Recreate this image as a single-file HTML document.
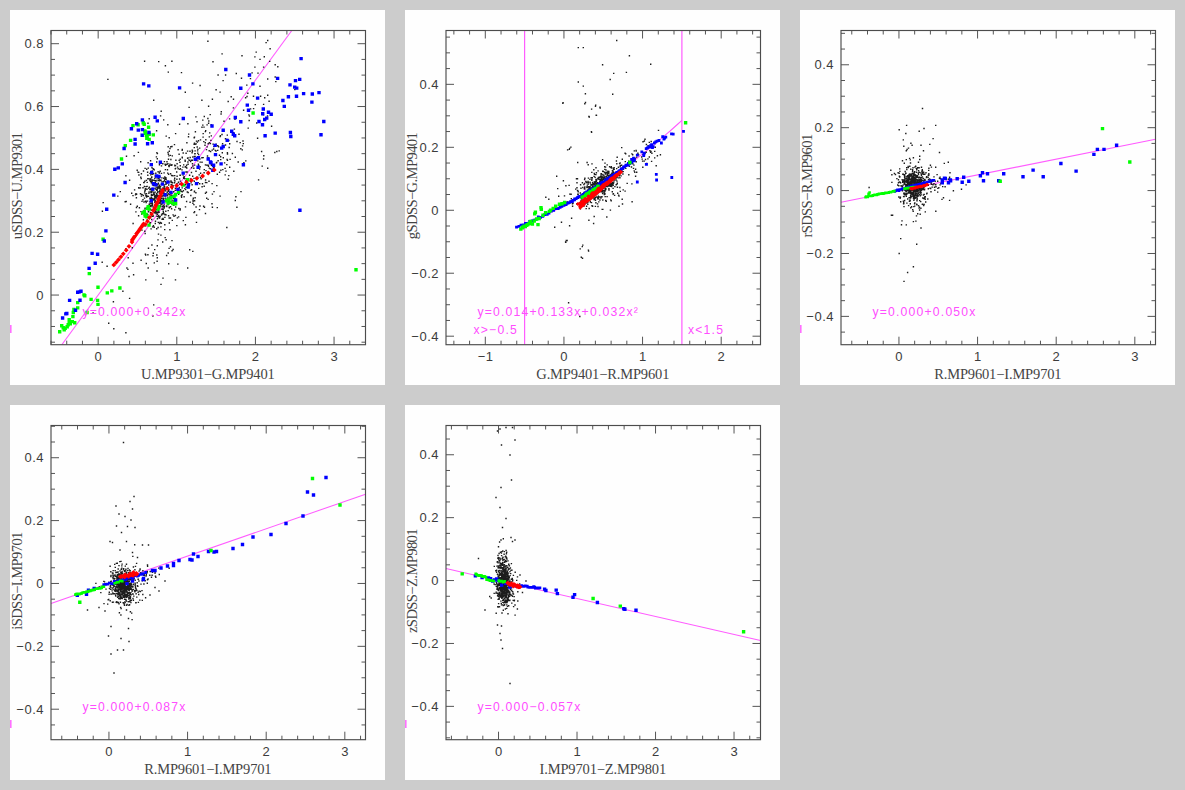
<!DOCTYPE html><html><head><meta charset="utf-8"><title>plots</title><style>
html,body{margin:0;padding:0;background:#ccc;}svg{display:block}.t{font-family:"Liberation Sans",sans-serif;font-size:13px;fill:#3c3c3c;letter-spacing:0.5px}.l{font-family:"Liberation Serif",serif;font-size:14.5px;fill:#444;letter-spacing:-0.15px}.m{font-family:"Liberation Sans",sans-serif;font-size:12.2px;fill:#ff4dff;letter-spacing:1.2px}
</style></head><body>
<svg width="1185" height="790" viewBox="0 0 1185 790">
<rect width="1185" height="790" fill="#cccccc"/>
<defs><filter id="bl" x="-5%" y="-5%" width="110%" height="110%"><feGaussianBlur stdDeviation="0.35"/></filter></defs>
<g>
<rect x="10" y="10" width="375" height="375" fill="#fefefe"/>
<path d="M10.8 325.0v8" stroke="#ff70ff" stroke-width="1.6"/>
<clipPath id="c0"><rect x="51.0" y="30.5" width="314.5" height="314.2"/></clipPath>
<g clip-path="url(#c0)" filter="url(#bl)">
<path d="M51.0 359.5L334.1 -27.3" stroke="#ff5cff" stroke-width="1.05"/><path d="M154.3 199.1h1.4M158.3 186.8h1.4M151.7 205.2h1.4M150.9 194.4h1.4M161.3 209.2h1.4M150.7 194.5h1.4M148.2 193.4h1.4M158.7 196.3h1.4M163.4 195.9h1.4M150.7 197.8h1.4M154.3 188.4h1.4M154.3 200.7h1.4M144.1 231.2h1.4M168.4 194.7h1.4M174.3 198.8h1.4M164.7 179.3h1.4M156.9 204.2h1.4M141.0 214.0h1.4M143.7 186.5h1.4M156.3 216.2h1.4M151.5 170.9h1.4M157.3 187.8h1.4M159.2 190.5h1.4M158.5 179.9h1.4M159.5 216.4h1.4M135.2 193.7h1.4M159.9 200.3h1.4M170.3 195.0h1.4M158.7 206.8h1.4M150.7 195.9h1.4M154.1 202.3h1.4M154.5 192.1h1.4M173.3 196.9h1.4M158.6 173.0h1.4M147.1 214.7h1.4M155.9 180.9h1.4M165.7 205.9h1.4M150.2 216.3h1.4M137.9 215.7h1.4M159.4 222.5h1.4M152.0 179.9h1.4M159.5 202.3h1.4M160.9 195.8h1.4M158.7 208.6h1.4M145.8 193.8h1.4M155.9 198.0h1.4M150.2 198.2h1.4M144.1 181.2h1.4M163.1 208.1h1.4M143.5 212.7h1.4M163.2 193.6h1.4M156.0 228.8h1.4M162.3 200.3h1.4M151.3 203.8h1.4M151.2 181.6h1.4M155.3 213.5h1.4M152.7 185.6h1.4M163.4 204.9h1.4M159.0 217.7h1.4M156.6 205.7h1.4M160.9 189.7h1.4M152.7 216.0h1.4M151.1 177.0h1.4M157.1 186.9h1.4M148.5 204.3h1.4M144.9 195.9h1.4M153.2 193.9h1.4M146.6 215.0h1.4M168.2 203.5h1.4M152.1 184.0h1.4M149.3 201.7h1.4M154.5 180.9h1.4M155.1 201.6h1.4M145.1 225.9h1.4M150.3 179.2h1.4M157.1 196.5h1.4M151.1 192.2h1.4M151.2 203.7h1.4M145.2 224.2h1.4M152.9 169.3h1.4M161.3 203.8h1.4M155.8 193.8h1.4M156.5 203.8h1.4M157.7 188.1h1.4M154.1 199.1h1.4M162.5 209.8h1.4M157.2 184.8h1.4M154.3 201.9h1.4M159.0 203.0h1.4M158.1 216.8h1.4M141.3 230.1h1.4M151.9 226.9h1.4M163.5 208.0h1.4M144.1 191.3h1.4M147.0 207.8h1.4M156.1 189.5h1.4M144.8 194.1h1.4M156.2 189.2h1.4M153.7 199.7h1.4M146.9 172.3h1.4M146.4 220.0h1.4M154.5 195.7h1.4M152.9 198.9h1.4M149.7 222.8h1.4M162.6 211.7h1.4M158.9 200.5h1.4M158.7 196.0h1.4M164.0 229.6h1.4M153.3 207.8h1.4M163.0 208.0h1.4M160.5 201.8h1.4M157.6 222.4h1.4M160.9 215.0h1.4M156.6 245.8h1.4M173.4 196.0h1.4M163.5 186.8h1.4M165.6 189.0h1.4M162.3 218.5h1.4M156.1 195.9h1.4M160.0 222.7h1.4M156.4 178.9h1.4M159.8 206.2h1.4M157.3 239.9h1.4M156.5 212.2h1.4M150.9 177.5h1.4M144.5 189.7h1.4M167.0 173.1h1.4M156.8 200.3h1.4M170.3 181.0h1.4M149.8 209.2h1.4M151.9 183.6h1.4M159.9 205.3h1.4M151.9 216.3h1.4M161.4 219.3h1.4M163.0 195.2h1.4M145.0 188.9h1.4M158.6 177.8h1.4M142.6 195.5h1.4M174.0 203.3h1.4M165.2 184.3h1.4M158.6 218.1h1.4M163.2 200.7h1.4M157.5 216.8h1.4M155.3 204.6h1.4M156.9 187.0h1.4M153.9 197.0h1.4M142.3 187.7h1.4M156.8 184.9h1.4M162.9 212.9h1.4M153.0 209.5h1.4M157.3 212.5h1.4M151.9 184.2h1.4M147.5 178.7h1.4M159.1 179.9h1.4M164.7 196.9h1.4M143.9 192.9h1.4M167.5 193.8h1.4M159.3 193.6h1.4M144.3 209.0h1.4M153.6 169.9h1.4M154.6 211.0h1.4M148.5 205.8h1.4M161.9 206.2h1.4M147.1 178.8h1.4M156.7 218.7h1.4M155.3 189.3h1.4M160.0 198.8h1.4M147.6 168.1h1.4M150.0 206.4h1.4M150.4 188.6h1.4M161.1 200.7h1.4M148.1 188.2h1.4M150.7 210.3h1.4M164.2 217.4h1.4M146.7 214.3h1.4M139.6 184.7h1.4M156.5 190.3h1.4M154.1 198.7h1.4M155.5 187.1h1.4M160.9 196.4h1.4M146.0 197.1h1.4M160.3 180.2h1.4M160.4 189.1h1.4M159.5 203.5h1.4M167.3 204.7h1.4M150.0 174.9h1.4M156.1 190.4h1.4M166.1 206.6h1.4M162.5 198.1h1.4M145.4 186.6h1.4M140.7 173.7h1.4M162.1 195.9h1.4M154.6 200.9h1.4M161.5 209.1h1.4M151.6 189.5h1.4M165.1 211.3h1.4M150.9 182.4h1.4M158.6 205.7h1.4M153.5 227.2h1.4M157.5 195.9h1.4M171.6 185.2h1.4M156.8 187.5h1.4M169.5 192.4h1.4M156.7 201.1h1.4M147.7 211.7h1.4M174.9 203.8h1.4M150.8 182.0h1.4M151.5 198.4h1.4M155.1 173.3h1.4M169.6 201.8h1.4M143.9 225.7h1.4M152.3 206.7h1.4M157.7 210.7h1.4M159.6 201.8h1.4M145.3 201.3h1.4M151.3 195.2h1.4M159.7 199.3h1.4M158.8 193.2h1.4M151.2 180.5h1.4M140.1 177.3h1.4M154.8 221.3h1.4M147.7 196.4h1.4M150.9 203.9h1.4M169.8 218.0h1.4M152.2 190.9h1.4M156.9 188.9h1.4M149.7 181.0h1.4M157.7 183.2h1.4M167.5 191.4h1.4M151.4 200.4h1.4M155.1 206.0h1.4M140.9 194.4h1.4M154.7 176.7h1.4M149.5 203.4h1.4M159.2 176.9h1.4M150.0 181.6h1.4M158.0 178.6h1.4M154.6 212.5h1.4M152.8 209.6h1.4M165.4 183.9h1.4M148.7 187.2h1.4M151.5 198.6h1.4M144.8 201.2h1.4M149.7 212.4h1.4M173.0 197.9h1.4M172.4 214.9h1.4M159.3 171.6h1.4M157.1 188.3h1.4M163.0 213.9h1.4M157.0 191.9h1.4M174.6 201.3h1.4M160.5 191.7h1.4M158.5 186.9h1.4M156.0 196.0h1.4M150.8 191.3h1.4M154.1 195.5h1.4M153.1 192.5h1.4M152.4 200.0h1.4M151.8 203.8h1.4M151.0 212.9h1.4M149.1 180.1h1.4M139.8 193.7h1.4M151.5 202.4h1.4M152.3 185.0h1.4M162.6 192.1h1.4M162.6 199.2h1.4M164.1 193.7h1.4M158.7 185.1h1.4M152.8 194.2h1.4M156.4 204.7h1.4M149.5 205.6h1.4M144.5 190.3h1.4M155.7 209.8h1.4M159.3 199.2h1.4M142.7 219.8h1.4M158.4 212.2h1.4M165.9 199.6h1.4M149.0 204.4h1.4M150.4 205.6h1.4M151.0 203.2h1.4M150.9 164.1h1.4M161.6 190.1h1.4M168.9 199.9h1.4M145.5 202.5h1.4M147.1 175.3h1.4M146.8 196.2h1.4M156.9 201.2h1.4M157.6 205.5h1.4M164.9 190.9h1.4M162.2 200.3h1.4M142.4 212.9h1.4M146.7 207.8h1.4M154.7 211.2h1.4M167.5 210.6h1.4M142.3 199.7h1.4M152.2 195.2h1.4M154.4 211.1h1.4M156.8 184.5h1.4M169.2 192.3h1.4M151.7 180.8h1.4M152.7 185.2h1.4M167.9 215.8h1.4M135.8 207.5h1.4M154.1 178.5h1.4M144.4 208.1h1.4M155.6 212.0h1.4M149.0 223.1h1.4M158.7 195.9h1.4M162.6 200.1h1.4M151.7 183.3h1.4M156.6 158.7h1.4M149.3 178.8h1.4M161.9 213.6h1.4M151.6 190.9h1.4M167.2 201.7h1.4M166.8 197.1h1.4M160.2 226.9h1.4M152.3 210.5h1.4M160.8 173.4h1.4M170.4 184.9h1.4M161.0 198.2h1.4M150.2 192.6h1.4M163.0 178.3h1.4M156.0 162.0h1.4M149.9 160.8h1.4M151.0 199.7h1.4M135.9 194.2h1.4M150.0 189.3h1.4M158.8 202.7h1.4M164.3 214.5h1.4M168.5 207.2h1.4M174.2 181.0h1.4M151.9 183.5h1.4M162.8 206.0h1.4M161.5 196.1h1.4M146.5 182.4h1.4M206.0 198.2h1.4M173.9 182.8h1.4M168.5 218.0h1.4M149.9 199.5h1.4M151.1 165.5h1.4M175.0 207.0h1.4M155.7 156.9h1.4M166.3 161.8h1.4M162.0 188.3h1.4M164.5 214.7h1.4M168.9 194.9h1.4M139.7 187.9h1.4M183.5 176.7h1.4M163.3 193.0h1.4M136.5 170.3h1.4M149.1 198.1h1.4M178.4 190.9h1.4M138.4 188.1h1.4M171.6 220.4h1.4M146.3 189.2h1.4M184.8 206.9h1.4M180.7 195.7h1.4M170.2 159.5h1.4M170.2 182.0h1.4M169.9 173.8h1.4M195.4 207.0h1.4M186.9 158.2h1.4M165.4 201.3h1.4M174.6 168.8h1.4M174.9 168.4h1.4M182.4 175.1h1.4M156.7 153.6h1.4M151.0 219.5h1.4M152.7 225.7h1.4M145.7 195.7h1.4M176.3 183.6h1.4M166.5 192.3h1.4M168.7 202.3h1.4M176.8 192.1h1.4M165.3 179.0h1.4M125.8 156.2h1.4M184.3 178.8h1.4M174.8 193.4h1.4M176.1 225.6h1.4M165.9 183.2h1.4M162.6 183.5h1.4M165.9 255.5h1.4M166.2 182.6h1.4M150.2 191.5h1.4M138.0 172.4h1.4M132.3 195.6h1.4M167.3 181.2h1.4M174.7 188.3h1.4M146.8 201.1h1.4M164.4 164.2h1.4M145.7 180.4h1.4M150.7 182.8h1.4M138.2 175.0h1.4M164.7 164.7h1.4M159.9 186.5h1.4M168.6 207.8h1.4M168.6 200.6h1.4M162.7 219.4h1.4M184.7 224.7h1.4M177.8 182.3h1.4M146.0 169.2h1.4M171.3 186.6h1.4M184.1 188.6h1.4M180.3 191.3h1.4M168.6 197.1h1.4M163.8 206.6h1.4M151.7 190.3h1.4M178.2 188.8h1.4M164.2 189.1h1.4M162.7 191.2h1.4M165.5 179.6h1.4M159.4 192.1h1.4M140.7 196.1h1.4M174.1 165.3h1.4M165.7 188.1h1.4M163.7 185.0h1.4M168.5 137.7h1.4M149.3 173.4h1.4M160.7 184.4h1.4M165.4 183.2h1.4M173.5 200.7h1.4M152.0 180.1h1.4M162.4 207.9h1.4M147.4 162.8h1.4M164.1 176.9h1.4M171.5 188.7h1.4M190.1 195.5h1.4M190.2 190.4h1.4M183.0 178.2h1.4M179.4 210.0h1.4M152.4 168.8h1.4M168.3 189.8h1.4M160.7 223.3h1.4M158.1 198.4h1.4M147.5 209.2h1.4M171.6 195.9h1.4M170.9 175.5h1.4M158.8 200.6h1.4M185.2 217.4h1.4M161.2 177.9h1.4M140.0 161.7h1.4M150.4 228.9h1.4M193.7 191.8h1.4M164.6 177.8h1.4M171.3 202.1h1.4M192.3 199.9h1.4M142.8 171.0h1.4M153.8 185.4h1.4M176.8 190.4h1.4M164.0 186.9h1.4M153.6 194.2h1.4M171.2 204.0h1.4M156.2 189.4h1.4M193.2 204.6h1.4M156.5 176.5h1.4M178.1 208.5h1.4M176.9 167.1h1.4M154.7 207.5h1.4M165.4 214.9h1.4M162.3 191.5h1.4M137.2 172.1h1.4M159.0 195.4h1.4M168.7 200.4h1.4M162.1 163.8h1.4M170.2 203.4h1.4M181.4 194.8h1.4M182.1 173.3h1.4M168.0 185.0h1.4M178.5 160.4h1.4M162.9 181.6h1.4M167.5 146.7h1.4M152.9 173.7h1.4M168.6 223.0h1.4M152.0 188.5h1.4M168.0 190.0h1.4M154.7 180.7h1.4M178.0 194.3h1.4M147.9 211.3h1.4M160.1 195.3h1.4M160.8 165.9h1.4M135.7 197.7h1.4M161.1 204.3h1.4M187.1 185.8h1.4M128.9 180.3h1.4M177.7 182.6h1.4M158.0 203.1h1.4M190.4 182.9h1.4M184.9 184.5h1.4M169.9 206.8h1.4M163.9 179.1h1.4M155.7 195.4h1.4M146.4 186.4h1.4M159.0 186.3h1.4M143.4 182.5h1.4M203.5 186.3h1.4M163.7 161.6h1.4M157.4 171.8h1.4M168.2 181.9h1.4M137.7 152.4h1.4M186.0 187.2h1.4M170.7 184.4h1.4M134.8 194.9h1.4M171.2 200.1h1.4M144.4 168.4h1.4M176.0 172.0h1.4M191.4 184.8h1.4M174.0 209.9h1.4M133.4 155.8h1.4M157.4 191.7h1.4M149.7 198.7h1.4M159.1 180.8h1.4M160.8 191.0h1.4M167.5 188.0h1.4M156.8 192.5h1.4M173.1 205.3h1.4M172.6 201.0h1.4M170.9 208.7h1.4M171.1 182.2h1.4M169.4 192.6h1.4M174.2 165.7h1.4M163.7 180.8h1.4M154.3 208.5h1.4M143.8 198.1h1.4M193.3 212.6h1.4M144.7 188.6h1.4M149.2 189.5h1.4M172.6 185.9h1.4M161.0 193.9h1.4M155.6 189.1h1.4M164.9 165.3h1.4M166.8 169.7h1.4M222.1 169.6h1.4M187.4 157.9h1.4M241.9 145.9h1.4M170.1 146.7h1.4M182.5 153.0h1.4M226.6 135.1h1.4M165.5 136.1h1.4M207.5 143.7h1.4M222.6 157.8h1.4M179.3 175.2h1.4M179.6 208.9h1.4M125.2 175.7h1.4M179.2 162.3h1.4M179.7 168.8h1.4M194.4 153.6h1.4M192.2 166.0h1.4M179.6 165.7h1.4M204.7 131.6h1.4M148.4 192.0h1.4M197.5 182.6h1.4M207.7 173.7h1.4M218.9 172.3h1.4M159.1 188.3h1.4M164.1 224.8h1.4M248.2 114.9h1.4M179.7 181.1h1.4M227.5 179.3h1.4M179.2 184.2h1.4M201.2 157.7h1.4M154.7 182.5h1.4M207.8 172.2h1.4M181.6 149.4h1.4M186.1 168.1h1.4M212.8 167.8h1.4M159.5 171.2h1.4M192.2 203.2h1.4M197.8 140.7h1.4M225.3 171.1h1.4M140.5 178.5h1.4M169.7 155.4h1.4M156.6 214.2h1.4M234.3 119.2h1.4M183.9 185.2h1.4M211.4 183.6h1.4M202.5 157.6h1.4M155.3 197.6h1.4M160.1 199.4h1.4M167.9 201.3h1.4M228.1 140.5h1.4M209.9 151.5h1.4M199.9 173.2h1.4M204.8 193.3h1.4M201.4 186.7h1.4M205.8 149.6h1.4M207.4 199.4h1.4M194.0 165.1h1.4M195.2 116.9h1.4M184.9 189.6h1.4M196.9 177.3h1.4M178.4 154.3h1.4M182.7 190.7h1.4M244.9 97.7h1.4M181.5 187.9h1.4M193.9 200.7h1.4M196.1 157.7h1.4M208.6 168.1h1.4M194.7 131.7h1.4M208.5 150.7h1.4M193.1 168.3h1.4M185.4 153.2h1.4M201.3 175.8h1.4M245.1 160.9h1.4M159.5 197.3h1.4M204.8 182.5h1.4M203.8 207.2h1.4M202.4 137.1h1.4M138.0 187.7h1.4M210.8 165.3h1.4M209.0 132.9h1.4M181.5 191.7h1.4M185.3 172.0h1.4M199.1 159.0h1.4M184.4 160.1h1.4M154.5 197.2h1.4M199.7 177.4h1.4M186.4 172.0h1.4M161.5 214.0h1.4M199.0 183.8h1.4M165.2 198.6h1.4M188.9 175.2h1.4M169.2 229.8h1.4M153.4 180.4h1.4M185.9 201.5h1.4M216.6 174.3h1.4M174.0 178.3h1.4M159.4 187.1h1.4M214.7 154.8h1.4M192.0 176.3h1.4M160.4 163.3h1.4M160.1 206.5h1.4M196.9 150.9h1.4M124.5 201.7h1.4M190.9 189.7h1.4M159.3 188.9h1.4M133.9 189.9h1.4M197.2 149.3h1.4M189.4 202.2h1.4M171.2 164.8h1.4M167.3 187.6h1.4M164.9 181.8h1.4M206.6 165.1h1.4M207.8 166.3h1.4M179.9 189.8h1.4M219.7 135.8h1.4M199.3 206.0h1.4M179.7 175.2h1.4M173.8 180.0h1.4M195.9 215.1h1.4M101.7 211.2h1.4M164.2 190.7h1.4M193.6 181.2h1.4M177.4 149.8h1.4M196.5 147.0h1.4M210.6 124.7h1.4M226.4 159.5h1.4M210.7 164.2h1.4M220.2 170.2h1.4M195.3 171.3h1.4M167.3 152.5h1.4M202.1 125.1h1.4M156.2 152.8h1.4M186.6 192.0h1.4M155.4 184.1h1.4M156.3 194.5h1.4M176.4 176.2h1.4M224.5 174.9h1.4M192.1 157.0h1.4M203.6 169.6h1.4M199.0 148.1h1.4M214.6 150.4h1.4M229.0 167.2h1.4M224.4 168.4h1.4M229.0 143.8h1.4M186.9 151.1h1.4M204.7 164.9h1.4M202.5 133.6h1.4M165.2 177.7h1.4M136.6 206.3h1.4M242.1 163.8h1.4M229.4 159.4h1.4M239.5 142.6h1.4M180.9 197.2h1.4M226.8 154.0h1.4M207.3 157.6h1.4M188.2 159.9h1.4M226.7 152.8h1.4M192.6 198.2h1.4M199.6 166.9h1.4M180.8 196.2h1.4M189.8 179.0h1.4M209.7 168.7h1.4M220.0 159.6h1.4M218.8 155.3h1.4M183.4 177.7h1.4M221.6 152.8h1.4M174.8 165.6h1.4M172.3 175.7h1.4M138.7 207.8h1.4M204.9 180.0h1.4M197.9 154.6h1.4M183.0 164.9h1.4M192.4 201.2h1.4M194.1 153.8h1.4M167.7 191.6h1.4M200.4 178.8h1.4M193.4 144.3h1.4M194.4 144.2h1.4M158.8 164.8h1.4M201.8 183.8h1.4M178.6 187.4h1.4M177.9 216.9h1.4M248.5 120.5h1.4M161.3 181.7h1.4M174.7 190.4h1.4M233.0 132.7h1.4M181.5 150.2h1.4M141.3 201.4h1.4M208.6 136.9h1.4M215.4 144.1h1.4M193.8 143.1h1.4M131.0 193.3h1.4M140.3 211.6h1.4M204.8 213.5h1.4M176.4 163.8h1.4M168.5 166.6h1.4M198.9 169.1h1.4M132.4 223.5h1.4M198.0 188.4h1.4M170.8 184.8h1.4M169.3 165.2h1.4M240.1 148.7h1.4M182.2 167.1h1.4M163.7 189.8h1.4M164.7 169.6h1.4M179.1 169.4h1.4M210.2 140.4h1.4M153.6 212.7h1.4M175.2 160.3h1.4M223.9 162.9h1.4M143.7 215.2h1.4M228.1 175.6h1.4M189.5 157.5h1.4M195.2 192.8h1.4M187.5 192.5h1.4M155.8 185.4h1.4M205.3 170.6h1.4M187.8 136.7h1.4M226.1 164.6h1.4M203.1 141.6h1.4M216.7 145.7h1.4M159.0 191.5h1.4M143.0 182.6h1.4M199.5 162.1h1.4M174.7 215.5h1.4M168.1 166.1h1.4M174.0 175.6h1.4M190.8 172.5h1.4M188.7 160.4h1.4M173.0 191.7h1.4M177.5 168.8h1.4M201.3 162.2h1.4M157.6 180.6h1.4M207.5 165.3h1.4M194.4 197.8h1.4M181.3 169.9h1.4M187.2 162.0h1.4M166.6 195.2h1.4M197.9 165.4h1.4M168.6 151.2h1.4M178.9 124.3h1.4M197.1 153.3h1.4M151.3 167.8h1.4M205.7 192.2h1.4M208.6 142.7h1.4M181.6 157.8h1.4M191.4 152.8h1.4M183.4 196.8h1.4M154.5 175.9h1.4M193.8 137.1h1.4M125.5 201.5h1.4M167.4 193.9h1.4M206.8 156.0h1.4M233.1 171.2h1.4M168.1 165.6h1.4M186.2 142.7h1.4M155.4 196.9h1.4M213.2 146.6h1.4M213.4 167.2h1.4M182.6 220.6h1.4M162.3 193.2h1.4M173.8 144.6h1.4M226.8 160.4h1.4M212.4 144.1h1.4M193.9 211.7h1.4M217.4 160.8h1.4M206.1 182.6h1.4M149.1 217.5h1.4M216.0 162.4h1.4M185.3 180.7h1.4M195.8 141.1h1.4M173.0 198.6h1.4M176.2 179.2h1.4M182.9 177.4h1.4M237.5 162.0h1.4M181.5 157.3h1.4M242.3 141.0h1.4M205.6 165.1h1.4M195.5 143.9h1.4M146.0 208.5h1.4M209.7 143.5h1.4M191.8 163.8h1.4M141.4 194.6h1.4M193.6 147.6h1.4M163.4 172.9h1.4M168.2 155.9h1.4M217.0 150.4h1.4M216.1 185.6h1.4M171.9 182.8h1.4M212.9 149.0h1.4M198.5 174.9h1.4M202.9 206.2h1.4M184.9 166.7h1.4M169.3 164.2h1.4M148.3 206.6h1.4M185.3 187.3h1.4M221.3 134.5h1.4M193.5 137.7h1.4M224.8 138.8h1.4M201.3 127.2h1.4M163.0 119.9h1.4M166.2 164.2h1.4M242.6 143.6h1.4M167.9 174.2h1.4M193.7 156.5h1.4M242.9 110.3h1.4M270.9 126.3h1.4M198.8 209.6h1.4M262.9 104.4h1.4M174.9 133.6h1.4M248.7 116.1h1.4M191.7 160.3h1.4M256.0 123.0h1.4M195.8 222.4h1.4M231.7 153.5h1.4M199.8 139.9h1.4M226.2 139.4h1.4M219.4 92.1h1.4M238.3 134.2h1.4M205.1 139.7h1.4M233.7 129.1h1.4M206.4 124.9h1.4M205.0 130.6h1.4M171.3 146.5h1.4M196.7 142.1h1.4M197.1 160.9h1.4M215.8 162.7h1.4M223.3 121.2h1.4M193.8 191.1h1.4M266.8 116.0h1.4M232.8 99.2h1.4M232.7 107.9h1.4M180.8 72.6h1.4M185.8 167.5h1.4M246.3 96.5h1.4M187.4 164.2h1.4M160.5 111.3h1.4M184.5 167.0h1.4M206.5 146.9h1.4M211.7 99.3h1.4M169.3 148.5h1.4M209.5 114.6h1.4M191.8 151.2h1.4M170.9 165.2h1.4M194.4 150.9h1.4M217.2 145.7h1.4M193.3 178.4h1.4M208.3 181.2h1.4M203.4 172.7h1.4M241.6 149.9h1.4M228.5 147.5h1.4M189.7 181.4h1.4M194.4 156.5h1.4M167.2 163.8h1.4M224.8 145.0h1.4M220.4 114.0h1.4M179.5 159.3h1.4M190.5 160.2h1.4M256.9 138.2h1.4M155.9 130.8h1.4M163.4 188.3h1.4M135.2 211.9h1.4M236.3 141.5h1.4M202.1 120.1h1.4M151.5 174.2h1.4M221.9 143.7h1.4M252.9 108.6h1.4M228.9 118.9h1.4M185.9 165.3h1.4M166.4 186.9h1.4M227.5 101.5h1.4M163.2 198.7h1.4M197.7 164.3h1.4M178.9 179.0h1.4M243.2 162.6h1.4M211.5 150.1h1.4M167.1 124.7h1.4M254.2 56.9h1.4M294.1 89.6h1.4M240.8 78.3h1.4M254.6 104.6h1.4M263.1 155.7h1.4M217.9 146.8h1.4M167.8 159.3h1.4M184.5 161.3h1.4M262.7 114.9h1.4M249.9 108.9h1.4M247.5 128.1h1.4M191.5 150.1h1.4M203.3 127.1h1.4M220.6 111.7h1.4M188.0 134.1h1.4M215.3 151.0h1.4M204.6 142.7h1.4M190.9 167.8h1.4M220.0 156.7h1.4M162.6 193.2h1.4M208.1 121.0h1.4M171.6 155.9h1.4M187.2 123.7h1.4M231.0 130.9h1.4M207.9 123.2h1.4M204.3 145.2h1.4M189.3 151.2h1.4M219.4 136.6h1.4M234.6 157.2h1.4M210.6 135.9h1.4M189.9 161.5h1.4M167.7 154.2h1.4M168.4 248.4h1.4M173.3 216.2h1.4M168.0 263.7h1.4M154.0 249.6h1.4M145.0 255.0h1.4M143.3 202.0h1.4M153.0 304.9h1.4M145.6 263.5h1.4M147.2 254.7h1.4M150.4 206.6h1.4M162.0 242.0h1.4M152.3 255.7h1.4M127.5 257.7h1.4M156.1 255.0h1.4M147.8 248.3h1.4M144.7 254.2h1.4M177.1 264.1h1.4M143.6 212.7h1.4M151.2 245.0h1.4M157.9 195.4h1.4M176.7 217.9h1.4M167.5 253.0h1.4M157.8 234.1h1.4M156.4 261.3h1.4M160.2 235.1h1.4M156.3 271.0h1.4M171.3 240.6h1.4M157.9 215.5h1.4M158.8 223.5h1.4M157.4 227.5h1.4M142.3 211.8h1.4M169.8 246.8h1.4M145.1 279.9h1.4M172.4 249.5h1.4M165.4 239.7h1.4M164.5 237.6h1.4M144.5 233.5h1.4M154.6 223.5h1.4M131.6 247.8h1.4M174.8 279.9h1.4M207.2 41.3h1.4M143.9 61.2h1.4M158.0 61.6h1.4M171.2 61.2h1.4M164.7 65.8h1.4M167.6 72.1h1.4M107.2 79.4h1.4M191.9 83.1h1.4M199.4 85.5h1.4M184.6 92.2h1.4M153.0 100.3h1.4M201.2 100.3h1.4M188.4 107.4h1.4M207.9 106.2h1.4M159.9 115.9h1.4M203.6 116.5h1.4M207.2 118.5h1.4M148.5 118.7h1.4M196.3 121.7h1.4M147.3 123.2h1.4M267.0 40.5h1.4M265.4 42.6h1.4M269.4 48.8h1.4M255.5 52.1h1.4M221.4 53.9h1.4M241.3 55.7h1.4M263.6 56.7h1.4M212.3 61.8h1.4M259.3 59.4h1.4M269.0 61.4h1.4M274.5 64.8h1.4M277.1 66.7h1.4M254.2 67.1h1.4M262.9 67.1h1.4M235.6 73.5h1.4M251.4 72.9h1.4M257.3 73.1h1.4M217.4 75.0h1.4M224.9 75.0h1.4M249.8 78.6h1.4M267.0 79.0h1.4M274.5 77.0h1.4M275.1 81.6h1.4M222.4 80.6h1.4M246.1 85.1h1.4M259.3 86.3h1.4M215.4 89.7h1.4M247.1 93.2h1.4M252.8 96.2h1.4M259.9 96.2h1.4M267.0 95.2h1.4M264.0 97.8h1.4M230.5 96.8h1.4M268.4 101.3h1.4M274.1 152.5h1.4M276.1 151.5h1.4M278.5 150.9h1.4M257.9 179.9h1.4M267.0 168.3h1.4M261.5 166.1h1.4M262.9 159.0h1.4M260.9 151.5h1.4M213.3 191.6h1.4M211.7 194.1h1.4M219.4 196.1h1.4M240.3 191.6h1.4M235.2 196.7h1.4M234.6 200.5h1.4M211.3 203.8h1.4M211.7 207.2h1.4M216.6 207.6h1.4M236.2 207.2h1.4M226.1 227.5h1.4M119.6 191.6h1.4M117.1 196.1h1.4M102.5 202.6h1.4M129.9 204.2h1.4M101.5 262.3h1.4M106.4 266.2h1.4M125.2 248.7h1.4M126.2 268.0h1.4M127.2 269.4h1.4M132.3 263.3h1.4M140.4 260.3h1.4M132.9 274.7h1.4M128.3 276.5h1.4M162.3 278.1h1.4M160.3 284.4h1.4M122.2 291.3h1.4M128.9 298.4h1.4M112.7 301.8h1.4M92.4 312.9h1.4M152.2 316.0h1.4M108.0 323.3h1.4M113.1 328.7h1.4M125.2 332.8h1.4M187.0 268.0h1.4M189.0 249.7h1.4M192.1 251.4h1.4M171.4 250.8h1.4M153.6 262.9h1.4M147.5 268.0h1.4M152.6 253.2h1.4M156.6 257.8h1.4" stroke="#1c1c1c" stroke-width="1.4" fill="none"/><path d="M101.4 237.5h3.4v3.4h-3.4zM87.6 271.9h3.4v3.4h-3.4zM96.3 285.5h3.4v3.4h-3.4zM118.2 286.3h3.4v3.4h-3.4zM110.1 289.2h3.4v3.4h-3.4zM105.6 291.2h3.4v3.4h-3.4zM82.3 293.2h3.4v3.4h-3.4zM83.1 294.0h3.4v3.4h-3.4zM89.4 297.7h3.4v3.4h-3.4zM95.9 298.7h3.4v3.4h-3.4zM96.3 302.7h3.4v3.4h-3.4zM76.0 300.9h3.4v3.4h-3.4zM76.0 306.2h3.4v3.4h-3.4zM72.2 307.8h3.4v3.4h-3.4zM71.6 310.8h3.4v3.4h-3.4zM71.2 314.9h3.4v3.4h-3.4zM67.5 317.9h3.4v3.4h-3.4zM73.0 321.0h3.4v3.4h-3.4zM68.6 322.0h3.4v3.4h-3.4zM65.5 325.0h3.4v3.4h-3.4zM60.0 324.0h3.4v3.4h-3.4zM62.5 328.0h3.4v3.4h-3.4zM58.0 330.1h3.4v3.4h-3.4zM85.4 310.8h3.4v3.4h-3.4zM63.5 326.6h3.4v3.4h-3.4zM61.5 326.0h3.4v3.4h-3.4zM66.5 323.0h3.4v3.4h-3.4zM70.6 319.9h3.4v3.4h-3.4zM67.5 321.0h3.4v3.4h-3.4zM131.3 123.9h3.4v3.4h-3.4zM136.4 123.1h3.4v3.4h-3.4zM141.5 121.1h3.4v3.4h-3.4zM142.5 122.5h3.4v3.4h-3.4zM146.9 125.5h3.4v3.4h-3.4zM143.1 129.2h3.4v3.4h-3.4zM143.5 131.6h3.4v3.4h-3.4zM144.7 133.6h3.4v3.4h-3.4zM147.5 132.6h3.4v3.4h-3.4zM151.6 133.2h3.4v3.4h-3.4zM145.1 136.7h3.4v3.4h-3.4zM147.5 137.7h3.4v3.4h-3.4zM128.9 138.7h3.4v3.4h-3.4zM123.6 143.9h3.4v3.4h-3.4zM119.8 157.3h3.4v3.4h-3.4zM145.5 135.2h3.4v3.4h-3.4zM143.9 130.2h3.4v3.4h-3.4zM141.2 211.2h3.4v3.4h-3.4zM142.7 209.7h3.4v3.4h-3.4zM144.3 212.7h3.4v3.4h-3.4zM145.8 206.7h3.4v3.4h-3.4zM146.5 205.1h3.4v3.4h-3.4zM143.5 214.3h3.4v3.4h-3.4zM145.0 215.0h3.4v3.4h-3.4zM147.3 207.4h3.4v3.4h-3.4zM164.8 199.1h3.4v3.4h-3.4zM167.0 197.5h3.4v3.4h-3.4zM169.3 196.0h3.4v3.4h-3.4zM172.4 194.5h3.4v3.4h-3.4zM173.9 193.0h3.4v3.4h-3.4zM176.9 190.7h3.4v3.4h-3.4zM173.1 199.8h3.4v3.4h-3.4zM171.6 202.1h3.4v3.4h-3.4zM168.6 200.6h3.4v3.4h-3.4zM166.3 201.3h3.4v3.4h-3.4zM173.9 202.1h3.4v3.4h-3.4zM186.0 178.1h3.4v3.4h-3.4zM181.5 183.4h3.4v3.4h-3.4zM156.4 207.4h3.4v3.4h-3.4zM157.2 205.1h3.4v3.4h-3.4zM147.3 223.4h3.4v3.4h-3.4zM251.4 111.3h3.4v3.4h-3.4zM354.3 268.1h3.4v3.4h-3.4z" fill="#00ff00"/><path d="M112.1 193.4h3.4v3.4h-3.4zM105.0 207.5h3.4v3.4h-3.4zM104.2 229.2h3.4v3.4h-3.4zM102.6 239.3h3.4v3.4h-3.4zM90.4 251.7h3.4v3.4h-3.4zM95.9 252.5h3.4v3.4h-3.4zM93.5 261.6h3.4v3.4h-3.4zM87.4 266.7h3.4v3.4h-3.4zM76.0 290.6h3.4v3.4h-3.4zM79.3 289.6h3.4v3.4h-3.4zM67.9 298.7h3.4v3.4h-3.4zM78.3 298.5h3.4v3.4h-3.4zM73.8 308.6h3.4v3.4h-3.4zM65.1 311.8h3.4v3.4h-3.4zM64.1 312.2h3.4v3.4h-3.4zM60.9 316.3h3.4v3.4h-3.4zM77.7 290.2h3.4v3.4h-3.4zM141.9 82.2h3.4v3.4h-3.4zM147.1 84.2h3.4v3.4h-3.4zM177.9 86.2h3.4v3.4h-3.4zM181.6 116.8h3.4v3.4h-3.4zM153.4 115.6h3.4v3.4h-3.4zM155.6 119.2h3.4v3.4h-3.4zM140.7 118.2h3.4v3.4h-3.4zM135.0 122.1h3.4v3.4h-3.4zM129.7 127.1h3.4v3.4h-3.4zM136.6 128.4h3.4v3.4h-3.4zM140.7 127.9h3.4v3.4h-3.4zM147.3 130.8h3.4v3.4h-3.4zM140.5 133.6h3.4v3.4h-3.4zM133.4 137.7h3.4v3.4h-3.4zM133.4 142.3h3.4v3.4h-3.4zM145.9 142.1h3.4v3.4h-3.4zM150.6 141.1h3.4v3.4h-3.4zM122.4 146.8h3.4v3.4h-3.4zM120.6 162.2h3.4v3.4h-3.4zM116.6 166.2h3.4v3.4h-3.4zM113.1 167.6h3.4v3.4h-3.4zM123.4 180.8h3.4v3.4h-3.4zM299.4 56.9h3.4v3.4h-3.4zM224.1 67.8h3.4v3.4h-3.4zM247.8 73.3h3.4v3.4h-3.4zM275.9 76.7h3.4v3.4h-3.4zM298.0 77.7h3.4v3.4h-3.4zM293.8 78.9h3.4v3.4h-3.4zM288.3 83.2h3.4v3.4h-3.4zM251.2 82.2h3.4v3.4h-3.4zM239.1 86.6h3.4v3.4h-3.4zM293.0 85.4h3.4v3.4h-3.4zM295.0 86.4h3.4v3.4h-3.4zM317.3 90.9h3.4v3.4h-3.4zM301.9 91.9h3.4v3.4h-3.4zM310.6 92.3h3.4v3.4h-3.4zM294.8 94.5h3.4v3.4h-3.4zM286.7 95.1h3.4v3.4h-3.4zM255.9 96.4h3.4v3.4h-3.4zM281.2 98.8h3.4v3.4h-3.4zM310.2 100.4h3.4v3.4h-3.4zM282.6 104.7h3.4v3.4h-3.4zM245.6 103.4h3.4v3.4h-3.4zM246.8 108.5h3.4v3.4h-3.4zM261.6 107.3h3.4v3.4h-3.4zM261.0 112.1h3.4v3.4h-3.4zM266.8 110.5h3.4v3.4h-3.4zM269.5 112.6h3.4v3.4h-3.4zM265.0 116.4h3.4v3.4h-3.4zM263.0 117.8h3.4v3.4h-3.4zM233.6 115.8h3.4v3.4h-3.4zM239.1 120.0h3.4v3.4h-3.4zM257.3 119.8h3.4v3.4h-3.4zM260.8 123.1h3.4v3.4h-3.4zM322.1 119.8h3.4v3.4h-3.4zM210.3 124.3h3.4v3.4h-3.4zM221.5 128.6h3.4v3.4h-3.4zM230.0 129.6h3.4v3.4h-3.4zM231.6 132.6h3.4v3.4h-3.4zM233.0 134.0h3.4v3.4h-3.4zM273.5 131.4h3.4v3.4h-3.4zM288.7 130.8h3.4v3.4h-3.4zM289.1 134.8h3.4v3.4h-3.4zM263.4 134.0h3.4v3.4h-3.4zM319.3 133.0h3.4v3.4h-3.4zM225.5 138.7h3.4v3.4h-3.4zM213.4 143.7h3.4v3.4h-3.4zM221.5 144.8h3.4v3.4h-3.4zM220.0 146.4h3.4v3.4h-3.4zM213.8 152.9h3.4v3.4h-3.4zM209.3 161.0h3.4v3.4h-3.4zM211.9 163.6h3.4v3.4h-3.4zM219.4 162.2h3.4v3.4h-3.4zM241.7 163.0h3.4v3.4h-3.4zM211.3 168.5h3.4v3.4h-3.4zM298.2 208.6h3.4v3.4h-3.4zM149.6 162.9h3.4v3.4h-3.4zM158.7 160.6h3.4v3.4h-3.4zM150.0 170.7h3.4v3.4h-3.4zM154.9 174.3h3.4v3.4h-3.4zM157.2 174.8h3.4v3.4h-3.4zM151.8 182.0h3.4v3.4h-3.4zM154.1 183.1h3.4v3.4h-3.4zM160.7 182.4h3.4v3.4h-3.4zM166.3 180.4h3.4v3.4h-3.4zM151.1 187.4h3.4v3.4h-3.4zM163.5 193.0h3.4v3.4h-3.4zM169.3 190.7h3.4v3.4h-3.4zM149.6 199.1h3.4v3.4h-3.4zM161.4 200.3h3.4v3.4h-3.4zM173.9 198.3h3.4v3.4h-3.4zM181.5 171.4h3.4v3.4h-3.4zM176.2 187.7h3.4v3.4h-3.4zM186.8 183.1h3.4v3.4h-3.4zM186.5 185.4h3.4v3.4h-3.4zM194.8 181.9h3.4v3.4h-3.4zM193.6 157.6h3.4v3.4h-3.4zM196.7 156.1h3.4v3.4h-3.4zM196.4 165.6h3.4v3.4h-3.4zM206.5 157.3h3.4v3.4h-3.4zM208.8 160.3h3.4v3.4h-3.4zM211.8 163.4h3.4v3.4h-3.4zM211.1 168.7h3.4v3.4h-3.4z" fill="#0000ff"/><path d="M113.8 262.5l2.4 2.4l-2.4 2.4l-2.4 -2.4zM116.2 259.9l2.4 2.4l-2.4 2.4l-2.4 -2.4zM118.5 257.3l2.4 2.4l-2.4 2.4l-2.4 -2.4zM120.9 254.4l2.4 2.4l-2.4 2.4l-2.4 -2.4zM123.3 251.4l2.4 2.4l-2.4 2.4l-2.4 -2.4zM126.2 247.8l2.4 2.4l-2.4 2.4l-2.4 -2.4zM129.0 243.9l2.4 2.4l-2.4 2.4l-2.4 -2.4zM132.0 239.7l2.4 2.4l-2.4 2.4l-2.4 -2.4zM132.2 237.6l2.4 2.4l-2.4 2.4l-2.4 -2.4zM133.1 236.4l2.4 2.4l-2.4 2.4l-2.4 -2.4zM133.9 235.1l2.4 2.4l-2.4 2.4l-2.4 -2.4zM134.8 233.9l2.4 2.4l-2.4 2.4l-2.4 -2.4zM135.7 232.7l2.4 2.4l-2.4 2.4l-2.4 -2.4zM136.5 231.4l2.4 2.4l-2.4 2.4l-2.4 -2.4zM137.4 230.2l2.4 2.4l-2.4 2.4l-2.4 -2.4zM138.3 229.0l2.4 2.4l-2.4 2.4l-2.4 -2.4zM139.2 227.8l2.4 2.4l-2.4 2.4l-2.4 -2.4zM140.0 226.5l2.4 2.4l-2.4 2.4l-2.4 -2.4zM140.9 225.3l2.4 2.4l-2.4 2.4l-2.4 -2.4zM141.8 224.1l2.4 2.4l-2.4 2.4l-2.4 -2.4zM142.6 222.8l2.4 2.4l-2.4 2.4l-2.4 -2.4zM143.5 221.6l2.4 2.4l-2.4 2.4l-2.4 -2.4zM145.2 221.9l2.4 2.4l-2.4 2.4l-2.4 -2.4zM147.5 218.9l2.4 2.4l-2.4 2.4l-2.4 -2.4zM149.3 215.1l2.4 2.4l-2.4 2.4l-2.4 -2.4zM151.6 211.7l2.4 2.4l-2.4 2.4l-2.4 -2.4zM153.5 208.2l2.4 2.4l-2.4 2.4l-2.4 -2.4zM154.0 207.0l2.4 2.4l-2.4 2.4l-2.4 -2.4zM154.6 205.8l2.4 2.4l-2.4 2.4l-2.4 -2.4zM155.1 204.6l2.4 2.4l-2.4 2.4l-2.4 -2.4zM155.7 203.4l2.4 2.4l-2.4 2.4l-2.4 -2.4zM156.2 202.2l2.4 2.4l-2.4 2.4l-2.4 -2.4zM156.7 201.0l2.4 2.4l-2.4 2.4l-2.4 -2.4zM157.3 199.8l2.4 2.4l-2.4 2.4l-2.4 -2.4zM157.8 198.6l2.4 2.4l-2.4 2.4l-2.4 -2.4zM158.4 197.3l2.4 2.4l-2.4 2.4l-2.4 -2.4zM158.9 196.1l2.4 2.4l-2.4 2.4l-2.4 -2.4zM159.5 194.9l2.4 2.4l-2.4 2.4l-2.4 -2.4zM160.0 193.7l2.4 2.4l-2.4 2.4l-2.4 -2.4zM160.5 192.5l2.4 2.4l-2.4 2.4l-2.4 -2.4zM161.1 191.3l2.4 2.4l-2.4 2.4l-2.4 -2.4zM161.6 190.1l2.4 2.4l-2.4 2.4l-2.4 -2.4zM162.2 188.9l2.4 2.4l-2.4 2.4l-2.4 -2.4zM162.7 187.7l2.4 2.4l-2.4 2.4l-2.4 -2.4zM167.2 186.2l2.4 2.4l-2.4 2.4l-2.4 -2.4zM171.8 184.7l2.4 2.4l-2.4 2.4l-2.4 -2.4zM176.6 183.2l2.4 2.4l-2.4 2.4l-2.4 -2.4zM181.6 181.7l2.4 2.4l-2.4 2.4l-2.4 -2.4zM186.5 179.8l2.4 2.4l-2.4 2.4l-2.4 -2.4zM191.5 177.9l2.4 2.4l-2.4 2.4l-2.4 -2.4zM196.8 175.9l2.4 2.4l-2.4 2.4l-2.4 -2.4zM202.6 173.6l2.4 2.4l-2.4 2.4l-2.4 -2.4zM208.2 170.6l2.4 2.4l-2.4 2.4l-2.4 -2.4zM214.3 167.5l2.4 2.4l-2.4 2.4l-2.4 -2.4z" fill="#ff0000"/>
</g>
<path d="M51.00 344.70v-4M51.00 30.50v4M66.72 344.70v-4M66.72 30.50v4M82.45 344.70v-4M82.45 30.50v4M98.17 344.70v-8M98.17 30.50v8M113.90 344.70v-4M113.90 30.50v4M129.62 344.70v-4M129.62 30.50v4M145.35 344.70v-4M145.35 30.50v4M161.07 344.70v-4M161.07 30.50v4M176.80 344.70v-8M176.80 30.50v8M192.53 344.70v-4M192.53 30.50v4M208.25 344.70v-4M208.25 30.50v4M223.98 344.70v-4M223.98 30.50v4M239.70 344.70v-4M239.70 30.50v4M255.43 344.70v-8M255.43 30.50v8M271.15 344.70v-4M271.15 30.50v4M286.88 344.70v-4M286.88 30.50v4M302.60 344.70v-4M302.60 30.50v4M318.33 344.70v-4M318.33 30.50v4M334.05 344.70v-8M334.05 30.50v8M349.78 344.70v-4M349.78 30.50v4M365.50 344.70v-4M365.50 30.50v4M51.00 342.19h4M365.50 342.19h-4M51.00 326.48h4M365.50 326.48h-4M51.00 310.77h4M365.50 310.77h-4M51.00 295.06h8M365.50 295.06h-8M51.00 279.35h4M365.50 279.35h-4M51.00 263.64h4M365.50 263.64h-4M51.00 247.93h4M365.50 247.93h-4M51.00 232.22h8M365.50 232.22h-8M51.00 216.51h4M365.50 216.51h-4M51.00 200.80h4M365.50 200.80h-4M51.00 185.09h4M365.50 185.09h-4M51.00 169.38h8M365.50 169.38h-8M51.00 153.67h4M365.50 153.67h-4M51.00 137.96h4M365.50 137.96h-4M51.00 122.25h4M365.50 122.25h-4M51.00 106.54h8M365.50 106.54h-8M51.00 90.83h4M365.50 90.83h-4M51.00 75.12h4M365.50 75.12h-4M51.00 59.41h4M365.50 59.41h-4M51.00 43.70h8M365.50 43.70h-8" stroke="#555" stroke-width="1" fill="none"/>
<rect x="51.00" y="30.50" width="314.50" height="314.20" fill="none" stroke="#4c4c4c" stroke-width="1.15"/>
<text class="t" x="98.4" y="360.9" text-anchor="middle">0</text>
<text class="t" x="177.1" y="360.9" text-anchor="middle">1</text>
<text class="t" x="255.7" y="360.9" text-anchor="middle">2</text>
<text class="t" x="334.3" y="360.9" text-anchor="middle">3</text>
<text class="t" x="44.0" y="299.7" text-anchor="end">0</text>
<text class="t" x="44.0" y="236.8" text-anchor="end">0.2</text>
<text class="t" x="44.0" y="174.0" text-anchor="end">0.4</text>
<text class="t" x="44.0" y="111.1" text-anchor="end">0.6</text>
<text class="t" x="44.0" y="48.3" text-anchor="end">0.8</text>
<text class="l" x="207.8" y="379.2" text-anchor="middle">U.MP9301−G.MP9401</text>
<text class="l" style="letter-spacing:-0.55px" transform="translate(22.0 186.0) rotate(-90)" text-anchor="middle">uSDSS−U.MP9301</text>
<text class="m" x="82.4" y="316.4">y=0.000+0.342x</text>
</g>
<g>
<rect x="405" y="10" width="375" height="375" fill="#fefefe"/>
<clipPath id="c1"><rect x="446.0" y="30.5" width="314.5" height="314.2"/></clipPath>
<g clip-path="url(#c1)" filter="url(#bl)">
<path d="M524.6 224.3L528.6 222.7L532.5 221.0L536.4 219.3L540.4 217.5L544.3 215.7L548.2 213.8L552.1 211.9L556.1 209.9L560.0 207.9L563.9 205.9L567.9 203.7L571.8 201.6L575.7 199.4L579.7 197.1L583.6 194.8L587.5 192.4L591.5 190.0L595.4 187.5L599.3 185.0L603.2 182.4L607.2 179.8L611.1 177.1L615.0 174.4L619.0 171.6L622.9 168.8L626.8 165.9L630.8 163.0L634.7 160.0L638.6 157.0L642.6 153.9L646.5 150.8L650.4 147.6L654.4 144.4L658.3 141.1L662.2 137.8L666.1 134.4L670.1 131.0L674.0 127.5L677.9 124.0L681.9 120.4" stroke="#ff5cff" stroke-width="1.05" fill="none"/><path d="M524.6 30.5V344.7M681.9 30.5V344.7" stroke="#ff5cff" stroke-width="1.2" fill="none"/><path d="M609.7 183.2h1.4M589.2 179.4h1.4M607.4 181.8h1.4M603.1 187.3h1.4M592.1 186.2h1.4M612.2 172.5h1.4M587.6 182.4h1.4M601.6 183.0h1.4M589.3 196.6h1.4M591.2 179.4h1.4M606.9 186.6h1.4M604.8 179.6h1.4M611.6 178.5h1.4M602.4 184.8h1.4M591.5 196.2h1.4M584.0 187.8h1.4M601.0 188.9h1.4M602.8 182.0h1.4M595.2 186.9h1.4M599.5 182.7h1.4M603.0 179.0h1.4M612.0 173.2h1.4M599.6 181.7h1.4M590.1 185.0h1.4M592.1 195.1h1.4M580.4 196.7h1.4M619.3 171.2h1.4M595.9 188.1h1.4M576.8 190.5h1.4M603.1 185.9h1.4M603.2 185.1h1.4M593.6 189.4h1.4M613.0 168.1h1.4M606.8 175.3h1.4M587.5 196.7h1.4M591.6 195.2h1.4M613.7 178.1h1.4M593.2 188.5h1.4M607.8 185.1h1.4M621.6 159.3h1.4M595.9 183.2h1.4M594.8 200.2h1.4M602.7 190.8h1.4M597.0 182.8h1.4M606.6 178.6h1.4M616.2 173.1h1.4M586.8 193.3h1.4M612.9 169.0h1.4M609.7 179.5h1.4M611.3 177.4h1.4M595.2 183.2h1.4M594.3 187.9h1.4M605.4 186.2h1.4M604.2 191.1h1.4M599.9 180.4h1.4M603.4 178.3h1.4M604.8 174.1h1.4M583.1 197.2h1.4M600.4 181.0h1.4M606.6 177.4h1.4M632.8 168.4h1.4M615.3 173.8h1.4M602.2 183.8h1.4M599.6 177.0h1.4M608.9 166.8h1.4M584.1 189.1h1.4M595.7 192.6h1.4M592.5 187.2h1.4M584.1 186.9h1.4M582.1 201.8h1.4M599.1 181.4h1.4M609.6 180.4h1.4M587.5 189.9h1.4M612.1 183.8h1.4M598.8 191.1h1.4M615.4 179.9h1.4M602.4 187.3h1.4M606.3 177.5h1.4M600.9 182.7h1.4M585.8 195.1h1.4M594.5 183.1h1.4M609.5 184.7h1.4M605.4 178.2h1.4M590.2 196.8h1.4M594.9 195.4h1.4M596.0 189.7h1.4M597.1 187.5h1.4M611.4 179.9h1.4M594.6 197.5h1.4M610.2 179.6h1.4M587.9 189.4h1.4M588.4 188.4h1.4M607.2 179.1h1.4M596.5 187.6h1.4M598.3 179.3h1.4M605.2 180.9h1.4M592.2 189.7h1.4M583.1 203.5h1.4M602.6 186.3h1.4M595.1 191.2h1.4M598.4 177.5h1.4M604.0 193.1h1.4M601.9 185.9h1.4M610.0 184.5h1.4M598.7 177.2h1.4M608.2 184.1h1.4M603.2 175.6h1.4M599.7 182.2h1.4M601.0 181.2h1.4M612.5 177.4h1.4M588.8 186.8h1.4M594.3 189.6h1.4M588.8 190.6h1.4M608.5 179.1h1.4M591.1 197.6h1.4M627.0 163.3h1.4M590.9 189.5h1.4M608.2 171.4h1.4M607.6 178.7h1.4M614.1 175.0h1.4M594.4 185.9h1.4M604.9 180.2h1.4M586.3 182.9h1.4M601.1 180.7h1.4M619.3 170.1h1.4M618.7 171.6h1.4M606.7 179.1h1.4M604.2 186.2h1.4M594.5 189.7h1.4M613.5 169.4h1.4M598.0 190.2h1.4M606.5 183.4h1.4M601.6 188.9h1.4M598.6 184.2h1.4M581.5 194.7h1.4M605.1 189.5h1.4M604.3 194.0h1.4M590.8 191.7h1.4M609.8 175.0h1.4M596.8 189.9h1.4M608.8 182.0h1.4M621.5 171.5h1.4M613.1 169.3h1.4M591.4 191.9h1.4M600.7 187.7h1.4M600.7 189.4h1.4M593.9 189.4h1.4M588.3 192.5h1.4M611.7 182.5h1.4M612.2 171.2h1.4M592.6 189.3h1.4M597.0 183.2h1.4M603.5 178.9h1.4M611.0 186.5h1.4M604.7 186.3h1.4M594.8 183.6h1.4M586.4 202.6h1.4M615.7 161.0h1.4M590.4 190.1h1.4M590.3 189.0h1.4M607.9 178.6h1.4M604.6 173.0h1.4M601.9 193.5h1.4M589.7 183.1h1.4M594.8 188.6h1.4M576.1 203.8h1.4M606.7 177.6h1.4M598.6 185.1h1.4M594.6 181.7h1.4M595.7 191.1h1.4M608.0 181.5h1.4M592.1 193.4h1.4M612.8 183.2h1.4M607.0 180.4h1.4M600.8 188.0h1.4M604.1 169.4h1.4M592.0 191.9h1.4M606.2 172.8h1.4M582.1 187.5h1.4M614.3 178.3h1.4M604.5 196.6h1.4M622.2 174.0h1.4M603.1 182.0h1.4M607.5 175.4h1.4M608.0 175.7h1.4M609.0 178.1h1.4M609.2 186.1h1.4M607.9 178.8h1.4M595.5 184.3h1.4M593.5 195.5h1.4M598.9 179.4h1.4M612.3 172.9h1.4M615.1 176.1h1.4M608.4 180.1h1.4M589.8 191.2h1.4M593.9 184.2h1.4M602.1 177.0h1.4M586.8 190.3h1.4M587.9 193.7h1.4M606.4 180.7h1.4M599.5 189.3h1.4M609.9 186.2h1.4M595.5 189.6h1.4M595.6 185.4h1.4M600.2 188.7h1.4M592.4 184.6h1.4M616.8 173.9h1.4M605.8 185.0h1.4M613.6 180.0h1.4M592.6 189.0h1.4M610.7 177.3h1.4M616.3 181.1h1.4M589.0 192.5h1.4M589.6 188.6h1.4M598.1 187.2h1.4M601.1 177.5h1.4M598.8 184.1h1.4M591.8 191.9h1.4M584.4 194.9h1.4M604.2 191.3h1.4M598.3 184.4h1.4M606.6 174.3h1.4M603.6 194.5h1.4M614.3 177.0h1.4M607.0 172.9h1.4M609.0 175.4h1.4M602.8 182.3h1.4M602.0 180.4h1.4M575.0 189.1h1.4M580.9 198.9h1.4M587.7 184.0h1.4M612.4 176.5h1.4M587.5 186.7h1.4M605.9 179.6h1.4M586.0 194.0h1.4M585.8 202.8h1.4M596.5 187.6h1.4M586.5 187.5h1.4M593.9 183.3h1.4M582.0 200.2h1.4M591.9 182.5h1.4M601.4 181.8h1.4M589.3 182.2h1.4M591.6 177.7h1.4M589.8 198.3h1.4M597.7 177.5h1.4M588.6 192.7h1.4M606.0 179.0h1.4M599.5 188.7h1.4M607.2 171.2h1.4M596.3 192.3h1.4M600.3 177.1h1.4M580.6 204.8h1.4M595.9 187.6h1.4M596.0 191.9h1.4M611.9 183.1h1.4M584.2 193.6h1.4M605.4 179.2h1.4M601.8 191.8h1.4M595.3 179.9h1.4M619.0 174.9h1.4M601.8 186.1h1.4M605.2 180.9h1.4M606.6 179.2h1.4M612.4 188.4h1.4M590.5 177.8h1.4M616.5 175.5h1.4M593.9 191.3h1.4M586.3 199.5h1.4M578.8 203.0h1.4M611.9 173.7h1.4M605.4 183.3h1.4M580.8 196.3h1.4M616.7 173.2h1.4M622.7 169.0h1.4M595.3 186.9h1.4M587.3 181.5h1.4M602.0 191.0h1.4M588.3 187.9h1.4M596.7 193.6h1.4M610.3 174.4h1.4M610.1 184.4h1.4M599.3 183.4h1.4M605.7 176.2h1.4M604.0 186.2h1.4M620.4 175.9h1.4M602.5 178.1h1.4M607.6 179.4h1.4M619.8 171.3h1.4M599.3 182.1h1.4M599.8 187.4h1.4M587.6 191.6h1.4M583.6 188.9h1.4M603.9 178.1h1.4M596.2 189.5h1.4M590.5 189.1h1.4M595.5 183.8h1.4M594.1 195.7h1.4M606.5 183.9h1.4M585.1 192.8h1.4M610.0 182.1h1.4M591.4 193.0h1.4M616.3 177.1h1.4M596.2 183.9h1.4M580.8 196.5h1.4M600.1 184.3h1.4M599.3 189.3h1.4M608.2 172.9h1.4M600.1 184.2h1.4M598.9 182.8h1.4M607.8 185.4h1.4M593.2 187.3h1.4M607.9 172.5h1.4M605.8 180.4h1.4M591.4 192.2h1.4M597.6 188.5h1.4M604.1 180.6h1.4M602.5 183.7h1.4M600.6 173.7h1.4M599.2 189.1h1.4M601.3 190.1h1.4M593.1 187.2h1.4M595.2 179.4h1.4M619.6 165.4h1.4M593.4 176.4h1.4M599.8 179.8h1.4M607.8 180.2h1.4M613.3 172.9h1.4M601.2 182.6h1.4M600.3 180.5h1.4M600.3 190.8h1.4M604.9 174.0h1.4M601.6 184.0h1.4M588.9 196.1h1.4M591.8 192.8h1.4M608.3 175.2h1.4M608.5 183.7h1.4M595.2 191.4h1.4M619.2 177.7h1.4M585.1 181.4h1.4M593.2 183.9h1.4M611.1 173.5h1.4M612.9 168.2h1.4M593.7 190.0h1.4M593.4 199.6h1.4M593.0 193.0h1.4M608.2 188.8h1.4M621.0 170.3h1.4M605.8 184.3h1.4M601.6 189.9h1.4M583.6 192.2h1.4M585.8 196.2h1.4M615.1 176.3h1.4M596.5 186.5h1.4M613.3 174.2h1.4M593.8 190.0h1.4M580.3 197.9h1.4M598.1 184.3h1.4M597.1 198.9h1.4M614.0 180.1h1.4M608.0 173.2h1.4M598.1 185.3h1.4M600.9 188.6h1.4M603.5 191.0h1.4M600.2 186.0h1.4M611.4 179.0h1.4M590.2 195.2h1.4M597.6 196.2h1.4M617.7 167.3h1.4M608.8 176.9h1.4M582.6 201.3h1.4M616.3 184.1h1.4M602.0 179.3h1.4M613.1 176.0h1.4M604.3 185.5h1.4M594.6 192.8h1.4M595.9 179.4h1.4M602.1 174.4h1.4M594.4 192.3h1.4M593.7 194.4h1.4M587.8 194.7h1.4M607.6 177.1h1.4M593.7 188.3h1.4M586.9 191.4h1.4M592.9 184.7h1.4M608.6 183.0h1.4M601.2 187.9h1.4M612.8 172.1h1.4M621.0 165.3h1.4M601.6 188.8h1.4M590.2 192.3h1.4M597.3 188.2h1.4M616.0 168.6h1.4M590.6 189.1h1.4M588.3 189.5h1.4M591.6 197.4h1.4M602.7 188.6h1.4M604.5 174.1h1.4M605.7 186.0h1.4M594.4 188.8h1.4M595.9 180.2h1.4M596.3 191.6h1.4M604.7 185.2h1.4M587.6 190.9h1.4M606.4 172.1h1.4M595.4 181.1h1.4M604.4 188.1h1.4M611.7 170.7h1.4M594.4 177.4h1.4M602.8 179.4h1.4M619.4 163.0h1.4M587.4 190.1h1.4M605.5 172.4h1.4M608.0 175.7h1.4M606.0 176.5h1.4M590.4 194.2h1.4M598.2 185.7h1.4M608.3 190.1h1.4M622.5 171.6h1.4M609.4 175.6h1.4M613.5 167.6h1.4M590.5 198.5h1.4M605.8 186.5h1.4M606.6 184.7h1.4M614.3 173.8h1.4M599.5 187.8h1.4M610.1 167.6h1.4M603.7 182.4h1.4M600.6 180.1h1.4M607.4 186.1h1.4M601.5 209.4h1.4M612.5 185.3h1.4M619.2 187.5h1.4M584.8 196.6h1.4M611.1 168.0h1.4M572.3 203.2h1.4M569.1 194.1h1.4M579.9 184.7h1.4M593.4 188.9h1.4M570.4 194.2h1.4M587.5 164.7h1.4M610.5 200.8h1.4M602.5 185.1h1.4M610.6 179.5h1.4M613.9 195.4h1.4M571.8 203.9h1.4M597.8 191.8h1.4M601.9 191.2h1.4M591.3 163.9h1.4M581.7 194.0h1.4M577.5 194.2h1.4M604.3 163.1h1.4M587.3 198.8h1.4M593.2 191.5h1.4M628.1 174.8h1.4M593.8 192.2h1.4M603.8 183.1h1.4M587.3 200.7h1.4M616.1 163.8h1.4M589.6 201.4h1.4M609.1 179.5h1.4M586.1 200.9h1.4M575.8 178.8h1.4M596.0 197.0h1.4M611.1 184.6h1.4M619.6 191.4h1.4M576.3 187.8h1.4M617.5 177.9h1.4M591.8 184.3h1.4M596.3 187.1h1.4M583.2 184.5h1.4M596.8 184.8h1.4M586.5 191.7h1.4M621.8 204.0h1.4M577.8 198.3h1.4M571.9 206.2h1.4M614.2 186.6h1.4M594.7 182.1h1.4M615.5 184.7h1.4M570.6 200.7h1.4M591.1 184.9h1.4M597.3 206.5h1.4M610.8 186.1h1.4M599.2 200.0h1.4M595.7 181.6h1.4M579.7 208.9h1.4M576.3 182.8h1.4M605.3 170.0h1.4M603.4 192.8h1.4M568.9 203.0h1.4M605.6 201.3h1.4M604.1 190.8h1.4M615.4 178.1h1.4M600.4 173.6h1.4M594.6 185.5h1.4M600.2 198.1h1.4M612.1 177.3h1.4M600.8 179.7h1.4M597.4 170.9h1.4M605.1 188.8h1.4M585.6 182.2h1.4M594.7 206.4h1.4M566.4 201.6h1.4M597.2 197.7h1.4M602.3 174.8h1.4M593.1 169.8h1.4M583.9 183.5h1.4M603.9 177.1h1.4M624.6 161.6h1.4M600.3 185.6h1.4M629.8 163.8h1.4M565.2 185.8h1.4M611.0 185.6h1.4M596.0 192.3h1.4M622.5 189.9h1.4M586.0 194.3h1.4M587.1 204.2h1.4M591.1 180.3h1.4M613.2 181.9h1.4M601.1 191.3h1.4M563.8 195.9h1.4M595.7 186.4h1.4M631.2 183.9h1.4M613.1 174.2h1.4M591.3 194.0h1.4M576.8 178.7h1.4M577.5 191.8h1.4M628.7 166.3h1.4M596.2 186.8h1.4M596.8 203.9h1.4M617.0 193.3h1.4M580.3 188.2h1.4M616.5 157.2h1.4M600.3 190.8h1.4M584.2 178.2h1.4M604.0 194.1h1.4M602.8 177.5h1.4M634.9 176.3h1.4M610.3 178.4h1.4M616.4 175.1h1.4M593.6 182.0h1.4M616.6 183.2h1.4M611.6 191.7h1.4M592.7 194.4h1.4M601.0 176.1h1.4M596.3 186.6h1.4M604.1 176.9h1.4M562.7 180.8h1.4M612.7 193.8h1.4M634.1 172.2h1.4M581.7 182.7h1.4M615.1 177.4h1.4M589.4 187.7h1.4M593.9 174.4h1.4M617.9 195.1h1.4M590.8 184.7h1.4M595.2 202.7h1.4M586.6 185.1h1.4M596.4 184.2h1.4M603.8 187.6h1.4M583.9 179.5h1.4M587.7 178.1h1.4M597.7 198.7h1.4M595.0 191.6h1.4M600.6 178.9h1.4M605.0 200.5h1.4M602.8 179.2h1.4M597.6 178.2h1.4M604.7 179.1h1.4M611.4 176.4h1.4M610.0 199.9h1.4M599.2 191.7h1.4M602.1 209.4h1.4M583.4 192.7h1.4M593.4 187.8h1.4M577.1 194.2h1.4M609.5 178.5h1.4M612.2 170.5h1.4M606.4 196.6h1.4M598.1 188.8h1.4M611.3 174.0h1.4M588.9 195.5h1.4M600.4 174.6h1.4M598.0 197.6h1.4M628.0 161.1h1.4M634.9 169.2h1.4M592.4 186.8h1.4M598.1 201.9h1.4M618.9 163.6h1.4M597.1 198.5h1.4M595.7 172.8h1.4M595.4 187.5h1.4M606.7 185.8h1.4M612.4 194.1h1.4M583.6 192.9h1.4M591.6 188.7h1.4M616.7 187.3h1.4M608.7 177.6h1.4M590.7 190.2h1.4M642.1 167.2h1.4M595.3 167.7h1.4M595.8 184.5h1.4M588.2 220.3h1.4M580.1 201.9h1.4M619.5 166.6h1.4M624.4 191.1h1.4M595.8 179.6h1.4M613.6 178.1h1.4M593.1 194.1h1.4M593.5 198.6h1.4M618.3 196.0h1.4M568.4 185.4h1.4M591.6 186.1h1.4M612.9 179.9h1.4M570.6 198.8h1.4M601.9 159.7h1.4M595.2 174.6h1.4M598.0 191.8h1.4M625.1 168.4h1.4M589.4 186.7h1.4M603.5 184.4h1.4M591.6 193.4h1.4M602.1 180.2h1.4M585.6 196.4h1.4M592.7 183.6h1.4M589.5 188.0h1.4M594.9 193.7h1.4M602.0 171.2h1.4M617.0 174.4h1.4M602.2 179.1h1.4M604.9 167.1h1.4M591.1 172.4h1.4M615.6 176.4h1.4M604.0 166.7h1.4M593.6 173.5h1.4M588.5 208.5h1.4M626.5 183.4h1.4M602.6 171.5h1.4M577.4 191.1h1.4M609.0 179.6h1.4M600.0 176.1h1.4M585.9 206.2h1.4M596.9 183.7h1.4M595.0 193.8h1.4M589.3 196.6h1.4M591.9 206.2h1.4M582.4 200.2h1.4M608.3 188.9h1.4M583.7 200.1h1.4M583.3 206.1h1.4M596.9 193.8h1.4M601.3 196.7h1.4M606.5 164.9h1.4M621.5 199.2h1.4M610.6 166.8h1.4M571.6 203.1h1.4M585.1 181.5h1.4M618.6 175.7h1.4M603.9 172.3h1.4M611.1 173.2h1.4M585.0 203.1h1.4M590.8 195.9h1.4M591.4 192.3h1.4M604.8 189.2h1.4M590.7 193.9h1.4M593.7 192.9h1.4M599.3 179.9h1.4M601.7 189.2h1.4M598.6 196.9h1.4M585.0 198.1h1.4M598.1 183.7h1.4M582.0 196.8h1.4M600.1 196.9h1.4M602.1 183.1h1.4M598.8 186.2h1.4M593.8 198.9h1.4M604.0 187.4h1.4M604.5 189.1h1.4M595.7 190.6h1.4M594.2 192.9h1.4M592.8 197.2h1.4M598.7 188.9h1.4M586.4 193.2h1.4M589.6 190.5h1.4M588.5 188.4h1.4M593.2 188.1h1.4M591.8 193.9h1.4M593.7 198.3h1.4M597.1 178.8h1.4M592.0 189.1h1.4M587.1 202.4h1.4M604.3 176.9h1.4M591.7 197.4h1.4M591.2 187.7h1.4M596.4 185.5h1.4M600.9 191.7h1.4M582.2 197.9h1.4M585.5 208.6h1.4M601.1 191.5h1.4M597.3 192.9h1.4M600.4 178.1h1.4M602.5 184.0h1.4M596.7 190.6h1.4M602.1 200.0h1.4M591.3 205.7h1.4M593.5 193.6h1.4M592.9 184.2h1.4M584.9 195.2h1.4M591.6 190.6h1.4M592.7 197.7h1.4M604.4 190.2h1.4M590.1 194.0h1.4M595.8 189.2h1.4M592.3 196.0h1.4M593.3 189.2h1.4M608.8 185.7h1.4M589.7 202.1h1.4M586.1 187.0h1.4M590.8 202.6h1.4M580.4 200.5h1.4M595.2 194.0h1.4M579.6 193.0h1.4M594.3 198.5h1.4M591.4 192.9h1.4M582.0 194.2h1.4M594.5 192.6h1.4M592.8 197.9h1.4M589.9 193.0h1.4M610.9 183.6h1.4M586.3 195.7h1.4M645.5 152.3h1.4M635.5 151.1h1.4M641.9 161.1h1.4M649.2 150.7h1.4M637.9 154.7h1.4M635.5 161.7h1.4M634.4 158.2h1.4M650.9 161.4h1.4M641.5 159.1h1.4M656.7 155.7h1.4M656.7 141.3h1.4M643.7 141.0h1.4M654.6 147.3h1.4M644.5 153.0h1.4M649.9 152.4h1.4M628.4 156.0h1.4M630.8 167.0h1.4M654.0 157.9h1.4M642.4 154.5h1.4M646.0 163.5h1.4M633.9 161.1h1.4M632.1 163.8h1.4M635.9 157.1h1.4M648.6 142.4h1.4M625.0 153.7h1.4M632.0 154.7h1.4M631.7 162.2h1.4M643.5 161.1h1.4M633.6 150.9h1.4M650.5 141.5h1.4M631.2 153.9h1.4M650.3 151.4h1.4M647.2 158.9h1.4M633.2 165.1h1.4M651.3 145.2h1.4M654.0 151.4h1.4M635.4 150.4h1.4M659.7 154.7h1.4M645.7 144.5h1.4M624.4 153.3h1.4M562.1 103.3h1.4M584.8 102.5h1.4M595.0 105.1h1.4M599.5 108.1h1.4M590.9 109.1h1.4M595.5 115.2h1.4M588.6 117.0h1.4M590.9 132.2h1.4M570.2 147.1h1.4M568.6 149.4h1.4M621.0 147.6h1.4M577.0 162.5h1.4M586.4 162.5h1.4M556.0 176.2h1.4M557.0 188.6h1.4M545.1 197.2h1.4M548.1 199.2h1.4M558.0 196.2h1.4M631.4 201.8h1.4M618.3 206.3h1.4M609.7 210.1h1.4M606.1 217.0h1.4M593.5 216.5h1.4M592.9 223.5h1.4M570.9 218.2h1.4M560.8 222.3h1.4M554.0 227.3h1.4M568.9 225.8h1.4M565.6 240.5h1.4M565.1 242.3h1.4M582.1 245.1h1.4M579.5 248.9h1.4M587.9 251.1h1.4M581.8 258.2h1.4M657.8 130.4h1.4M644.3 139.2h1.4M655.5 165.8h1.4M637.2 153.2h1.4M641.0 157.0h1.4M644.8 159.5h1.4M648.6 157.0h1.4M651.2 153.2h1.4M642.3 141.8h1.4M647.4 145.6h1.4M636.0 172.2h1.4M633.5 170.9h1.4M577.6 47.6h1.4M582.6 47.6h1.4M616.0 40.5h1.4M628.7 55.7h1.4M601.9 64.8h1.4M650.0 64.3h1.4M613.0 73.4h1.4M625.7 72.4h1.4M609.5 79.5h1.4M577.6 82.0h1.4M582.6 86.1h1.4M584.7 93.7h1.4M612.0 94.2h1.4M562.4 102.8h1.4M584.1 103.8h1.4M594.8 106.3h1.4M599.3 107.3h1.4M588.2 116.5h1.4M595.8 115.4h1.4M590.7 131.6h1.4M569.0 148.4h1.4M566.9 149.9h1.4M567.9 302.8h1.4M579.1 316.5h1.4M581.6 246.6h1.4M587.7 250.1h1.4M580.6 257.2h1.4M566.4 240.5h1.4M564.9 242.0h1.4" stroke="#1c1c1c" stroke-width="1.4" fill="none"/><path d="M515.1 225.7h2.8v2.8h-2.8zM517.5 225.0h2.8v2.8h-2.8zM519.6 223.7h2.8v2.8h-2.8zM521.7 223.5h2.8v2.8h-2.8zM524.1 221.9h2.8v2.8h-2.8zM526.6 222.0h2.8v2.8h-2.8zM528.3 220.0h2.8v2.8h-2.8zM530.7 219.6h2.8v2.8h-2.8zM532.7 218.7h2.8v2.8h-2.8zM534.7 217.9h2.8v2.8h-2.8zM536.9 215.6h2.8v2.8h-2.8zM539.1 215.9h2.8v2.8h-2.8zM541.4 214.9h2.8v2.8h-2.8zM543.4 213.1h2.8v2.8h-2.8zM545.8 213.0h2.8v2.8h-2.8zM547.6 211.8h2.8v2.8h-2.8zM550.0 209.7h2.8v2.8h-2.8zM552.3 209.0h2.8v2.8h-2.8zM554.3 207.2h2.8v2.8h-2.8zM556.8 207.1h2.8v2.8h-2.8zM558.7 205.9h2.8v2.8h-2.8zM560.5 205.0h2.8v2.8h-2.8zM562.6 204.0h2.8v2.8h-2.8zM564.3 203.1h2.8v2.8h-2.8zM564.7 203.1h2.8v2.8h-2.8zM565.8 202.0h2.8v2.8h-2.8zM567.3 201.5h2.8v2.8h-2.8zM567.9 201.2h2.8v2.8h-2.8zM569.2 200.2h2.8v2.8h-2.8zM570.9 200.1h2.8v2.8h-2.8zM571.5 198.9h2.8v2.8h-2.8zM573.1 198.5h2.8v2.8h-2.8zM573.3 197.6h2.8v2.8h-2.8zM574.8 197.2h2.8v2.8h-2.8zM575.9 196.3h2.8v2.8h-2.8zM576.9 195.4h2.8v2.8h-2.8zM578.2 195.1h2.8v2.8h-2.8zM578.9 194.9h2.8v2.8h-2.8zM580.0 194.2h2.8v2.8h-2.8zM581.6 193.6h2.8v2.8h-2.8zM582.3 193.0h2.8v2.8h-2.8zM583.3 192.0h2.8v2.8h-2.8zM584.5 191.3h2.8v2.8h-2.8zM585.3 190.6h2.8v2.8h-2.8zM587.2 190.0h2.8v2.8h-2.8zM588.1 189.2h2.8v2.8h-2.8zM588.9 188.8h2.8v2.8h-2.8zM589.7 188.2h2.8v2.8h-2.8zM591.4 187.7h2.8v2.8h-2.8zM591.8 186.9h2.8v2.8h-2.8zM593.4 186.2h2.8v2.8h-2.8zM594.1 185.4h2.8v2.8h-2.8zM595.3 185.1h2.8v2.8h-2.8zM597.0 183.6h2.8v2.8h-2.8zM597.7 183.7h2.8v2.8h-2.8zM598.3 182.3h2.8v2.8h-2.8zM599.6 181.8h2.8v2.8h-2.8zM600.7 180.9h2.8v2.8h-2.8zM601.3 180.8h2.8v2.8h-2.8zM602.9 180.6h2.8v2.8h-2.8zM603.9 178.6h2.8v2.8h-2.8zM605.0 178.7h2.8v2.8h-2.8zM606.1 177.2h2.8v2.8h-2.8zM607.5 177.0h2.8v2.8h-2.8zM608.4 176.1h2.8v2.8h-2.8zM609.4 175.5h2.8v2.8h-2.8zM610.5 174.4h2.8v2.8h-2.8zM611.5 173.7h2.8v2.8h-2.8zM612.8 173.1h2.8v2.8h-2.8zM614.3 172.4h2.8v2.8h-2.8zM615.0 171.7h2.8v2.8h-2.8zM615.4 171.1h2.8v2.8h-2.8zM617.1 170.2h2.8v2.8h-2.8zM618.2 169.2h2.8v2.8h-2.8zM619.3 169.3h2.8v2.8h-2.8zM619.8 167.4h2.8v2.8h-2.8zM621.4 167.0h2.8v2.8h-2.8zM622.1 165.8h2.8v2.8h-2.8zM623.1 165.2h2.8v2.8h-2.8zM624.5 164.2h2.8v2.8h-2.8zM626.0 163.4h2.8v2.8h-2.8zM626.8 163.6h2.8v2.8h-2.8zM628.2 161.9h2.8v2.8h-2.8zM629.1 161.4h2.8v2.8h-2.8zM630.1 161.0h2.8v2.8h-2.8zM631.0 159.7h2.8v2.8h-2.8zM632.6 159.4h2.8v2.8h-2.8zM633.1 158.3h2.8v2.8h-2.8zM624.5 163.8h2.8v2.8h-2.8zM627.1 161.9h2.8v2.8h-2.8zM630.2 158.1h2.8v2.8h-2.8zM632.1 156.8h2.8v2.8h-2.8zM635.9 153.7h2.8v2.8h-2.8zM642.3 154.3h2.8v2.8h-2.8zM642.9 151.8h2.8v2.8h-2.8zM644.8 147.3h2.8v2.8h-2.8zM646.1 146.4h2.8v2.8h-2.8zM647.3 145.4h2.8v2.8h-2.8zM649.2 144.2h2.8v2.8h-2.8zM651.1 146.1h2.8v2.8h-2.8zM650.2 143.2h2.8v2.8h-2.8zM653.0 141.6h2.8v2.8h-2.8zM654.3 140.4h2.8v2.8h-2.8zM655.6 139.7h2.8v2.8h-2.8zM657.5 139.1h2.8v2.8h-2.8zM660.0 141.6h2.8v2.8h-2.8zM661.3 135.3h2.8v2.8h-2.8zM662.5 137.8h2.8v2.8h-2.8zM664.4 135.7h2.8v2.8h-2.8zM663.2 136.6h2.8v2.8h-2.8zM670.1 132.5h2.8v2.8h-2.8zM671.8 132.8h2.8v2.8h-2.8zM682.1 129.9h2.8v2.8h-2.8zM645.1 162.9h2.8v2.8h-2.8zM654.9 172.9h2.8v2.8h-2.8zM655.2 178.6h2.8v2.8h-2.8zM670.4 176.1h2.8v2.8h-2.8zM635.9 180.6h2.8v2.8h-2.8zM640.4 150.5h2.8v2.8h-2.8zM651.8 145.2h2.8v2.8h-2.8zM648.6 145.7h2.8v2.8h-2.8zM644.9 162.9h2.8v2.8h-2.8zM642.4 153.8h2.8v2.8h-2.8z" fill="#0000ff"/><path d="M520.6 226.1h3.4v3.4h-3.4zM522.4 224.4h3.4v3.4h-3.4zM524.9 223.6h3.4v3.4h-3.4zM527.4 221.8h3.4v3.4h-3.4zM530.7 222.4h3.4v3.4h-3.4zM536.3 222.9h3.4v3.4h-3.4zM533.0 212.2h3.4v3.4h-3.4zM533.7 210.5h3.4v3.4h-3.4zM539.3 205.9h3.4v3.4h-3.4zM539.6 207.7h3.4v3.4h-3.4zM541.3 213.5h3.4v3.4h-3.4zM547.7 209.7h3.4v3.4h-3.4zM551.5 206.7h3.4v3.4h-3.4zM557.8 202.6h3.4v3.4h-3.4zM562.9 200.8h3.4v3.4h-3.4zM519.1 227.4h3.4v3.4h-3.4zM523.6 224.9h3.4v3.4h-3.4zM528.7 219.8h3.4v3.4h-3.4zM535.0 217.3h3.4v3.4h-3.4zM543.9 211.0h3.4v3.4h-3.4zM554.0 204.6h3.4v3.4h-3.4zM628.2 160.8h3.4v3.4h-3.4zM683.9 121.1h3.4v3.4h-3.4zM521.1 225.4h3.4v3.4h-3.4zM526.1 222.9h3.4v3.4h-3.4zM532.5 219.3h3.4v3.4h-3.4zM537.5 216.8h3.4v3.4h-3.4zM548.9 208.4h3.4v3.4h-3.4zM560.3 202.1h3.4v3.4h-3.4zM580.5 195.4h3.4v3.4h-3.4zM582.4 194.7h3.4v3.4h-3.4zM584.0 193.6h3.4v3.4h-3.4zM585.1 192.2h3.4v3.4h-3.4zM586.7 191.6h3.4v3.4h-3.4zM588.1 190.5h3.4v3.4h-3.4zM589.2 189.7h3.4v3.4h-3.4zM591.2 188.4h3.4v3.4h-3.4zM592.3 188.0h3.4v3.4h-3.4zM593.6 186.7h3.4v3.4h-3.4zM595.8 185.8h3.4v3.4h-3.4zM596.3 184.4h3.4v3.4h-3.4z" fill="#00ff00"/><path d="M580.2 205.8l2.0 2.0l-2.0 2.0l-2.0 -2.0zM577.8 202.1l2.0 2.0l-2.0 2.0l-2.0 -2.0zM580.0 204.2l2.0 2.0l-2.0 2.0l-2.0 -2.0zM580.9 204.7l2.0 2.0l-2.0 2.0l-2.0 -2.0zM580.8 203.9l2.0 2.0l-2.0 2.0l-2.0 -2.0zM580.3 202.7l2.0 2.0l-2.0 2.0l-2.0 -2.0zM579.9 201.7l2.0 2.0l-2.0 2.0l-2.0 -2.0zM581.4 202.9l2.0 2.0l-2.0 2.0l-2.0 -2.0zM580.3 201.0l2.0 2.0l-2.0 2.0l-2.0 -2.0zM582.8 203.4l2.0 2.0l-2.0 2.0l-2.0 -2.0zM582.0 201.7l2.0 2.0l-2.0 2.0l-2.0 -2.0zM581.9 201.0l2.0 2.0l-2.0 2.0l-2.0 -2.0zM582.4 201.0l2.0 2.0l-2.0 2.0l-2.0 -2.0zM584.0 202.4l2.0 2.0l-2.0 2.0l-2.0 -2.0zM582.1 199.4l2.0 2.0l-2.0 2.0l-2.0 -2.0zM584.0 201.1l2.0 2.0l-2.0 2.0l-2.0 -2.0zM582.8 199.0l2.0 2.0l-2.0 2.0l-2.0 -2.0zM583.4 199.1l2.0 2.0l-2.0 2.0l-2.0 -2.0zM583.6 198.8l2.0 2.0l-2.0 2.0l-2.0 -2.0zM585.1 200.0l2.0 2.0l-2.0 2.0l-2.0 -2.0zM585.2 199.6l2.0 2.0l-2.0 2.0l-2.0 -2.0zM584.6 198.2l2.0 2.0l-2.0 2.0l-2.0 -2.0zM585.6 198.7l2.0 2.0l-2.0 2.0l-2.0 -2.0zM586.6 199.4l2.0 2.0l-2.0 2.0l-2.0 -2.0zM585.0 196.8l2.0 2.0l-2.0 2.0l-2.0 -2.0zM586.2 197.7l2.0 2.0l-2.0 2.0l-2.0 -2.0zM586.4 197.2l2.0 2.0l-2.0 2.0l-2.0 -2.0zM587.7 198.2l2.0 2.0l-2.0 2.0l-2.0 -2.0zM588.2 198.3l2.0 2.0l-2.0 2.0l-2.0 -2.0zM588.4 197.9l2.0 2.0l-2.0 2.0l-2.0 -2.0zM587.7 196.4l2.0 2.0l-2.0 2.0l-2.0 -2.0zM589.2 197.6l2.0 2.0l-2.0 2.0l-2.0 -2.0zM589.1 197.0l2.0 2.0l-2.0 2.0l-2.0 -2.0zM588.9 196.1l2.0 2.0l-2.0 2.0l-2.0 -2.0zM590.1 196.9l2.0 2.0l-2.0 2.0l-2.0 -2.0zM588.4 194.2l2.0 2.0l-2.0 2.0l-2.0 -2.0zM589.4 194.8l2.0 2.0l-2.0 2.0l-2.0 -2.0zM590.6 195.7l2.0 2.0l-2.0 2.0l-2.0 -2.0zM590.7 195.2l2.0 2.0l-2.0 2.0l-2.0 -2.0zM591.7 195.8l2.0 2.0l-2.0 2.0l-2.0 -2.0zM591.8 195.3l2.0 2.0l-2.0 2.0l-2.0 -2.0zM591.6 194.4l2.0 2.0l-2.0 2.0l-2.0 -2.0zM591.4 193.6l2.0 2.0l-2.0 2.0l-2.0 -2.0zM591.7 193.3l2.0 2.0l-2.0 2.0l-2.0 -2.0zM593.1 194.5l2.0 2.0l-2.0 2.0l-2.0 -2.0zM591.9 192.4l2.0 2.0l-2.0 2.0l-2.0 -2.0zM592.2 192.1l2.0 2.0l-2.0 2.0l-2.0 -2.0zM592.0 191.2l2.0 2.0l-2.0 2.0l-2.0 -2.0zM592.5 191.2l2.0 2.0l-2.0 2.0l-2.0 -2.0zM594.4 192.9l2.0 2.0l-2.0 2.0l-2.0 -2.0zM593.6 191.3l2.0 2.0l-2.0 2.0l-2.0 -2.0zM594.0 191.2l2.0 2.0l-2.0 2.0l-2.0 -2.0zM595.5 192.4l2.0 2.0l-2.0 2.0l-2.0 -2.0zM594.4 190.4l2.0 2.0l-2.0 2.0l-2.0 -2.0zM596.0 191.7l2.0 2.0l-2.0 2.0l-2.0 -2.0zM595.2 190.2l2.0 2.0l-2.0 2.0l-2.0 -2.0zM596.5 191.2l2.0 2.0l-2.0 2.0l-2.0 -2.0zM597.0 191.1l2.0 2.0l-2.0 2.0l-2.0 -2.0zM596.5 189.9l2.0 2.0l-2.0 2.0l-2.0 -2.0zM597.5 190.5l2.0 2.0l-2.0 2.0l-2.0 -2.0zM596.7 188.9l2.0 2.0l-2.0 2.0l-2.0 -2.0zM596.9 188.5l2.0 2.0l-2.0 2.0l-2.0 -2.0zM598.1 189.5l2.0 2.0l-2.0 2.0l-2.0 -2.0zM598.4 189.1l2.0 2.0l-2.0 2.0l-2.0 -2.0zM599.0 189.3l2.0 2.0l-2.0 2.0l-2.0 -2.0zM598.5 188.0l2.0 2.0l-2.0 2.0l-2.0 -2.0zM599.6 188.8l2.0 2.0l-2.0 2.0l-2.0 -2.0zM598.3 186.6l2.0 2.0l-2.0 2.0l-2.0 -2.0zM600.2 188.4l2.0 2.0l-2.0 2.0l-2.0 -2.0zM599.2 186.5l2.0 2.0l-2.0 2.0l-2.0 -2.0zM600.3 187.3l2.0 2.0l-2.0 2.0l-2.0 -2.0zM601.1 187.5l2.0 2.0l-2.0 2.0l-2.0 -2.0zM601.3 187.2l2.0 2.0l-2.0 2.0l-2.0 -2.0zM601.1 186.3l2.0 2.0l-2.0 2.0l-2.0 -2.0zM601.7 186.4l2.0 2.0l-2.0 2.0l-2.0 -2.0zM601.4 185.5l2.0 2.0l-2.0 2.0l-2.0 -2.0zM602.1 185.7l2.0 2.0l-2.0 2.0l-2.0 -2.0zM601.6 184.5l2.0 2.0l-2.0 2.0l-2.0 -2.0zM601.9 184.2l2.0 2.0l-2.0 2.0l-2.0 -2.0zM603.2 185.2l2.0 2.0l-2.0 2.0l-2.0 -2.0zM603.1 184.5l2.0 2.0l-2.0 2.0l-2.0 -2.0zM603.9 184.8l2.0 2.0l-2.0 2.0l-2.0 -2.0zM603.0 183.1l2.0 2.0l-2.0 2.0l-2.0 -2.0zM603.4 183.0l2.0 2.0l-2.0 2.0l-2.0 -2.0zM604.6 183.9l2.0 2.0l-2.0 2.0l-2.0 -2.0zM604.6 183.2l2.0 2.0l-2.0 2.0l-2.0 -2.0zM604.3 182.3l2.0 2.0l-2.0 2.0l-2.0 -2.0zM605.5 183.0l2.0 2.0l-2.0 2.0l-2.0 -2.0zM605.5 182.5l2.0 2.0l-2.0 2.0l-2.0 -2.0zM605.4 181.7l2.0 2.0l-2.0 2.0l-2.0 -2.0zM605.7 181.5l2.0 2.0l-2.0 2.0l-2.0 -2.0zM606.6 181.9l2.0 2.0l-2.0 2.0l-2.0 -2.0zM607.4 182.3l2.0 2.0l-2.0 2.0l-2.0 -2.0zM606.8 181.0l2.0 2.0l-2.0 2.0l-2.0 -2.0zM606.9 180.5l2.0 2.0l-2.0 2.0l-2.0 -2.0zM607.8 181.0l2.0 2.0l-2.0 2.0l-2.0 -2.0zM608.1 180.8l2.0 2.0l-2.0 2.0l-2.0 -2.0zM608.4 180.5l2.0 2.0l-2.0 2.0l-2.0 -2.0zM608.4 179.9l2.0 2.0l-2.0 2.0l-2.0 -2.0zM609.2 180.2l2.0 2.0l-2.0 2.0l-2.0 -2.0zM608.8 179.2l2.0 2.0l-2.0 2.0l-2.0 -2.0zM609.8 179.8l2.0 2.0l-2.0 2.0l-2.0 -2.0zM610.2 179.6l2.0 2.0l-2.0 2.0l-2.0 -2.0zM610.6 179.4l2.0 2.0l-2.0 2.0l-2.0 -2.0zM610.3 178.6l2.0 2.0l-2.0 2.0l-2.0 -2.0zM610.3 177.9l2.0 2.0l-2.0 2.0l-2.0 -2.0zM611.1 178.3l2.0 2.0l-2.0 2.0l-2.0 -2.0zM610.7 177.1l2.0 2.0l-2.0 2.0l-2.0 -2.0zM611.8 177.9l2.0 2.0l-2.0 2.0l-2.0 -2.0zM611.6 177.0l2.0 2.0l-2.0 2.0l-2.0 -2.0zM612.5 177.5l2.0 2.0l-2.0 2.0l-2.0 -2.0zM611.9 176.2l2.0 2.0l-2.0 2.0l-2.0 -2.0zM613.2 177.1l2.0 2.0l-2.0 2.0l-2.0 -2.0zM613.0 176.2l2.0 2.0l-2.0 2.0l-2.0 -2.0zM613.1 175.8l2.0 2.0l-2.0 2.0l-2.0 -2.0zM613.7 175.9l2.0 2.0l-2.0 2.0l-2.0 -2.0zM614.4 176.2l2.0 2.0l-2.0 2.0l-2.0 -2.0zM614.6 175.8l2.0 2.0l-2.0 2.0l-2.0 -2.0zM614.5 175.0l2.0 2.0l-2.0 2.0l-2.0 -2.0zM614.8 174.8l2.0 2.0l-2.0 2.0l-2.0 -2.0zM614.8 174.1l2.0 2.0l-2.0 2.0l-2.0 -2.0zM615.5 174.4l2.0 2.0l-2.0 2.0l-2.0 -2.0zM615.5 173.7l2.0 2.0l-2.0 2.0l-2.0 -2.0zM615.7 173.4l2.0 2.0l-2.0 2.0l-2.0 -2.0zM616.3 173.6l2.0 2.0l-2.0 2.0l-2.0 -2.0zM616.3 172.9l2.0 2.0l-2.0 2.0l-2.0 -2.0zM616.8 173.0l2.0 2.0l-2.0 2.0l-2.0 -2.0zM617.3 172.9l2.0 2.0l-2.0 2.0l-2.0 -2.0zM617.8 172.9l2.0 2.0l-2.0 2.0l-2.0 -2.0zM617.7 172.2l2.0 2.0l-2.0 2.0l-2.0 -2.0zM618.3 172.3l2.0 2.0l-2.0 2.0l-2.0 -2.0zM618.3 171.7l2.0 2.0l-2.0 2.0l-2.0 -2.0zM618.6 171.5l2.0 2.0l-2.0 2.0l-2.0 -2.0zM618.9 171.2l2.0 2.0l-2.0 2.0l-2.0 -2.0zM619.3 171.1l2.0 2.0l-2.0 2.0l-2.0 -2.0zM619.4 170.5l2.0 2.0l-2.0 2.0l-2.0 -2.0zM620.0 170.7l2.0 2.0l-2.0 2.0l-2.0 -2.0zM620.5 170.7l2.0 2.0l-2.0 2.0l-2.0 -2.0zM620.5 170.1l2.0 2.0l-2.0 2.0l-2.0 -2.0zM621.0 170.0l2.0 2.0l-2.0 2.0l-2.0 -2.0z" fill="#ff0000"/>
</g>
<path d="M453.86 344.70v-4M453.86 30.50v4M469.59 344.70v-4M469.59 30.50v4M485.31 344.70v-8M485.31 30.50v8M501.04 344.70v-4M501.04 30.50v4M516.76 344.70v-4M516.76 30.50v4M532.49 344.70v-4M532.49 30.50v4M548.21 344.70v-4M548.21 30.50v4M563.94 344.70v-8M563.94 30.50v8M579.66 344.70v-4M579.66 30.50v4M595.39 344.70v-4M595.39 30.50v4M611.11 344.70v-4M611.11 30.50v4M626.84 344.70v-4M626.84 30.50v4M642.56 344.70v-8M642.56 30.50v8M658.29 344.70v-4M658.29 30.50v4M674.01 344.70v-4M674.01 30.50v4M689.74 344.70v-4M689.74 30.50v4M705.46 344.70v-4M705.46 30.50v4M721.19 344.70v-8M721.19 30.50v8M736.91 344.70v-4M736.91 30.50v4M752.64 344.70v-4M752.64 30.50v4M446.00 336.20h8M760.50 336.20h-8M446.00 320.46h4M760.50 320.46h-4M446.00 304.72h4M760.50 304.72h-4M446.00 288.98h4M760.50 288.98h-4M446.00 273.23h8M760.50 273.23h-8M446.00 257.49h4M760.50 257.49h-4M446.00 241.75h4M760.50 241.75h-4M446.00 226.01h4M760.50 226.01h-4M446.00 210.27h8M760.50 210.27h-8M446.00 194.53h4M760.50 194.53h-4M446.00 178.78h4M760.50 178.78h-4M446.00 163.04h4M760.50 163.04h-4M446.00 147.30h8M760.50 147.30h-8M446.00 131.56h4M760.50 131.56h-4M446.00 115.82h4M760.50 115.82h-4M446.00 100.08h4M760.50 100.08h-4M446.00 84.34h8M760.50 84.34h-8M446.00 68.59h4M760.50 68.59h-4M446.00 52.85h4M760.50 52.85h-4M446.00 37.11h4M760.50 37.11h-4" stroke="#555" stroke-width="1" fill="none"/>
<rect x="446.00" y="30.50" width="314.50" height="314.20" fill="none" stroke="#4c4c4c" stroke-width="1.15"/>
<text class="t" x="485.6" y="360.9" text-anchor="middle">−1</text>
<text class="t" x="564.2" y="360.9" text-anchor="middle">0</text>
<text class="t" x="642.8" y="360.9" text-anchor="middle">1</text>
<text class="t" x="721.4" y="360.9" text-anchor="middle">2</text>
<text class="t" x="439.0" y="340.8" text-anchor="end">−0.4</text>
<text class="t" x="439.0" y="277.8" text-anchor="end">−0.2</text>
<text class="t" x="439.0" y="214.9" text-anchor="end">0</text>
<text class="t" x="439.0" y="151.9" text-anchor="end">0.2</text>
<text class="t" x="439.0" y="88.9" text-anchor="end">0.4</text>
<text class="l" x="602.8" y="379.2" text-anchor="middle">G.MP9401−R.MP9601</text>
<text class="l" style="letter-spacing:-0.55px" transform="translate(417.0 186.0) rotate(-90)" text-anchor="middle">gSDSS−G.MP9401</text>
<text class="m" x="477.4" y="316.4">y=0.014+0.133x+0.032x²</text><text class="m" x="473.5" y="333.5">x&gt;−0.5</text><text class="m" x="688.0" y="333.5">x&lt;1.5</text>
</g>
<g>
<rect x="800" y="10" width="375" height="375" fill="#fefefe"/>
<path d="M800.8 325.0v8" stroke="#ff70ff" stroke-width="1.6"/>
<clipPath id="c2"><rect x="841.0" y="30.5" width="314.5" height="314.2"/></clipPath>
<g clip-path="url(#c2)" filter="url(#bl)">
<path d="M841.0 202.2L1155.5 139.3" stroke="#ff5cff" stroke-width="1.05"/><path d="M906.2 182.4h1.4M914.0 185.4h1.4M909.9 198.0h1.4M920.1 186.7h1.4M913.2 185.4h1.4M917.9 193.0h1.4M919.0 186.3h1.4M912.6 175.4h1.4M903.1 193.3h1.4M909.1 183.6h1.4M916.5 196.8h1.4M913.7 191.0h1.4M912.7 176.4h1.4M910.1 187.8h1.4M918.6 186.6h1.4M906.4 176.5h1.4M917.5 188.8h1.4M919.5 195.7h1.4M907.4 189.5h1.4M912.8 176.0h1.4M922.5 185.3h1.4M919.9 187.8h1.4M902.0 182.3h1.4M917.8 177.4h1.4M910.2 186.0h1.4M910.2 197.2h1.4M906.1 193.3h1.4M909.8 187.5h1.4M900.5 186.1h1.4M918.6 179.5h1.4M918.8 207.1h1.4M908.8 188.8h1.4M912.2 189.9h1.4M918.3 186.5h1.4M903.6 193.3h1.4M911.3 177.0h1.4M916.6 183.8h1.4M898.0 182.4h1.4M916.3 185.5h1.4M914.9 188.3h1.4M905.1 185.7h1.4M918.2 184.4h1.4M916.4 183.6h1.4M919.8 190.1h1.4M916.9 177.0h1.4M909.7 192.0h1.4M917.0 181.9h1.4M919.6 180.4h1.4M913.1 189.0h1.4M906.5 179.3h1.4M909.1 182.8h1.4M905.3 190.0h1.4M910.8 185.8h1.4M910.9 181.3h1.4M917.1 181.3h1.4M903.6 183.0h1.4M910.1 183.4h1.4M897.7 182.9h1.4M910.5 185.5h1.4M919.1 179.1h1.4M907.0 199.0h1.4M914.9 195.0h1.4M911.7 189.3h1.4M914.5 193.5h1.4M912.9 179.0h1.4M919.1 181.2h1.4M905.1 186.3h1.4M903.8 181.9h1.4M922.5 178.5h1.4M922.6 187.4h1.4M916.4 194.8h1.4M916.3 186.3h1.4M910.5 188.2h1.4M908.5 177.7h1.4M902.7 174.2h1.4M919.4 188.2h1.4M916.2 188.9h1.4M904.9 191.1h1.4M912.0 177.0h1.4M913.7 178.4h1.4M910.0 191.4h1.4M919.9 177.7h1.4M907.4 185.8h1.4M908.7 187.6h1.4M912.0 184.9h1.4M916.5 183.2h1.4M912.8 198.4h1.4M918.5 188.8h1.4M913.4 189.1h1.4M914.0 189.0h1.4M904.4 193.5h1.4M920.5 181.4h1.4M911.2 190.7h1.4M912.7 191.1h1.4M914.7 179.5h1.4M913.8 177.3h1.4M918.8 185.6h1.4M904.8 188.4h1.4M913.0 190.6h1.4M916.4 195.6h1.4M922.8 188.1h1.4M904.9 182.0h1.4M906.0 191.4h1.4M909.2 176.2h1.4M917.0 167.8h1.4M912.0 184.8h1.4M913.4 188.8h1.4M909.2 184.8h1.4M906.9 175.7h1.4M911.4 180.3h1.4M899.1 182.0h1.4M909.8 179.3h1.4M923.2 187.0h1.4M909.0 179.0h1.4M917.9 170.8h1.4M915.5 191.2h1.4M912.1 184.1h1.4M901.8 186.3h1.4M911.9 193.7h1.4M908.8 174.3h1.4M916.9 176.5h1.4M912.9 182.1h1.4M913.5 198.7h1.4M909.2 182.4h1.4M908.5 190.0h1.4M911.3 186.9h1.4M907.4 184.5h1.4M922.7 189.4h1.4M913.9 187.3h1.4M923.3 183.4h1.4M914.5 198.4h1.4M915.3 181.7h1.4M913.2 182.1h1.4M914.9 179.1h1.4M913.2 200.2h1.4M906.2 189.8h1.4M904.1 193.5h1.4M918.6 172.4h1.4M903.1 180.0h1.4M893.3 190.7h1.4M910.3 183.0h1.4M904.2 182.1h1.4M912.2 196.4h1.4M909.6 174.9h1.4M907.4 181.3h1.4M907.4 181.4h1.4M907.0 182.7h1.4M913.2 191.0h1.4M909.1 183.7h1.4M911.4 184.2h1.4M914.0 189.9h1.4M914.2 185.4h1.4M905.3 186.0h1.4M905.3 173.2h1.4M906.9 190.3h1.4M915.9 188.7h1.4M923.8 189.9h1.4M913.5 174.6h1.4M920.7 179.1h1.4M922.6 181.9h1.4M916.2 190.1h1.4M907.4 190.1h1.4M913.9 175.3h1.4M905.2 189.5h1.4M915.0 184.1h1.4M916.2 189.2h1.4M917.5 195.7h1.4M914.7 181.1h1.4M918.5 187.8h1.4M915.7 193.4h1.4M918.8 182.6h1.4M905.7 181.0h1.4M924.6 196.6h1.4M916.2 189.4h1.4M907.3 180.8h1.4M917.5 185.6h1.4M910.4 179.8h1.4M921.5 188.5h1.4M916.1 187.4h1.4M921.6 204.4h1.4M907.3 181.5h1.4M911.9 176.2h1.4M916.3 182.9h1.4M911.4 192.8h1.4M912.5 194.7h1.4M911.7 186.4h1.4M910.0 185.2h1.4M912.5 174.5h1.4M912.4 180.7h1.4M909.4 185.8h1.4M912.9 185.0h1.4M918.4 167.8h1.4M916.6 175.8h1.4M908.1 180.4h1.4M906.8 181.9h1.4M908.2 191.2h1.4M914.4 186.9h1.4M908.7 201.2h1.4M903.5 175.1h1.4M911.0 173.9h1.4M905.2 184.8h1.4M915.4 185.6h1.4M918.9 185.7h1.4M916.1 185.9h1.4M923.5 194.4h1.4M911.7 189.6h1.4M915.8 176.7h1.4M910.9 189.6h1.4M915.6 182.5h1.4M918.4 186.8h1.4M910.1 175.5h1.4M917.9 188.8h1.4M904.5 181.1h1.4M910.9 178.2h1.4M913.0 177.3h1.4M915.2 187.5h1.4M918.9 192.1h1.4M916.9 185.5h1.4M923.7 184.2h1.4M910.5 184.9h1.4M910.1 188.2h1.4M912.6 192.9h1.4M915.0 182.7h1.4M910.9 182.3h1.4M916.9 191.4h1.4M914.4 180.0h1.4M904.1 174.8h1.4M908.1 182.0h1.4M909.9 195.4h1.4M909.1 176.4h1.4M908.6 177.1h1.4M898.1 185.8h1.4M914.3 186.3h1.4M900.4 185.6h1.4M901.7 190.8h1.4M906.8 188.7h1.4M911.9 169.8h1.4M907.0 184.9h1.4M918.3 182.8h1.4M907.6 179.3h1.4M911.3 183.7h1.4M908.2 177.6h1.4M921.7 176.9h1.4M908.8 177.9h1.4M912.7 180.5h1.4M921.3 186.2h1.4M908.4 189.2h1.4M915.0 188.6h1.4M907.5 182.5h1.4M919.7 182.6h1.4M911.1 190.6h1.4M922.8 186.5h1.4M922.2 185.2h1.4M915.7 186.4h1.4M912.8 190.4h1.4M916.9 189.8h1.4M914.7 185.9h1.4M916.8 188.0h1.4M920.1 189.1h1.4M902.5 181.5h1.4M920.6 187.1h1.4M923.1 198.6h1.4M915.0 189.1h1.4M923.8 180.2h1.4M913.3 184.1h1.4M914.0 185.3h1.4M899.9 182.8h1.4M915.8 189.6h1.4M905.7 185.7h1.4M917.1 182.9h1.4M907.8 193.1h1.4M909.4 189.1h1.4M909.3 183.6h1.4M903.9 200.5h1.4M916.0 187.5h1.4M909.6 181.1h1.4M904.3 184.6h1.4M914.8 188.3h1.4M914.4 195.3h1.4M899.2 171.4h1.4M909.2 191.5h1.4M919.0 200.6h1.4M910.3 176.0h1.4M916.8 196.1h1.4M914.4 182.0h1.4M920.4 194.9h1.4M903.7 182.5h1.4M921.8 180.6h1.4M914.7 188.4h1.4M910.8 176.0h1.4M919.0 177.2h1.4M910.0 193.4h1.4M902.1 174.2h1.4M919.5 184.0h1.4M905.0 187.8h1.4M906.8 184.5h1.4M914.2 188.7h1.4M907.3 183.3h1.4M903.8 184.0h1.4M915.1 189.5h1.4M914.0 179.5h1.4M905.6 196.3h1.4M918.2 185.6h1.4M920.0 201.6h1.4M924.0 179.4h1.4M905.6 184.5h1.4M905.7 178.5h1.4M915.7 172.2h1.4M911.2 183.5h1.4M911.6 178.3h1.4M903.5 184.0h1.4M920.1 180.1h1.4M899.0 168.9h1.4M921.7 186.1h1.4M918.7 189.9h1.4M912.7 191.3h1.4M915.4 179.9h1.4M919.3 179.6h1.4M919.4 179.7h1.4M907.4 179.7h1.4M913.5 184.5h1.4M915.9 188.0h1.4M924.1 174.3h1.4M915.0 189.8h1.4M908.9 185.9h1.4M913.7 189.1h1.4M913.9 181.6h1.4M903.9 177.4h1.4M914.0 191.8h1.4M915.7 185.3h1.4M905.8 188.7h1.4M916.4 199.2h1.4M894.8 174.5h1.4M905.4 185.5h1.4M909.2 176.6h1.4M906.1 180.6h1.4M912.4 195.6h1.4M912.8 176.0h1.4M909.8 190.1h1.4M912.6 186.9h1.4M902.0 181.1h1.4M897.8 179.8h1.4M911.6 184.2h1.4M911.9 184.1h1.4M902.7 201.2h1.4M916.4 179.9h1.4M913.6 187.4h1.4M915.4 188.6h1.4M915.9 180.1h1.4M921.6 173.7h1.4M917.8 184.7h1.4M913.6 175.1h1.4M918.5 194.4h1.4M911.0 182.8h1.4M908.8 187.7h1.4M908.9 185.5h1.4M913.2 185.9h1.4M910.3 180.4h1.4M910.1 193.8h1.4M911.9 178.3h1.4M916.0 184.3h1.4M913.9 196.6h1.4M910.2 187.0h1.4M913.4 182.4h1.4M916.4 180.8h1.4M913.2 178.5h1.4M908.4 183.7h1.4M915.9 179.8h1.4M922.8 195.0h1.4M914.1 179.4h1.4M907.6 187.9h1.4M917.2 195.5h1.4M913.2 173.2h1.4M915.2 190.7h1.4M911.8 182.3h1.4M913.1 179.0h1.4M918.0 185.0h1.4M917.4 181.7h1.4M911.7 187.9h1.4M911.0 187.0h1.4M920.9 185.7h1.4M914.5 178.6h1.4M919.0 182.1h1.4M906.5 185.9h1.4M918.0 179.9h1.4M909.0 188.1h1.4M905.3 184.9h1.4M901.7 190.1h1.4M918.8 186.3h1.4M917.4 188.4h1.4M921.7 170.7h1.4M908.8 193.0h1.4M913.1 187.0h1.4M920.4 186.4h1.4M903.5 179.6h1.4M912.9 180.6h1.4M921.2 189.7h1.4M913.6 196.8h1.4M903.1 181.0h1.4M915.3 190.5h1.4M915.0 182.9h1.4M907.0 184.8h1.4M916.2 183.4h1.4M910.9 181.8h1.4M907.8 186.8h1.4M916.7 194.9h1.4M904.5 189.0h1.4M914.9 182.7h1.4M925.8 177.6h1.4M911.5 185.5h1.4M912.7 188.1h1.4M915.0 189.7h1.4M910.5 184.0h1.4M918.7 182.4h1.4M912.8 186.4h1.4M904.2 178.8h1.4M917.7 177.8h1.4M911.8 184.6h1.4M899.7 197.2h1.4M917.5 196.1h1.4M907.6 177.3h1.4M907.3 186.0h1.4M914.4 174.6h1.4M912.6 185.0h1.4M908.9 186.9h1.4M918.8 188.9h1.4M899.4 198.2h1.4M909.8 197.7h1.4M917.0 191.7h1.4M912.0 186.3h1.4M918.8 189.9h1.4M913.8 183.8h1.4M916.4 196.4h1.4M907.6 177.1h1.4M908.8 183.8h1.4M911.2 185.1h1.4M913.3 184.4h1.4M919.6 187.1h1.4M917.2 188.0h1.4M913.2 178.1h1.4M910.9 180.4h1.4M915.0 184.3h1.4M910.1 181.9h1.4M908.9 188.0h1.4M927.6 185.4h1.4M909.4 173.9h1.4M921.4 185.0h1.4M910.9 181.4h1.4M920.5 189.6h1.4M908.4 188.2h1.4M922.6 178.6h1.4M915.7 195.5h1.4M917.5 185.7h1.4M921.2 185.3h1.4M915.3 192.2h1.4M911.5 189.5h1.4M913.0 180.1h1.4M907.7 178.7h1.4M915.9 182.8h1.4M919.7 192.3h1.4M906.5 193.9h1.4M912.1 187.7h1.4M920.9 179.2h1.4M930.4 182.2h1.4M913.7 187.2h1.4M913.2 190.2h1.4M914.7 175.1h1.4M914.3 194.9h1.4M903.4 196.5h1.4M914.4 182.3h1.4M909.7 183.7h1.4M922.8 172.5h1.4M912.0 173.8h1.4M915.2 190.7h1.4M918.2 184.8h1.4M915.3 178.0h1.4M921.8 172.4h1.4M920.0 172.9h1.4M910.9 187.7h1.4M913.9 171.6h1.4M908.1 188.1h1.4M904.5 171.5h1.4M920.1 193.5h1.4M915.2 175.1h1.4M915.1 176.7h1.4M916.4 177.2h1.4M922.2 173.8h1.4M920.2 187.9h1.4M918.2 184.1h1.4M918.4 185.9h1.4M909.2 182.4h1.4M913.4 184.5h1.4M909.9 196.5h1.4M912.9 189.2h1.4M911.6 189.1h1.4M911.8 171.9h1.4M914.3 197.9h1.4M916.3 179.7h1.4M903.6 193.1h1.4M911.5 194.9h1.4M919.8 182.3h1.4M912.9 193.3h1.4M907.1 181.7h1.4M913.2 186.3h1.4M913.1 184.6h1.4M911.0 180.0h1.4M912.3 187.0h1.4M909.5 183.2h1.4M917.1 191.4h1.4M909.3 189.0h1.4M912.9 192.0h1.4M912.3 167.8h1.4M907.9 184.6h1.4M916.5 194.9h1.4M913.9 188.7h1.4M907.4 180.9h1.4M913.0 185.1h1.4M917.3 185.2h1.4M917.8 174.5h1.4M909.2 199.9h1.4M904.3 193.1h1.4M913.8 179.9h1.4M920.2 208.3h1.4M913.1 206.6h1.4M907.1 189.3h1.4M924.7 180.1h1.4M919.6 191.0h1.4M915.8 215.9h1.4M910.3 179.4h1.4M910.4 189.4h1.4M923.7 186.7h1.4M907.7 192.4h1.4M920.8 167.2h1.4M921.2 171.3h1.4M927.6 175.3h1.4M902.9 196.6h1.4M914.7 190.7h1.4M922.5 186.2h1.4M913.0 198.0h1.4M913.3 182.9h1.4M910.6 174.7h1.4M922.9 189.5h1.4M913.9 178.7h1.4M909.6 159.9h1.4M917.0 213.8h1.4M913.9 198.1h1.4M911.8 179.1h1.4M903.5 194.2h1.4M912.7 190.8h1.4M915.0 166.3h1.4M915.3 197.5h1.4M916.3 200.8h1.4M921.2 171.5h1.4M915.6 168.4h1.4M908.9 191.8h1.4M924.2 196.6h1.4M912.8 188.7h1.4M903.3 206.6h1.4M908.4 176.1h1.4M926.3 193.2h1.4M909.5 183.2h1.4M906.0 167.8h1.4M919.5 214.2h1.4M890.1 170.2h1.4M913.9 203.7h1.4M909.2 184.9h1.4M916.3 189.9h1.4M929.7 165.3h1.4M922.3 189.3h1.4M905.5 176.9h1.4M903.9 176.0h1.4M914.2 187.8h1.4M907.8 148.1h1.4M930.7 167.1h1.4M910.9 206.7h1.4M912.6 182.5h1.4M908.5 188.5h1.4M913.1 176.4h1.4M904.1 180.8h1.4M898.5 173.2h1.4M923.7 197.9h1.4M910.0 186.7h1.4M920.6 181.3h1.4M909.2 179.2h1.4M925.0 202.0h1.4M924.3 197.5h1.4M919.6 184.4h1.4M920.7 190.4h1.4M935.1 211.3h1.4M917.7 190.7h1.4M942.8 197.7h1.4M911.2 183.0h1.4M922.3 186.9h1.4M912.0 209.6h1.4M915.3 176.9h1.4M920.1 186.2h1.4M917.2 193.4h1.4M916.0 204.3h1.4M898.1 197.0h1.4M917.5 172.9h1.4M904.5 188.4h1.4M922.1 183.8h1.4M909.6 189.1h1.4M925.3 172.8h1.4M907.5 166.5h1.4M903.0 202.1h1.4M914.0 186.4h1.4M907.6 167.6h1.4M905.0 179.1h1.4M911.7 185.0h1.4M899.1 176.7h1.4M920.0 187.2h1.4M905.9 184.6h1.4M912.0 179.4h1.4M906.7 176.5h1.4M916.3 168.6h1.4M911.3 176.6h1.4M920.4 180.0h1.4M908.5 178.5h1.4M921.6 169.7h1.4M897.4 172.8h1.4M920.4 179.8h1.4M913.3 197.0h1.4M914.1 196.3h1.4M924.5 199.2h1.4M902.9 203.7h1.4M920.7 186.6h1.4M929.5 179.8h1.4M935.1 184.8h1.4M922.7 174.4h1.4M918.3 184.5h1.4M903.8 190.1h1.4M916.0 169.7h1.4M918.9 210.0h1.4M902.4 185.1h1.4M937.1 188.4h1.4M937.0 192.1h1.4M907.5 176.0h1.4M908.3 174.8h1.4M927.4 177.2h1.4M922.3 187.1h1.4M907.9 205.6h1.4M910.7 196.5h1.4M923.5 180.5h1.4M910.9 194.0h1.4M919.3 186.5h1.4M917.9 205.7h1.4M921.5 182.8h1.4M915.4 187.0h1.4M930.4 183.6h1.4M923.0 172.2h1.4M906.8 185.5h1.4M908.4 197.6h1.4M916.5 198.5h1.4M923.0 181.0h1.4M904.7 184.3h1.4M897.0 185.0h1.4M906.1 169.6h1.4M925.9 176.6h1.4M909.8 163.0h1.4M904.4 194.8h1.4M912.5 211.3h1.4M917.7 173.1h1.4M901.8 160.8h1.4M909.6 200.9h1.4M920.7 175.4h1.4M918.5 190.0h1.4M920.4 192.2h1.4M926.0 193.9h1.4M914.5 187.8h1.4M916.0 187.1h1.4M914.9 182.9h1.4M903.1 203.2h1.4M916.9 177.1h1.4M929.4 188.2h1.4M903.6 163.3h1.4M909.1 166.3h1.4M905.0 173.3h1.4M911.0 181.6h1.4M914.0 206.1h1.4M918.2 183.0h1.4M916.5 196.0h1.4M898.6 176.1h1.4M924.6 211.9h1.4M911.3 186.4h1.4M906.4 184.7h1.4M900.0 201.7h1.4M920.4 188.0h1.4M906.7 182.6h1.4M901.7 186.8h1.4M910.5 187.3h1.4M911.3 184.6h1.4M906.2 203.1h1.4M913.8 195.0h1.4M914.5 188.4h1.4M909.4 182.3h1.4M913.5 181.3h1.4M922.1 198.0h1.4M909.0 179.2h1.4M922.9 205.6h1.4M907.2 176.4h1.4M918.6 194.5h1.4M910.5 181.3h1.4M898.9 177.0h1.4M905.6 194.6h1.4M910.4 189.3h1.4M910.7 184.5h1.4M928.2 168.2h1.4M928.1 173.7h1.4M914.1 203.0h1.4M913.7 172.7h1.4M910.1 169.3h1.4M916.1 187.7h1.4M928.0 170.4h1.4M912.0 171.0h1.4M919.0 159.5h1.4M914.1 167.1h1.4M919.7 188.8h1.4M909.4 198.0h1.4M910.1 207.7h1.4M921.9 185.5h1.4M916.2 175.8h1.4M915.1 176.5h1.4M910.8 192.7h1.4M907.1 183.8h1.4M917.1 181.7h1.4M918.3 180.7h1.4M916.3 204.7h1.4M912.0 179.6h1.4M907.6 179.0h1.4M907.3 177.8h1.4M910.2 186.4h1.4M927.1 199.0h1.4M923.4 204.5h1.4M909.6 203.7h1.4M905.9 193.5h1.4M913.7 196.3h1.4M921.9 204.2h1.4M930.0 188.5h1.4M915.2 176.8h1.4M918.4 208.1h1.4M908.8 189.6h1.4M896.2 178.6h1.4M920.6 174.4h1.4M901.5 179.8h1.4M912.7 189.0h1.4M910.0 185.4h1.4M912.4 196.5h1.4M911.5 185.2h1.4M914.0 187.9h1.4M949.3 172.7h1.4M934.5 181.2h1.4M944.4 186.8h1.4M922.5 183.0h1.4M923.9 189.2h1.4M931.5 187.1h1.4M929.1 180.7h1.4M930.3 191.8h1.4M948.8 178.4h1.4M933.3 176.9h1.4M933.3 183.7h1.4M947.6 179.2h1.4M934.1 190.3h1.4M931.8 181.1h1.4M932.3 184.7h1.4M936.4 174.6h1.4M928.9 178.9h1.4M939.8 178.8h1.4M942.0 186.6h1.4M948.9 177.3h1.4M938.8 178.2h1.4M923.5 182.6h1.4M917.4 180.0h1.4M928.2 175.0h1.4M932.7 181.1h1.4M940.2 183.4h1.4M920.9 177.4h1.4M943.3 178.7h1.4M933.8 187.3h1.4M935.3 186.8h1.4M916.2 182.4h1.4M937.0 181.3h1.4M939.4 177.1h1.4M927.8 179.5h1.4M945.5 177.6h1.4M939.4 184.9h1.4M934.8 184.8h1.4M938.1 187.7h1.4M930.8 184.2h1.4M927.6 188.8h1.4M921.8 108.5h1.4M905.9 125.4h1.4M935.0 125.4h1.4M898.5 129.7h1.4M923.3 128.5h1.4M918.5 131.3h1.4M905.1 133.5h1.4M932.4 138.6h1.4M902.6 139.9h1.4M910.2 143.2h1.4M911.4 145.2h1.4M903.1 146.2h1.4M920.3 145.2h1.4M929.1 144.4h1.4M905.6 150.8h1.4M922.8 150.8h1.4M938.8 152.5h1.4M906.4 149.5h1.4M908.9 158.4h1.4M905.6 159.6h1.4M912.7 157.8h1.4M919.0 156.3h1.4M917.8 162.2h1.4M943.6 163.4h1.4M947.6 162.2h1.4M935.0 167.2h1.4M891.9 215.3h1.4M890.7 215.3h1.4M901.3 220.9h1.4M912.7 221.6h1.4M915.2 221.1h1.4M900.8 224.7h1.4M905.6 224.9h1.4M920.3 228.0h1.4M900.0 238.6h1.4M916.0 244.2h1.4M898.5 253.5h1.4M912.7 266.7h1.4M906.9 272.5h1.4M903.3 281.4h1.4M868.4 187.5h1.4M891.2 174.8h1.4M893.7 173.5h1.4M891.2 182.4h1.4M941.3 199.4h1.4M948.9 200.4h1.4M952.7 190.8h1.4M960.8 189.2h1.4M965.4 184.9h1.4" stroke="#1c1c1c" stroke-width="1.4" fill="none"/><path d="M893.7 190.2h2.5v2.5h-2.5zM894.5 189.4h2.5v2.5h-2.5zM895.4 189.2h2.5v2.5h-2.5zM895.6 189.3h2.5v2.5h-2.5zM896.2 188.6h2.5v2.5h-2.5zM897.9 189.5h2.5v2.5h-2.5zM898.5 188.3h2.5v2.5h-2.5zM899.6 188.3h2.5v2.5h-2.5zM900.5 187.8h2.5v2.5h-2.5zM901.4 187.3h2.5v2.5h-2.5zM902.2 187.7h2.5v2.5h-2.5zM903.0 187.4h2.5v2.5h-2.5zM903.6 187.4h2.5v2.5h-2.5zM904.4 186.7h2.5v2.5h-2.5zM905.2 186.6h2.5v2.5h-2.5zM906.4 186.2h2.5v2.5h-2.5zM907.7 186.1h2.5v2.5h-2.5zM908.2 185.2h2.5v2.5h-2.5zM908.6 185.4h2.5v2.5h-2.5zM909.8 184.7h2.5v2.5h-2.5zM910.6 184.5h2.5v2.5h-2.5zM911.8 184.9h2.5v2.5h-2.5zM912.5 184.1h2.5v2.5h-2.5zM913.5 184.1h2.5v2.5h-2.5zM914.6 183.5h2.5v2.5h-2.5zM915.1 183.8h2.5v2.5h-2.5zM916.3 183.7h2.5v2.5h-2.5zM917.4 183.1h2.5v2.5h-2.5zM917.7 182.9h2.5v2.5h-2.5zM918.7 182.7h2.5v2.5h-2.5zM920.4 182.7h2.5v2.5h-2.5zM921.1 182.3h2.5v2.5h-2.5zM921.6 182.0h2.5v2.5h-2.5zM923.0 181.3h2.5v2.5h-2.5zM923.6 181.4h2.5v2.5h-2.5zM924.6 181.2h2.5v2.5h-2.5zM925.4 181.2h2.5v2.5h-2.5zM926.2 180.7h2.5v2.5h-2.5zM927.7 180.4h2.5v2.5h-2.5zM928.2 180.3h2.5v2.5h-2.5zM928.9 180.0h2.5v2.5h-2.5zM929.4 179.5h2.5v2.5h-2.5zM930.5 179.7h2.5v2.5h-2.5zM931.4 179.1h2.5v2.5h-2.5zM932.7 179.0h2.5v2.5h-2.5z" fill="#0000ff"/><path d="M864.3 195.9h2.6v2.6h-2.6zM864.8 195.2h2.6v2.6h-2.6zM866.4 195.7h2.6v2.6h-2.6zM867.2 194.7h2.6v2.6h-2.6zM867.8 194.7h2.6v2.6h-2.6zM869.0 194.6h2.6v2.6h-2.6zM870.1 194.6h2.6v2.6h-2.6zM871.3 194.4h2.6v2.6h-2.6zM871.7 193.9h2.6v2.6h-2.6zM873.3 193.6h2.6v2.6h-2.6zM874.0 193.5h2.6v2.6h-2.6zM875.3 193.6h2.6v2.6h-2.6zM876.2 193.1h2.6v2.6h-2.6zM877.2 192.9h2.6v2.6h-2.6zM877.7 192.6h2.6v2.6h-2.6zM879.4 192.4h2.6v2.6h-2.6zM880.2 192.2h2.6v2.6h-2.6zM881.3 192.0h2.6v2.6h-2.6zM882.1 192.3h2.6v2.6h-2.6zM883.2 191.9h2.6v2.6h-2.6zM884.2 191.6h2.6v2.6h-2.6zM885.0 191.6h2.6v2.6h-2.6zM886.1 191.5h2.6v2.6h-2.6zM887.4 191.3h2.6v2.6h-2.6zM888.1 191.0h2.6v2.6h-2.6zM888.9 190.8h2.6v2.6h-2.6zM889.7 190.8h2.6v2.6h-2.6zM891.5 190.2h2.6v2.6h-2.6zM892.0 190.1h2.6v2.6h-2.6zM893.1 189.8h2.6v2.6h-2.6zM868.3 191.2h2.6v2.6h-2.6zM867.3 192.5h2.6v2.6h-2.6zM903.1 187.4h2.6v2.6h-2.6zM904.6 187.1h2.6v2.6h-2.6zM906.5 186.8h2.6v2.6h-2.6zM907.5 186.6h2.6v2.6h-2.6zM909.1 186.6h2.6v2.6h-2.6zM910.4 185.9h2.6v2.6h-2.6zM912.1 185.8h2.6v2.6h-2.6zM913.4 185.8h2.6v2.6h-2.6z" fill="#00ff00"/><path d="M940.6 178.2h3.4v3.4h-3.4zM943.6 176.8h3.4v3.4h-3.4zM948.7 178.2h3.4v3.4h-3.4zM940.6 181.2h3.4v3.4h-3.4zM1059.2 161.8h3.4v3.4h-3.4zM1074.4 169.4h3.4v3.4h-3.4zM1092.2 152.7h3.4v3.4h-3.4zM1095.7 147.7h3.4v3.4h-3.4zM1102.3 147.7h3.4v3.4h-3.4zM1114.9 143.6h3.4v3.4h-3.4zM1021.3 175.0h3.4v3.4h-3.4zM1031.4 168.4h3.4v3.4h-3.4zM1041.5 175.0h3.4v3.4h-3.4zM1002.0 172.0h3.4v3.4h-3.4zM997.0 179.1h3.4v3.4h-3.4zM985.8 172.0h3.4v3.4h-3.4zM980.8 171.0h3.4v3.4h-3.4zM981.8 179.1h3.4v3.4h-3.4zM978.7 174.0h3.4v3.4h-3.4zM967.1 179.6h3.4v3.4h-3.4zM962.0 175.5h3.4v3.4h-3.4zM960.5 180.6h3.4v3.4h-3.4zM955.5 177.0h3.4v3.4h-3.4zM948.9 179.1h3.4v3.4h-3.4zM942.8 176.5h3.4v3.4h-3.4zM946.8 181.1h3.4v3.4h-3.4z" fill="#0000ff"/><path d="M1100.8 126.9h3.4v3.4h-3.4zM1128.1 160.3h3.4v3.4h-3.4zM998.5 179.6h3.4v3.4h-3.4z" fill="#00ff00"/><path d="M910.7 186.7l1.8 1.8l-1.8 1.8l-1.8 -1.8zM911.5 187.0l1.8 1.8l-1.8 1.8l-1.8 -1.8zM912.3 186.8l1.8 1.8l-1.8 1.8l-1.8 -1.8zM912.9 187.0l1.8 1.8l-1.8 1.8l-1.8 -1.8zM913.4 186.5l1.8 1.8l-1.8 1.8l-1.8 -1.8zM914.2 186.2l1.8 1.8l-1.8 1.8l-1.8 -1.8zM915.0 186.0l1.8 1.8l-1.8 1.8l-1.8 -1.8zM915.9 186.0l1.8 1.8l-1.8 1.8l-1.8 -1.8zM916.5 185.2l1.8 1.8l-1.8 1.8l-1.8 -1.8zM917.3 185.4l1.8 1.8l-1.8 1.8l-1.8 -1.8zM918.0 185.2l1.8 1.8l-1.8 1.8l-1.8 -1.8zM918.2 185.2l1.8 1.8l-1.8 1.8l-1.8 -1.8zM919.0 184.9l1.8 1.8l-1.8 1.8l-1.8 -1.8zM920.0 184.7l1.8 1.8l-1.8 1.8l-1.8 -1.8zM920.8 184.5l1.8 1.8l-1.8 1.8l-1.8 -1.8zM920.9 184.8l1.8 1.8l-1.8 1.8l-1.8 -1.8zM921.9 184.7l1.8 1.8l-1.8 1.8l-1.8 -1.8zM922.3 184.2l1.8 1.8l-1.8 1.8l-1.8 -1.8zM923.4 184.0l1.8 1.8l-1.8 1.8l-1.8 -1.8zM923.9 183.7l1.8 1.8l-1.8 1.8l-1.8 -1.8zM924.5 183.8l1.8 1.8l-1.8 1.8l-1.8 -1.8zM925.6 183.6l1.8 1.8l-1.8 1.8l-1.8 -1.8zM926.2 183.0l1.8 1.8l-1.8 1.8l-1.8 -1.8zM926.9 183.0l1.8 1.8l-1.8 1.8l-1.8 -1.8zM927.4 182.8l1.8 1.8l-1.8 1.8l-1.8 -1.8z" fill="#ff0000"/>
</g>
<path d="M851.77 344.70v-4M851.77 30.50v4M867.50 344.70v-4M867.50 30.50v4M883.22 344.70v-4M883.22 30.50v4M898.95 344.70v-8M898.95 30.50v8M914.67 344.70v-4M914.67 30.50v4M930.40 344.70v-4M930.40 30.50v4M946.12 344.70v-4M946.12 30.50v4M961.85 344.70v-4M961.85 30.50v4M977.57 344.70v-8M977.57 30.50v8M993.30 344.70v-4M993.30 30.50v4M1009.02 344.70v-4M1009.02 30.50v4M1024.75 344.70v-4M1024.75 30.50v4M1040.47 344.70v-4M1040.47 30.50v4M1056.20 344.70v-8M1056.20 30.50v8M1071.92 344.70v-4M1071.92 30.50v4M1087.65 344.70v-4M1087.65 30.50v4M1103.37 344.70v-4M1103.37 30.50v4M1119.10 344.70v-4M1119.10 30.50v4M1134.82 344.70v-8M1134.82 30.50v8M1150.55 344.70v-4M1150.55 30.50v4M841.00 332.12h4M1155.50 332.12h-4M841.00 316.39h8M1155.50 316.39h-8M841.00 300.67h4M1155.50 300.67h-4M841.00 284.94h4M1155.50 284.94h-4M841.00 269.22h4M1155.50 269.22h-4M841.00 253.49h8M1155.50 253.49h-8M841.00 237.77h4M1155.50 237.77h-4M841.00 222.04h4M1155.50 222.04h-4M841.00 206.31h4M1155.50 206.31h-4M841.00 190.59h8M1155.50 190.59h-8M841.00 174.86h4M1155.50 174.86h-4M841.00 159.14h4M1155.50 159.14h-4M841.00 143.41h4M1155.50 143.41h-4M841.00 127.68h8M1155.50 127.68h-8M841.00 111.96h4M1155.50 111.96h-4M841.00 96.23h4M1155.50 96.23h-4M841.00 80.51h4M1155.50 80.51h-4M841.00 64.78h8M1155.50 64.78h-8M841.00 49.06h4M1155.50 49.06h-4M841.00 33.33h4M1155.50 33.33h-4" stroke="#555" stroke-width="1" fill="none"/>
<rect x="841.00" y="30.50" width="314.50" height="314.20" fill="none" stroke="#4c4c4c" stroke-width="1.15"/>
<text class="t" x="899.2" y="360.9" text-anchor="middle">0</text>
<text class="t" x="977.8" y="360.9" text-anchor="middle">1</text>
<text class="t" x="1056.4" y="360.9" text-anchor="middle">2</text>
<text class="t" x="1135.1" y="360.9" text-anchor="middle">3</text>
<text class="t" x="834.0" y="321.0" text-anchor="end">−0.4</text>
<text class="t" x="834.0" y="258.1" text-anchor="end">−0.2</text>
<text class="t" x="834.0" y="195.2" text-anchor="end">0</text>
<text class="t" x="834.0" y="132.3" text-anchor="end">0.2</text>
<text class="t" x="834.0" y="69.4" text-anchor="end">0.4</text>
<text class="l" x="997.8" y="379.2" text-anchor="middle">R.MP9601−I.MP9701</text>
<text class="l" style="letter-spacing:-0.55px" transform="translate(812.0 186.0) rotate(-90)" text-anchor="middle">rSDSS−R.MP9601</text>
<text class="m" x="872.4" y="316.4">y=0.000+0.050x</text>
</g>
<g>
<rect x="10" y="405" width="375" height="375" fill="#fefefe"/>
<path d="M10.8 720.0v8" stroke="#ff70ff" stroke-width="1.6"/>
<clipPath id="c3"><rect x="51.0" y="425.5" width="314.5" height="314.2"/></clipPath>
<g clip-path="url(#c3)" filter="url(#bl)">
<path d="M51.0 603.6L365.5 494.2" stroke="#ff5cff" stroke-width="1.05"/><path d="M125.8 595.7h1.4M127.5 587.0h1.4M113.5 586.0h1.4M116.8 575.6h1.4M124.8 586.6h1.4M117.1 580.5h1.4M132.1 575.5h1.4M125.9 572.9h1.4M121.4 594.5h1.4M115.0 584.2h1.4M121.2 592.6h1.4M122.8 597.2h1.4M131.0 586.8h1.4M123.4 581.6h1.4M123.8 580.7h1.4M121.2 582.5h1.4M120.9 594.3h1.4M128.7 581.5h1.4M122.8 586.9h1.4M123.5 579.2h1.4M114.9 588.0h1.4M121.1 580.1h1.4M109.2 583.4h1.4M119.1 593.5h1.4M121.2 585.5h1.4M126.4 582.0h1.4M127.6 584.0h1.4M118.3 583.3h1.4M129.9 589.4h1.4M121.6 598.6h1.4M115.2 572.5h1.4M119.8 590.4h1.4M119.4 576.8h1.4M126.7 581.8h1.4M123.5 579.4h1.4M120.6 594.4h1.4M118.8 582.5h1.4M123.8 585.7h1.4M119.4 590.2h1.4M117.3 588.2h1.4M120.6 589.0h1.4M122.8 593.4h1.4M133.1 578.9h1.4M125.6 581.3h1.4M120.6 589.7h1.4M127.2 575.6h1.4M124.7 583.3h1.4M127.0 585.8h1.4M127.0 588.7h1.4M110.1 571.8h1.4M114.7 588.6h1.4M122.0 573.4h1.4M115.6 581.4h1.4M124.0 580.5h1.4M129.6 587.3h1.4M126.9 594.9h1.4M112.1 593.0h1.4M119.9 579.2h1.4M123.0 586.5h1.4M126.7 588.7h1.4M119.1 561.6h1.4M121.8 575.5h1.4M116.6 579.9h1.4M128.1 588.3h1.4M124.8 586.5h1.4M125.3 580.6h1.4M120.1 579.0h1.4M123.7 592.3h1.4M112.5 577.0h1.4M119.8 582.8h1.4M128.0 584.8h1.4M125.7 588.4h1.4M123.6 585.9h1.4M123.2 575.4h1.4M116.3 590.3h1.4M122.7 583.5h1.4M129.2 579.1h1.4M117.4 577.7h1.4M125.6 576.0h1.4M124.8 579.1h1.4M124.9 594.2h1.4M121.1 565.9h1.4M126.1 576.5h1.4M125.4 573.8h1.4M116.1 577.8h1.4M125.0 589.9h1.4M119.2 582.1h1.4M121.9 587.0h1.4M136.8 585.6h1.4M124.5 586.0h1.4M119.0 576.5h1.4M126.4 591.4h1.4M120.8 582.3h1.4M122.3 579.9h1.4M129.2 593.3h1.4M119.9 586.1h1.4M120.8 580.0h1.4M120.0 584.0h1.4M119.7 574.7h1.4M121.2 587.4h1.4M120.3 579.1h1.4M129.5 570.7h1.4M123.7 585.9h1.4M122.9 585.0h1.4M134.8 586.2h1.4M120.0 596.8h1.4M117.1 576.0h1.4M120.3 590.6h1.4M122.5 586.5h1.4M119.6 583.4h1.4M119.9 581.0h1.4M123.4 590.5h1.4M126.2 589.8h1.4M122.9 581.6h1.4M121.5 582.9h1.4M122.3 590.8h1.4M117.2 595.0h1.4M127.3 586.0h1.4M119.3 588.7h1.4M124.1 589.1h1.4M113.6 578.7h1.4M126.0 580.6h1.4M125.9 586.8h1.4M121.2 577.8h1.4M119.5 587.4h1.4M126.9 576.6h1.4M117.0 587.4h1.4M127.1 587.6h1.4M127.0 577.8h1.4M120.2 578.6h1.4M115.3 588.1h1.4M118.4 585.3h1.4M124.6 590.1h1.4M117.6 592.1h1.4M126.9 596.9h1.4M123.7 594.7h1.4M117.9 574.5h1.4M124.7 573.9h1.4M125.2 590.1h1.4M132.5 594.1h1.4M120.2 594.1h1.4M126.8 576.6h1.4M127.0 581.0h1.4M125.8 576.2h1.4M119.7 591.2h1.4M121.5 581.2h1.4M118.9 577.2h1.4M120.4 586.3h1.4M121.3 582.8h1.4M128.9 604.8h1.4M132.8 589.4h1.4M117.8 584.9h1.4M128.2 597.6h1.4M124.8 595.1h1.4M119.5 585.2h1.4M124.2 588.3h1.4M135.4 593.7h1.4M122.8 603.0h1.4M121.8 593.7h1.4M125.3 594.3h1.4M121.9 586.4h1.4M125.3 591.0h1.4M124.0 586.1h1.4M117.8 592.5h1.4M122.7 595.2h1.4M118.5 574.0h1.4M134.4 583.1h1.4M119.2 592.9h1.4M130.0 579.2h1.4M122.8 569.5h1.4M117.6 584.7h1.4M114.9 589.3h1.4M120.2 586.1h1.4M123.9 581.9h1.4M130.2 579.9h1.4M108.8 588.4h1.4M124.5 590.0h1.4M124.6 587.2h1.4M120.5 585.8h1.4M120.9 576.8h1.4M118.0 589.1h1.4M119.1 598.0h1.4M125.8 595.1h1.4M127.7 593.2h1.4M120.4 588.1h1.4M122.6 581.8h1.4M123.1 577.9h1.4M122.7 587.6h1.4M123.5 582.7h1.4M124.1 580.3h1.4M117.4 579.3h1.4M119.9 578.0h1.4M117.5 586.9h1.4M116.4 577.5h1.4M118.0 598.6h1.4M128.4 583.5h1.4M117.4 572.0h1.4M121.4 571.5h1.4M127.6 586.3h1.4M127.4 578.2h1.4M121.9 580.9h1.4M124.2 587.0h1.4M122.4 595.7h1.4M121.4 581.0h1.4M129.4 579.3h1.4M126.8 578.7h1.4M119.6 582.8h1.4M116.6 591.4h1.4M130.1 583.1h1.4M125.8 597.2h1.4M124.8 582.4h1.4M131.3 578.0h1.4M122.3 583.2h1.4M129.4 572.8h1.4M130.4 594.8h1.4M123.6 580.3h1.4M123.2 592.2h1.4M117.4 575.7h1.4M117.1 584.9h1.4M121.5 587.6h1.4M119.6 586.6h1.4M125.4 589.4h1.4M109.8 583.4h1.4M114.3 583.9h1.4M128.6 589.7h1.4M118.9 586.9h1.4M122.9 577.9h1.4M125.1 596.7h1.4M123.8 583.1h1.4M121.8 575.1h1.4M124.1 579.6h1.4M121.2 568.1h1.4M123.9 597.2h1.4M115.5 593.5h1.4M120.5 597.8h1.4M123.7 595.0h1.4M119.4 582.4h1.4M127.6 585.0h1.4M128.4 579.6h1.4M128.9 578.7h1.4M115.1 596.1h1.4M119.5 576.9h1.4M120.1 581.1h1.4M117.1 582.4h1.4M125.6 581.0h1.4M119.4 588.3h1.4M126.2 580.1h1.4M123.7 583.6h1.4M126.0 575.4h1.4M126.4 584.0h1.4M119.1 593.1h1.4M120.4 595.1h1.4M124.4 575.3h1.4M125.9 594.9h1.4M129.7 576.9h1.4M120.0 577.3h1.4M128.2 590.1h1.4M121.5 586.9h1.4M127.1 587.8h1.4M126.1 591.2h1.4M110.3 587.4h1.4M124.3 596.3h1.4M120.6 585.3h1.4M125.6 586.9h1.4M127.1 592.7h1.4M117.3 591.7h1.4M124.7 588.5h1.4M121.6 583.6h1.4M119.1 589.0h1.4M125.5 580.4h1.4M134.2 569.7h1.4M122.2 589.0h1.4M124.0 593.3h1.4M124.1 588.0h1.4M120.7 586.6h1.4M123.5 586.6h1.4M116.6 590.4h1.4M118.4 592.4h1.4M114.3 582.7h1.4M125.3 587.6h1.4M122.2 580.2h1.4M124.3 570.7h1.4M120.5 576.6h1.4M117.1 583.4h1.4M126.1 589.9h1.4M121.4 594.8h1.4M119.8 587.7h1.4M127.9 587.2h1.4M122.2 585.3h1.4M112.1 577.9h1.4M121.4 582.7h1.4M123.0 581.9h1.4M114.9 595.1h1.4M122.1 593.2h1.4M115.0 582.8h1.4M113.2 589.5h1.4M129.0 585.0h1.4M116.0 590.5h1.4M126.2 594.7h1.4M121.8 581.0h1.4M123.6 570.9h1.4M122.1 581.8h1.4M122.4 590.9h1.4M125.1 570.9h1.4M128.2 586.2h1.4M127.1 583.8h1.4M123.0 568.7h1.4M121.3 572.6h1.4M126.9 584.8h1.4M122.3 585.0h1.4M121.1 574.9h1.4M123.4 580.0h1.4M119.6 595.2h1.4M113.6 579.0h1.4M115.5 591.0h1.4M126.6 586.8h1.4M118.7 584.9h1.4M129.0 579.8h1.4M132.6 584.2h1.4M123.9 599.2h1.4M121.8 581.6h1.4M123.9 586.7h1.4M121.0 581.3h1.4M120.9 589.1h1.4M125.5 587.5h1.4M128.1 599.0h1.4M124.5 583.2h1.4M125.7 601.1h1.4M120.2 589.8h1.4M124.1 577.7h1.4M124.0 571.2h1.4M127.7 588.7h1.4M118.2 594.9h1.4M117.0 584.5h1.4M127.8 572.7h1.4M127.0 570.5h1.4M123.3 591.2h1.4M127.3 579.8h1.4M134.2 591.8h1.4M117.9 589.1h1.4M116.6 563.2h1.4M117.0 581.5h1.4M122.5 588.2h1.4M123.5 585.8h1.4M126.9 588.0h1.4M117.7 578.9h1.4M120.3 582.0h1.4M130.1 577.1h1.4M127.0 577.9h1.4M115.7 589.9h1.4M123.2 582.6h1.4M124.3 585.9h1.4M128.5 590.7h1.4M130.7 584.7h1.4M117.2 578.4h1.4M119.2 587.9h1.4M130.3 588.8h1.4M127.8 585.3h1.4M124.3 586.7h1.4M124.6 577.4h1.4M118.9 596.0h1.4M125.3 588.3h1.4M117.7 583.3h1.4M115.7 586.5h1.4M126.3 594.2h1.4M121.4 593.1h1.4M123.5 578.7h1.4M127.1 583.1h1.4M116.4 572.2h1.4M123.1 583.5h1.4M126.4 604.5h1.4M120.5 591.7h1.4M119.5 575.1h1.4M120.1 572.7h1.4M118.6 581.8h1.4M121.9 575.8h1.4M120.8 591.6h1.4M118.4 589.3h1.4M121.3 572.0h1.4M130.6 600.2h1.4M129.5 588.8h1.4M127.4 581.4h1.4M117.3 584.3h1.4M113.8 593.8h1.4M127.0 584.4h1.4M125.1 584.1h1.4M122.6 582.0h1.4M125.5 581.3h1.4M128.4 588.0h1.4M125.2 575.7h1.4M110.2 594.1h1.4M118.3 585.8h1.4M121.8 592.8h1.4M123.2 578.1h1.4M117.2 581.2h1.4M117.5 569.0h1.4M111.4 590.9h1.4M123.1 588.9h1.4M120.9 584.3h1.4M116.0 584.9h1.4M123.7 589.3h1.4M117.5 596.6h1.4M123.0 583.3h1.4M108.6 592.2h1.4M119.1 576.7h1.4M119.7 583.8h1.4M120.2 591.9h1.4M127.2 589.3h1.4M128.7 586.0h1.4M124.0 578.0h1.4M120.8 569.1h1.4M120.5 587.4h1.4M121.1 594.9h1.4M123.9 580.5h1.4M123.1 584.4h1.4M126.7 577.7h1.4M130.3 584.3h1.4M130.4 573.7h1.4M123.3 579.7h1.4M116.6 586.9h1.4M128.9 598.5h1.4M121.4 588.6h1.4M122.0 588.4h1.4M128.4 601.7h1.4M121.6 588.0h1.4M127.0 594.1h1.4M129.6 593.9h1.4M119.0 587.4h1.4M128.1 590.3h1.4M119.6 580.3h1.4M123.0 587.1h1.4M124.4 592.4h1.4M124.1 585.0h1.4M121.8 576.9h1.4M125.8 583.6h1.4M120.3 581.4h1.4M119.2 581.9h1.4M120.2 615.0h1.4M129.9 585.4h1.4M119.1 596.1h1.4M119.9 582.1h1.4M122.5 602.6h1.4M124.7 584.0h1.4M118.8 578.9h1.4M120.8 598.3h1.4M127.0 593.3h1.4M124.7 586.5h1.4M124.5 585.3h1.4M130.2 584.1h1.4M130.9 579.1h1.4M131.0 589.5h1.4M120.8 588.5h1.4M122.6 581.5h1.4M117.5 594.2h1.4M116.7 574.8h1.4M125.5 575.0h1.4M128.0 584.9h1.4M118.1 592.5h1.4M118.8 579.3h1.4M123.9 581.1h1.4M124.9 594.3h1.4M124.9 583.3h1.4M117.8 573.9h1.4M116.9 597.3h1.4M117.9 578.3h1.4M125.6 591.6h1.4M109.7 589.3h1.4M115.1 580.4h1.4M125.2 569.3h1.4M123.3 589.6h1.4M125.2 577.1h1.4M124.3 589.1h1.4M112.9 585.2h1.4M129.7 611.7h1.4M128.1 592.8h1.4M126.9 595.3h1.4M138.4 571.1h1.4M128.3 592.6h1.4M135.1 588.4h1.4M112.3 574.0h1.4M118.3 587.1h1.4M118.7 612.7h1.4M116.4 602.5h1.4M118.3 565.6h1.4M115.2 583.5h1.4M126.5 576.9h1.4M132.5 576.2h1.4M122.0 591.6h1.4M116.0 587.1h1.4M123.8 590.0h1.4M139.1 600.1h1.4M136.5 582.8h1.4M122.3 588.6h1.4M127.4 575.1h1.4M129.9 576.4h1.4M118.1 584.9h1.4M120.5 573.9h1.4M132.3 586.1h1.4M129.0 585.2h1.4M111.9 584.1h1.4M121.8 579.8h1.4M129.5 583.5h1.4M128.5 573.8h1.4M121.2 580.4h1.4M117.5 591.4h1.4M124.4 589.0h1.4M116.1 601.7h1.4M134.8 587.5h1.4M122.1 580.9h1.4M128.7 570.0h1.4M115.7 563.4h1.4M119.2 581.3h1.4M115.4 580.5h1.4M115.5 602.2h1.4M137.1 586.4h1.4M131.0 586.4h1.4M131.6 589.9h1.4M124.5 602.6h1.4M111.2 594.1h1.4M124.8 590.8h1.4M125.4 600.5h1.4M103.1 581.4h1.4M135.1 602.8h1.4M132.7 567.0h1.4M135.1 590.8h1.4M142.1 594.5h1.4M128.5 595.3h1.4M121.0 589.9h1.4M112.1 587.9h1.4M125.6 589.7h1.4M130.5 588.5h1.4M127.1 581.4h1.4M112.9 587.0h1.4M107.5 599.7h1.4M118.5 593.9h1.4M126.7 585.3h1.4M122.8 569.5h1.4M115.7 576.2h1.4M117.7 590.0h1.4M116.3 579.3h1.4M114.5 570.6h1.4M115.0 576.3h1.4M131.4 591.3h1.4M116.7 589.9h1.4M117.3 594.1h1.4M112.3 575.6h1.4M120.5 569.2h1.4M139.7 591.5h1.4M123.3 577.7h1.4M137.3 574.2h1.4M124.7 589.9h1.4M138.0 594.5h1.4M137.4 592.2h1.4M114.7 591.4h1.4M119.7 602.3h1.4M134.5 584.4h1.4M114.0 590.7h1.4M113.0 582.7h1.4M117.6 602.5h1.4M115.8 587.0h1.4M109.6 586.5h1.4M118.9 574.4h1.4M126.9 585.7h1.4M115.5 587.0h1.4M142.0 579.7h1.4M100.1 592.6h1.4M128.1 575.5h1.4M112.5 570.6h1.4M124.1 601.9h1.4M132.7 600.2h1.4M121.4 575.4h1.4M113.7 575.9h1.4M113.7 582.0h1.4M131.0 613.1h1.4M128.7 573.2h1.4M124.6 590.6h1.4M135.9 563.4h1.4M121.8 583.7h1.4M117.2 597.3h1.4M123.5 589.7h1.4M114.0 564.4h1.4M127.7 595.9h1.4M127.1 583.3h1.4M123.1 589.1h1.4M130.5 583.2h1.4M130.2 592.6h1.4M108.0 599.5h1.4M126.4 595.5h1.4M127.5 601.6h1.4M129.7 596.7h1.4M105.3 589.1h1.4M125.7 574.1h1.4M135.5 589.3h1.4M119.9 607.4h1.4M120.2 591.3h1.4M95.2 583.4h1.4M134.8 566.4h1.4M121.2 581.3h1.4M112.7 602.1h1.4M129.7 600.5h1.4M132.5 579.9h1.4M119.9 588.3h1.4M124.8 576.4h1.4M128.6 592.8h1.4M121.4 589.6h1.4M142.2 570.7h1.4M111.7 602.3h1.4M117.6 594.0h1.4M135.4 602.6h1.4M129.5 586.6h1.4M115.8 576.4h1.4M127.3 568.4h1.4M107.0 604.1h1.4M116.3 576.1h1.4M120.6 575.9h1.4M130.2 602.5h1.4M120.4 608.5h1.4M129.7 589.1h1.4M123.6 579.4h1.4M123.8 605.3h1.4M108.1 582.5h1.4M129.3 575.0h1.4M132.3 598.5h1.4M118.3 603.7h1.4M131.9 594.0h1.4M123.0 587.0h1.4M129.2 596.2h1.4M144.9 597.7h1.4M127.5 582.9h1.4M125.3 587.0h1.4M126.6 580.6h1.4M117.0 581.4h1.4M103.3 603.6h1.4M121.4 564.1h1.4M114.3 575.0h1.4M109.5 600.8h1.4M119.4 571.0h1.4M136.1 597.1h1.4M129.1 572.5h1.4M119.4 599.1h1.4M123.5 604.0h1.4M114.1 578.4h1.4M119.0 585.4h1.4M126.7 583.4h1.4M117.9 593.5h1.4M110.2 576.5h1.4M123.0 596.1h1.4M110.3 575.5h1.4M103.9 581.9h1.4M114.0 586.4h1.4M117.3 585.8h1.4M133.8 590.7h1.4M125.6 572.4h1.4M116.9 593.8h1.4M125.6 590.8h1.4M124.5 582.3h1.4M123.3 596.0h1.4M125.8 564.3h1.4M131.7 572.2h1.4M128.3 572.7h1.4M128.3 575.4h1.4M102.7 586.8h1.4M117.0 593.9h1.4M133.1 596.1h1.4M129.7 578.7h1.4M124.6 566.1h1.4M124.8 575.4h1.4M136.2 590.4h1.4M112.3 573.1h1.4M138.5 591.1h1.4M132.1 587.1h1.4M114.9 589.9h1.4M110.0 581.6h1.4M134.0 544.8h1.4M121.2 597.2h1.4M111.3 589.1h1.4M135.7 573.7h1.4M119.7 580.3h1.4M137.7 602.4h1.4M126.2 575.1h1.4M119.0 578.3h1.4M124.3 573.4h1.4M139.3 569.9h1.4M120.6 573.2h1.4M132.1 556.4h1.4M117.7 594.7h1.4M128.2 605.2h1.4M125.9 605.2h1.4M134.5 580.3h1.4M129.8 597.3h1.4M129.2 594.2h1.4M128.4 595.6h1.4M121.4 577.5h1.4M119.5 590.3h1.4M131.4 619.6h1.4M134.3 573.6h1.4M129.7 598.6h1.4M112.7 578.9h1.4M127.2 583.7h1.4M120.4 598.2h1.4M129.1 601.3h1.4M122.9 587.2h1.4M125.2 599.5h1.4M132.1 576.7h1.4M108.4 594.3h1.4M126.3 575.9h1.4M120.3 561.4h1.4M109.4 566.3h1.4M110.5 581.3h1.4M109.7 585.6h1.4M126.2 592.2h1.4M120.4 597.0h1.4M98.6 587.0h1.4M111.8 573.0h1.4M119.2 574.8h1.4M114.6 567.4h1.4M124.9 594.5h1.4M124.5 575.7h1.4M129.3 596.8h1.4M125.7 583.7h1.4M132.4 576.4h1.4M112.9 593.7h1.4M131.9 587.1h1.4M111.5 585.0h1.4M140.1 572.6h1.4M129.2 579.6h1.4M128.0 579.4h1.4M141.6 600.4h1.4M119.0 584.6h1.4M125.0 582.4h1.4M146.4 572.8h1.4M145.6 574.7h1.4M139.4 569.0h1.4M147.4 579.0h1.4M137.4 579.3h1.4M142.7 575.4h1.4M132.8 573.6h1.4M151.4 575.3h1.4M154.2 573.0h1.4M141.6 580.9h1.4M158.0 568.1h1.4M146.6 583.3h1.4M155.1 577.2h1.4M145.2 572.3h1.4M137.7 579.1h1.4M145.4 576.1h1.4M158.6 574.5h1.4M138.2 581.0h1.4M150.7 571.4h1.4M131.5 580.5h1.4M143.2 584.0h1.4M141.3 590.6h1.4M149.5 571.5h1.4M143.5 575.0h1.4M154.8 576.2h1.4M146.9 566.2h1.4M144.5 580.7h1.4M168.5 568.3h1.4M143.8 575.6h1.4M146.6 571.4h1.4M150.8 577.3h1.4M151.8 572.2h1.4M133.5 578.5h1.4M143.4 573.6h1.4M146.8 579.7h1.4M140.3 584.1h1.4M154.6 572.9h1.4M134.3 585.1h1.4M149.1 575.3h1.4M142.7 580.2h1.4M122.8 442.5h1.4M115.3 506.0h1.4M133.3 496.5h1.4M129.3 501.5h1.4M118.3 514.0h1.4M124.3 516.5h1.4M131.8 509.0h1.4M115.8 526.0h1.4M126.8 526.5h1.4M134.3 527.5h1.4M109.3 541.5h1.4M111.8 542.5h1.4M125.8 541.5h1.4M141.8 545.0h1.4M147.8 545.0h1.4M120.8 532.5h1.4M130.3 520.0h1.4M119.3 550.0h1.4M131.8 552.5h1.4M136.8 557.5h1.4M125.8 610.0h1.4M127.8 618.5h1.4M110.3 626.5h1.4M127.8 628.5h1.4M107.8 636.0h1.4M120.3 638.5h1.4M128.3 641.5h1.4M110.3 654.0h1.4M116.8 650.0h1.4M122.8 650.0h1.4M113.3 673.0h1.4M86.8 610.0h1.4M98.3 607.5h1.4M104.3 611.0h1.4M149.3 595.0h1.4M154.3 587.5h1.4M158.3 591.0h1.4M146.8 565.0h1.4M164.3 581.0h1.4" stroke="#1c1c1c" stroke-width="1.4" fill="none"/><path d="M102.4 583.2h2.8v2.8h-2.8zM104.3 583.0h2.8v2.8h-2.8zM106.1 582.7h2.8v2.8h-2.8zM108.1 581.8h2.8v2.8h-2.8zM110.4 582.3h2.8v2.8h-2.8zM111.8 582.3h2.8v2.8h-2.8zM112.9 579.9h2.8v2.8h-2.8zM114.5 580.4h2.8v2.8h-2.8zM116.8 579.4h2.8v2.8h-2.8zM118.2 579.1h2.8v2.8h-2.8zM119.0 578.7h2.8v2.8h-2.8zM121.8 578.4h2.8v2.8h-2.8zM122.6 578.2h2.8v2.8h-2.8zM124.5 578.0h2.8v2.8h-2.8zM125.0 577.5h2.8v2.8h-2.8zM127.5 576.5h2.8v2.8h-2.8zM129.6 576.2h2.8v2.8h-2.8zM131.0 576.2h2.8v2.8h-2.8zM131.9 576.0h2.8v2.8h-2.8zM134.1 574.3h2.8v2.8h-2.8zM135.9 574.8h2.8v2.8h-2.8zM137.3 574.0h2.8v2.8h-2.8zM139.3 573.0h2.8v2.8h-2.8zM141.2 572.3h2.8v2.8h-2.8zM141.5 572.7h2.8v2.8h-2.8zM144.2 571.1h2.8v2.8h-2.8z" fill="#0000ff"/><path d="M75.6 593.5h3.4v3.4h-3.4zM84.8 592.5h3.4v3.4h-3.4zM86.8 588.4h3.4v3.4h-3.4zM92.5 586.8h3.4v3.4h-3.4zM125.3 581.9h3.4v3.4h-3.4zM141.5 577.9h3.4v3.4h-3.4zM324.3 475.8h3.4v3.4h-3.4zM305.8 490.3h3.4v3.4h-3.4zM311.8 493.3h3.4v3.4h-3.4zM301.3 514.3h3.4v3.4h-3.4zM284.3 521.8h3.4v3.4h-3.4zM269.3 532.8h3.4v3.4h-3.4zM251.3 535.3h3.4v3.4h-3.4zM240.8 542.8h3.4v3.4h-3.4zM231.3 546.8h3.4v3.4h-3.4zM214.8 549.8h3.4v3.4h-3.4zM212.3 550.3h3.4v3.4h-3.4zM206.8 549.8h3.4v3.4h-3.4zM196.3 554.8h3.4v3.4h-3.4zM191.8 552.3h3.4v3.4h-3.4zM188.3 557.8h3.4v3.4h-3.4zM190.3 558.3h3.4v3.4h-3.4zM177.3 558.8h3.4v3.4h-3.4zM171.8 561.8h3.4v3.4h-3.4zM171.8 563.8h3.4v3.4h-3.4zM165.8 564.3h3.4v3.4h-3.4zM159.3 566.3h3.4v3.4h-3.4zM153.3 568.8h3.4v3.4h-3.4zM150.8 568.8h3.4v3.4h-3.4zM141.8 576.8h3.4v3.4h-3.4zM130.8 579.3h3.4v3.4h-3.4z" fill="#0000ff"/><path d="M74.1 593.2h2.7v2.7h-2.7zM74.9 592.8h2.7v2.7h-2.7zM76.2 592.5h2.7v2.7h-2.7zM78.0 592.8h2.7v2.7h-2.7zM79.0 592.4h2.7v2.7h-2.7zM80.3 592.1h2.7v2.7h-2.7zM80.9 591.4h2.7v2.7h-2.7zM82.5 590.9h2.7v2.7h-2.7zM83.8 591.0h2.7v2.7h-2.7zM85.1 590.4h2.7v2.7h-2.7zM86.5 590.3h2.7v2.7h-2.7zM87.6 589.7h2.7v2.7h-2.7zM89.0 589.5h2.7v2.7h-2.7zM89.9 589.1h2.7v2.7h-2.7zM91.0 588.7h2.7v2.7h-2.7zM92.5 588.6h2.7v2.7h-2.7zM93.3 588.2h2.7v2.7h-2.7zM94.7 587.4h2.7v2.7h-2.7zM96.1 587.3h2.7v2.7h-2.7zM97.4 587.0h2.7v2.7h-2.7zM98.8 587.0h2.7v2.7h-2.7zM100.3 586.5h2.7v2.7h-2.7zM100.6 585.6h2.7v2.7h-2.7zM102.5 585.4h2.7v2.7h-2.7zM113.4 581.9h2.7v2.7h-2.7zM115.5 581.1h2.7v2.7h-2.7zM117.2 580.7h2.7v2.7h-2.7zM118.9 579.6h2.7v2.7h-2.7zM120.9 579.8h2.7v2.7h-2.7z" fill="#00ff00"/><path d="M310.8 476.8h3.4v3.4h-3.4zM338.3 503.3h3.4v3.4h-3.4zM209.3 548.8h3.4v3.4h-3.4zM78.1 600.6h3.4v3.4h-3.4z" fill="#00ff00"/><path d="M120.4 574.2l2.4 2.4l-2.4 2.4l-2.4 -2.4zM121.9 573.9l2.4 2.4l-2.4 2.4l-2.4 -2.4zM123.9 573.4l2.4 2.4l-2.4 2.4l-2.4 -2.4zM124.4 574.5l2.4 2.4l-2.4 2.4l-2.4 -2.4zM125.1 572.6l2.4 2.4l-2.4 2.4l-2.4 -2.4zM125.1 574.1l2.4 2.4l-2.4 2.4l-2.4 -2.4zM125.5 572.6l2.4 2.4l-2.4 2.4l-2.4 -2.4zM125.3 573.9l2.4 2.4l-2.4 2.4l-2.4 -2.4zM128.6 574.0l2.4 2.4l-2.4 2.4l-2.4 -2.4zM128.5 573.0l2.4 2.4l-2.4 2.4l-2.4 -2.4zM130.6 572.5l2.4 2.4l-2.4 2.4l-2.4 -2.4zM129.8 571.5l2.4 2.4l-2.4 2.4l-2.4 -2.4zM131.6 571.9l2.4 2.4l-2.4 2.4l-2.4 -2.4zM132.5 572.6l2.4 2.4l-2.4 2.4l-2.4 -2.4zM131.4 572.3l2.4 2.4l-2.4 2.4l-2.4 -2.4zM133.3 572.9l2.4 2.4l-2.4 2.4l-2.4 -2.4zM133.5 570.0l2.4 2.4l-2.4 2.4l-2.4 -2.4zM134.6 571.4l2.4 2.4l-2.4 2.4l-2.4 -2.4zM136.4 572.0l2.4 2.4l-2.4 2.4l-2.4 -2.4zM135.6 571.5l2.4 2.4l-2.4 2.4l-2.4 -2.4zM136.5 571.1l2.4 2.4l-2.4 2.4l-2.4 -2.4zM136.8 571.7l2.4 2.4l-2.4 2.4l-2.4 -2.4z" fill="#ff0000"/>
</g>
<path d="M61.77 739.70v-4M61.77 425.50v4M77.50 739.70v-4M77.50 425.50v4M93.22 739.70v-4M93.22 425.50v4M108.95 739.70v-8M108.95 425.50v8M124.67 739.70v-4M124.67 425.50v4M140.40 739.70v-4M140.40 425.50v4M156.12 739.70v-4M156.12 425.50v4M171.85 739.70v-4M171.85 425.50v4M187.57 739.70v-8M187.57 425.50v8M203.30 739.70v-4M203.30 425.50v4M219.02 739.70v-4M219.02 425.50v4M234.75 739.70v-4M234.75 425.50v4M250.47 739.70v-4M250.47 425.50v4M266.20 739.70v-8M266.20 425.50v8M281.92 739.70v-4M281.92 425.50v4M297.65 739.70v-4M297.65 425.50v4M313.37 739.70v-4M313.37 425.50v4M329.10 739.70v-4M329.10 425.50v4M344.82 739.70v-8M344.82 425.50v8M360.55 739.70v-4M360.55 425.50v4M51.00 724.93h4M365.50 724.93h-4M51.00 709.21h8M365.50 709.21h-8M51.00 693.49h4M365.50 693.49h-4M51.00 677.77h4M365.50 677.77h-4M51.00 662.05h4M365.50 662.05h-4M51.00 646.34h8M365.50 646.34h-8M51.00 630.62h4M365.50 630.62h-4M51.00 614.90h4M365.50 614.90h-4M51.00 599.18h4M365.50 599.18h-4M51.00 583.46h8M365.50 583.46h-8M51.00 567.75h4M365.50 567.75h-4M51.00 552.03h4M365.50 552.03h-4M51.00 536.31h4M365.50 536.31h-4M51.00 520.59h8M365.50 520.59h-8M51.00 504.88h4M365.50 504.88h-4M51.00 489.16h4M365.50 489.16h-4M51.00 473.44h4M365.50 473.44h-4M51.00 457.72h8M365.50 457.72h-8M51.00 442.00h4M365.50 442.00h-4M51.00 426.29h4M365.50 426.29h-4" stroke="#555" stroke-width="1" fill="none"/>
<rect x="51.00" y="425.50" width="314.50" height="314.20" fill="none" stroke="#4c4c4c" stroke-width="1.15"/>
<text class="t" x="109.2" y="755.9" text-anchor="middle">0</text>
<text class="t" x="187.8" y="755.9" text-anchor="middle">1</text>
<text class="t" x="266.4" y="755.9" text-anchor="middle">2</text>
<text class="t" x="345.1" y="755.9" text-anchor="middle">3</text>
<text class="t" x="44.0" y="713.8" text-anchor="end">−0.4</text>
<text class="t" x="44.0" y="650.9" text-anchor="end">−0.2</text>
<text class="t" x="44.0" y="588.1" text-anchor="end">0</text>
<text class="t" x="44.0" y="525.2" text-anchor="end">0.2</text>
<text class="t" x="44.0" y="462.3" text-anchor="end">0.4</text>
<text class="l" x="207.8" y="774.2" text-anchor="middle">R.MP9601−I.MP9701</text>
<text class="l" style="letter-spacing:-0.55px" transform="translate(22.0 581.0) rotate(-90)" text-anchor="middle">iSDSS−I.MP9701</text>
<text class="m" x="82.4" y="711.4">y=0.000+0.087x</text>
</g>
<g>
<rect x="405" y="405" width="375" height="375" fill="#fefefe"/>
<path d="M405.8 720.0v8" stroke="#ff70ff" stroke-width="1.6"/>
<clipPath id="c4"><rect x="446.0" y="425.5" width="314.5" height="314.2"/></clipPath>
<g clip-path="url(#c4)" filter="url(#bl)">
<path d="M446.0 568.6L760.5 640.4" stroke="#ff5cff" stroke-width="1.05"/><path d="M501.0 587.7h1.4M506.3 559.1h1.4M504.3 574.7h1.4M496.5 587.9h1.4M502.5 581.2h1.4M501.8 591.4h1.4M497.9 588.9h1.4M501.7 568.0h1.4M498.7 577.9h1.4M505.7 584.7h1.4M508.6 584.9h1.4M505.1 584.7h1.4M504.7 587.7h1.4M507.6 576.8h1.4M500.3 567.7h1.4M504.3 587.0h1.4M503.1 566.7h1.4M501.2 575.2h1.4M505.8 590.8h1.4M502.5 580.5h1.4M507.1 578.3h1.4M505.6 588.7h1.4M504.4 576.7h1.4M502.6 579.3h1.4M505.6 586.0h1.4M505.4 596.0h1.4M501.1 583.0h1.4M507.3 574.9h1.4M504.2 587.8h1.4M504.8 580.4h1.4M505.9 584.7h1.4M506.8 571.2h1.4M504.9 582.1h1.4M499.1 583.4h1.4M501.7 576.6h1.4M501.6 577.2h1.4M503.7 587.1h1.4M507.6 578.4h1.4M500.2 594.9h1.4M499.8 577.7h1.4M507.3 584.9h1.4M502.1 591.6h1.4M501.5 586.3h1.4M500.5 570.5h1.4M502.9 570.4h1.4M503.1 577.0h1.4M503.4 583.7h1.4M508.0 564.3h1.4M501.7 585.0h1.4M500.3 591.6h1.4M498.9 583.3h1.4M507.5 583.5h1.4M510.9 584.6h1.4M503.5 574.8h1.4M507.6 597.8h1.4M504.5 588.8h1.4M505.0 600.1h1.4M507.2 577.4h1.4M501.5 573.4h1.4M501.0 580.3h1.4M507.6 569.7h1.4M498.9 583.9h1.4M496.8 586.5h1.4M502.9 584.9h1.4M506.5 600.7h1.4M502.5 579.8h1.4M504.6 585.2h1.4M500.2 567.9h1.4M501.1 564.8h1.4M499.9 574.8h1.4M497.8 571.1h1.4M500.3 583.8h1.4M500.5 587.1h1.4M505.7 561.2h1.4M505.3 578.7h1.4M498.6 593.6h1.4M501.3 591.8h1.4M502.5 584.8h1.4M505.1 600.7h1.4M503.3 581.3h1.4M494.9 579.0h1.4M501.0 585.6h1.4M500.9 586.2h1.4M504.4 581.5h1.4M498.7 588.6h1.4M500.1 571.1h1.4M501.2 583.9h1.4M504.1 585.3h1.4M504.9 583.1h1.4M502.4 574.4h1.4M501.0 579.5h1.4M506.1 582.6h1.4M501.5 594.9h1.4M501.0 572.2h1.4M508.4 583.8h1.4M501.9 575.4h1.4M508.3 583.2h1.4M500.6 603.4h1.4M501.6 583.9h1.4M502.0 581.2h1.4M505.4 572.7h1.4M498.1 571.8h1.4M509.6 583.8h1.4M501.1 589.9h1.4M502.1 589.3h1.4M506.4 576.0h1.4M505.0 586.6h1.4M505.5 595.2h1.4M505.8 597.0h1.4M500.5 578.2h1.4M506.1 567.9h1.4M503.7 592.7h1.4M503.4 581.7h1.4M506.9 583.5h1.4M503.9 571.2h1.4M503.1 572.1h1.4M505.4 584.2h1.4M502.2 586.9h1.4M507.6 585.2h1.4M504.3 589.6h1.4M503.5 578.2h1.4M508.2 568.7h1.4M505.5 589.0h1.4M497.4 576.0h1.4M502.8 584.5h1.4M501.0 582.0h1.4M498.1 585.6h1.4M504.8 575.6h1.4M501.1 598.4h1.4M502.9 567.8h1.4M500.5 589.0h1.4M502.4 578.5h1.4M499.7 589.6h1.4M505.3 577.1h1.4M506.9 582.0h1.4M502.1 585.5h1.4M498.6 581.8h1.4M501.0 577.0h1.4M507.6 599.6h1.4M505.8 581.8h1.4M499.8 573.3h1.4M502.7 589.3h1.4M506.6 587.2h1.4M505.4 590.7h1.4M501.3 584.6h1.4M499.6 565.4h1.4M499.4 573.2h1.4M505.0 577.9h1.4M504.9 577.0h1.4M498.4 580.9h1.4M501.2 563.6h1.4M505.5 590.3h1.4M501.3 575.2h1.4M498.8 567.5h1.4M505.5 577.4h1.4M506.7 573.4h1.4M502.3 585.0h1.4M500.7 578.3h1.4M511.3 570.1h1.4M499.4 587.9h1.4M502.0 587.5h1.4M495.2 579.9h1.4M506.6 572.1h1.4M501.6 576.3h1.4M504.3 597.4h1.4M498.8 578.5h1.4M503.7 575.5h1.4M502.0 593.2h1.4M501.3 591.8h1.4M498.0 589.1h1.4M504.0 574.8h1.4M497.7 577.1h1.4M500.4 563.5h1.4M507.7 577.6h1.4M503.5 575.9h1.4M500.1 588.2h1.4M505.6 590.1h1.4M502.1 584.7h1.4M505.9 574.3h1.4M501.4 578.1h1.4M500.6 584.4h1.4M503.2 578.6h1.4M497.1 580.3h1.4M502.3 577.0h1.4M501.0 586.5h1.4M500.0 579.5h1.4M506.3 583.7h1.4M498.9 578.0h1.4M503.5 586.7h1.4M502.8 585.9h1.4M499.5 590.6h1.4M501.2 593.6h1.4M500.6 580.5h1.4M500.2 568.2h1.4M506.6 580.6h1.4M501.7 591.5h1.4M505.0 570.2h1.4M501.8 582.6h1.4M504.3 571.0h1.4M502.3 592.8h1.4M501.3 580.0h1.4M508.4 581.6h1.4M502.3 588.7h1.4M506.2 580.0h1.4M500.5 597.0h1.4M503.9 586.4h1.4M502.1 582.0h1.4M505.3 565.8h1.4M496.5 562.0h1.4M500.7 578.2h1.4M505.6 587.4h1.4M500.6 589.1h1.4M501.3 593.5h1.4M500.7 582.1h1.4M500.1 585.7h1.4M502.5 593.3h1.4M505.1 583.9h1.4M498.9 588.5h1.4M507.0 591.6h1.4M498.9 561.9h1.4M500.8 582.7h1.4M504.2 576.5h1.4M502.9 589.5h1.4M503.0 581.2h1.4M501.7 595.7h1.4M504.5 575.9h1.4M501.2 573.8h1.4M500.3 584.6h1.4M504.3 576.1h1.4M499.0 572.9h1.4M505.8 574.8h1.4M501.8 597.0h1.4M504.0 582.2h1.4M505.3 585.4h1.4M504.4 576.7h1.4M507.5 575.7h1.4M500.1 559.0h1.4M495.7 582.6h1.4M505.1 585.9h1.4M504.5 569.8h1.4M502.8 576.4h1.4M500.3 580.9h1.4M507.9 587.8h1.4M502.5 586.2h1.4M499.7 578.7h1.4M506.0 592.4h1.4M504.1 561.4h1.4M499.6 573.6h1.4M500.8 581.4h1.4M502.6 565.1h1.4M503.7 593.3h1.4M501.6 604.9h1.4M496.9 595.7h1.4M506.5 573.8h1.4M503.4 582.2h1.4M499.5 585.4h1.4M503.9 569.3h1.4M501.8 584.0h1.4M504.1 578.6h1.4M505.0 586.7h1.4M504.7 609.0h1.4M506.7 592.5h1.4M498.5 574.8h1.4M506.1 604.9h1.4M503.9 604.7h1.4M503.3 581.8h1.4M500.0 574.7h1.4M500.2 580.7h1.4M501.7 585.7h1.4M506.2 595.0h1.4M507.1 589.8h1.4M498.8 592.4h1.4M497.5 607.0h1.4M501.1 574.5h1.4M505.5 585.4h1.4M508.0 590.7h1.4M508.7 565.9h1.4M504.2 580.9h1.4M501.8 582.4h1.4M502.9 580.9h1.4M505.2 590.1h1.4M503.6 583.6h1.4M505.1 568.1h1.4M506.6 583.7h1.4M502.0 568.6h1.4M503.7 564.6h1.4M500.5 574.0h1.4M503.1 584.1h1.4M503.3 590.3h1.4M510.3 585.8h1.4M501.4 583.6h1.4M504.4 588.8h1.4M502.9 586.2h1.4M501.3 577.1h1.4M502.4 577.4h1.4M507.5 576.0h1.4M500.2 587.8h1.4M497.5 566.0h1.4M504.1 571.5h1.4M501.9 595.3h1.4M501.5 590.5h1.4M505.5 590.9h1.4M503.4 590.6h1.4M504.6 584.5h1.4M503.3 584.1h1.4M502.6 578.0h1.4M511.8 596.3h1.4M498.2 576.4h1.4M495.9 572.2h1.4M498.8 582.9h1.4M505.7 596.1h1.4M505.0 587.8h1.4M505.4 578.3h1.4M503.0 591.4h1.4M503.6 592.2h1.4M504.1 582.8h1.4M500.7 579.8h1.4M506.2 583.0h1.4M505.2 581.9h1.4M505.9 579.2h1.4M502.0 567.6h1.4M497.2 584.2h1.4M504.2 577.5h1.4M495.9 570.2h1.4M499.8 577.9h1.4M500.6 588.4h1.4M501.0 583.9h1.4M503.6 587.5h1.4M501.9 587.6h1.4M503.2 574.5h1.4M499.5 563.2h1.4M507.0 573.8h1.4M506.7 576.3h1.4M504.9 581.2h1.4M506.5 572.7h1.4M500.2 578.3h1.4M493.6 566.4h1.4M502.9 571.6h1.4M508.4 576.6h1.4M504.4 597.0h1.4M508.4 593.9h1.4M506.7 601.6h1.4M501.0 585.8h1.4M505.3 595.8h1.4M504.2 584.4h1.4M506.7 575.0h1.4M498.6 572.6h1.4M500.5 577.8h1.4M496.7 585.7h1.4M505.9 583.1h1.4M503.0 577.4h1.4M501.3 582.0h1.4M502.6 596.9h1.4M502.0 575.2h1.4M501.4 585.8h1.4M509.7 589.3h1.4M510.3 570.3h1.4M503.2 586.4h1.4M504.3 570.5h1.4M503.6 572.8h1.4M507.0 579.1h1.4M503.2 574.5h1.4M503.9 595.9h1.4M502.0 562.5h1.4M501.5 587.2h1.4M502.2 587.3h1.4M503.7 587.5h1.4M508.3 569.4h1.4M502.9 580.7h1.4M509.4 575.6h1.4M503.8 590.6h1.4M501.7 592.5h1.4M498.4 583.8h1.4M497.1 561.7h1.4M502.5 574.2h1.4M500.9 576.0h1.4M501.1 573.2h1.4M503.0 569.0h1.4M501.0 578.2h1.4M500.8 604.9h1.4M513.7 600.3h1.4M503.1 583.9h1.4M507.4 592.0h1.4M502.8 595.6h1.4M509.7 594.9h1.4M505.8 575.1h1.4M504.6 556.7h1.4M504.1 591.0h1.4M504.4 585.0h1.4M500.8 590.3h1.4M503.4 565.9h1.4M501.9 576.8h1.4M503.5 588.1h1.4M502.6 593.5h1.4M500.4 577.8h1.4M505.5 577.3h1.4M502.5 589.9h1.4M498.6 574.4h1.4M505.0 571.6h1.4M509.8 588.8h1.4M503.6 579.0h1.4M506.3 591.2h1.4M499.9 596.4h1.4M503.5 576.3h1.4M497.4 567.7h1.4M504.4 587.5h1.4M502.1 569.9h1.4M499.3 594.0h1.4M507.8 591.5h1.4M506.6 580.1h1.4M505.1 577.8h1.4M499.8 581.3h1.4M500.4 578.4h1.4M509.2 581.0h1.4M510.8 587.9h1.4M498.2 584.7h1.4M502.1 584.7h1.4M503.4 571.3h1.4M502.8 586.7h1.4M503.7 576.0h1.4M503.0 602.8h1.4M498.3 570.8h1.4M503.3 582.0h1.4M505.4 593.5h1.4M502.8 581.4h1.4M512.0 580.0h1.4M506.2 589.8h1.4M497.3 555.4h1.4M506.1 582.7h1.4M504.5 592.7h1.4M497.9 581.7h1.4M501.2 581.4h1.4M506.4 594.1h1.4M514.4 615.1h1.4M502.3 581.0h1.4M506.5 588.4h1.4M496.0 584.0h1.4M497.1 606.8h1.4M499.1 575.1h1.4M509.2 600.1h1.4M495.5 613.3h1.4M512.7 575.4h1.4M500.2 601.1h1.4M495.6 586.4h1.4M507.0 572.9h1.4M508.5 591.8h1.4M511.6 578.5h1.4M503.3 594.3h1.4M511.9 585.4h1.4M502.7 579.0h1.4M500.2 585.5h1.4M489.0 596.5h1.4M505.3 590.8h1.4M509.7 568.0h1.4M512.8 594.1h1.4M507.8 590.5h1.4M513.5 600.9h1.4M505.3 592.1h1.4M510.0 573.6h1.4M508.3 593.1h1.4M499.4 596.6h1.4M508.0 596.1h1.4M503.6 567.0h1.4M501.3 584.3h1.4M509.2 584.0h1.4M511.1 603.1h1.4M503.3 588.3h1.4M502.1 597.1h1.4M505.8 582.5h1.4M503.7 601.0h1.4M512.9 606.6h1.4M503.9 595.1h1.4M509.0 600.5h1.4M503.8 579.6h1.4M504.8 602.0h1.4M504.4 578.6h1.4M497.9 603.6h1.4M503.6 573.9h1.4M502.0 600.3h1.4M516.0 580.4h1.4M509.2 585.2h1.4M504.8 574.0h1.4M509.3 571.6h1.4M501.6 565.2h1.4M505.0 591.0h1.4M508.9 594.3h1.4M504.0 598.8h1.4M497.4 599.4h1.4M500.9 582.6h1.4M499.1 597.1h1.4M505.2 588.9h1.4M502.7 582.7h1.4M501.0 594.0h1.4M497.5 578.8h1.4M502.5 600.4h1.4M512.3 593.2h1.4M507.8 595.3h1.4M502.6 610.2h1.4M497.6 579.8h1.4M509.8 594.3h1.4M503.8 587.4h1.4M505.9 597.6h1.4M510.5 581.9h1.4M501.7 597.9h1.4M517.1 591.8h1.4M506.5 591.9h1.4M497.6 590.5h1.4M506.9 598.2h1.4M508.7 596.5h1.4M501.9 592.0h1.4M494.5 584.6h1.4M505.7 578.9h1.4M502.3 592.9h1.4M498.2 598.3h1.4M501.4 572.9h1.4M499.4 590.1h1.4M508.3 565.1h1.4M500.5 593.1h1.4M505.0 596.0h1.4M504.7 587.4h1.4M506.8 600.3h1.4M505.2 602.7h1.4M510.6 579.3h1.4M490.5 598.0h1.4M510.5 590.9h1.4M498.0 581.6h1.4M506.6 590.2h1.4M517.1 601.0h1.4M503.0 599.3h1.4M506.2 593.1h1.4M511.1 595.2h1.4M502.7 605.5h1.4M506.3 587.6h1.4M501.0 595.8h1.4M509.1 592.5h1.4M505.2 589.5h1.4M504.2 567.1h1.4M497.4 594.5h1.4M506.9 599.9h1.4M503.1 576.0h1.4M513.5 596.6h1.4M505.7 586.9h1.4M502.6 574.2h1.4M495.5 592.1h1.4M516.7 609.0h1.4M507.4 598.1h1.4M505.6 602.2h1.4M508.2 579.5h1.4M497.4 589.5h1.4M496.8 574.3h1.4M500.9 596.0h1.4M512.5 600.4h1.4M505.7 586.3h1.4M507.4 582.8h1.4M507.6 596.9h1.4M498.5 593.2h1.4M511.9 581.0h1.4M498.7 595.3h1.4M504.8 590.5h1.4M508.6 585.5h1.4M506.7 599.2h1.4M501.7 583.5h1.4M507.3 580.4h1.4M504.6 587.5h1.4M508.6 577.7h1.4M502.6 577.0h1.4M498.4 594.2h1.4M505.5 597.9h1.4M510.7 563.6h1.4M498.2 578.2h1.4M516.8 576.9h1.4M496.3 566.1h1.4M503.2 605.4h1.4M501.5 577.8h1.4M501.9 577.8h1.4M519.0 583.9h1.4M493.4 584.0h1.4M498.8 606.7h1.4M507.9 600.6h1.4M498.6 599.0h1.4M506.8 606.4h1.4M503.2 577.4h1.4M506.0 608.4h1.4M507.8 576.6h1.4M506.6 587.9h1.4M509.1 596.0h1.4M506.0 581.0h1.4M498.8 580.3h1.4M502.1 602.4h1.4M496.8 589.1h1.4M509.8 583.2h1.4M504.9 602.1h1.4M506.3 602.5h1.4M504.8 594.0h1.4M503.1 588.4h1.4M498.3 585.4h1.4M502.2 592.6h1.4M505.9 582.3h1.4M499.9 596.8h1.4M499.4 595.8h1.4M505.2 584.6h1.4M501.5 597.5h1.4M500.2 568.1h1.4M499.3 595.7h1.4M504.2 602.5h1.4M508.0 605.8h1.4M493.5 593.4h1.4M503.5 589.3h1.4M505.4 577.6h1.4M503.9 583.1h1.4M510.2 584.5h1.4M499.0 580.4h1.4M502.5 575.7h1.4M512.0 591.6h1.4M514.5 572.2h1.4M501.3 580.0h1.4M505.3 570.8h1.4M511.0 590.2h1.4M498.5 587.5h1.4M502.5 595.7h1.4M505.3 580.8h1.4M505.5 590.8h1.4M504.3 588.2h1.4M504.2 574.5h1.4M503.1 568.8h1.4M499.1 583.6h1.4M500.9 596.3h1.4M501.3 613.0h1.4M507.3 613.8h1.4M503.6 590.6h1.4M501.2 551.6h1.4M503.0 569.8h1.4M497.8 546.8h1.4M502.6 538.8h1.4M503.3 575.8h1.4M501.5 564.4h1.4M508.0 573.1h1.4M502.1 551.0h1.4M499.7 578.5h1.4M501.7 583.0h1.4M506.1 600.1h1.4M501.8 558.2h1.4M501.1 564.0h1.4M505.4 573.3h1.4M501.6 579.7h1.4M495.4 593.3h1.4M506.3 565.9h1.4M497.4 562.9h1.4M500.1 595.4h1.4M502.2 560.2h1.4M502.3 557.2h1.4M502.1 581.6h1.4M501.0 573.9h1.4M505.0 561.8h1.4M501.7 567.6h1.4M504.6 581.1h1.4M498.4 553.5h1.4M501.4 577.8h1.4M497.7 596.2h1.4M502.7 568.3h1.4M500.9 555.6h1.4M505.3 569.3h1.4M498.2 566.6h1.4M499.3 575.4h1.4M503.7 562.4h1.4M500.9 577.5h1.4M497.9 584.6h1.4M504.1 578.3h1.4M500.8 567.4h1.4M499.6 583.2h1.4M496.3 589.2h1.4M505.9 557.8h1.4M502.2 576.3h1.4M504.2 590.4h1.4M505.6 572.7h1.4M504.9 560.5h1.4M504.8 586.5h1.4M503.5 559.5h1.4M498.5 560.4h1.4M503.6 574.2h1.4M499.7 578.6h1.4M495.1 570.8h1.4M500.0 582.7h1.4M500.2 566.5h1.4M501.7 576.3h1.4M500.7 553.1h1.4M506.1 585.0h1.4M498.3 566.1h1.4M499.5 584.9h1.4M502.1 563.2h1.4M506.0 552.3h1.4M503.4 554.2h1.4M501.6 573.5h1.4M506.2 582.1h1.4M497.2 558.2h1.4M502.5 569.7h1.4M502.2 570.5h1.4M504.4 572.2h1.4M503.8 551.6h1.4M499.0 558.0h1.4M505.7 553.8h1.4M504.9 580.0h1.4M501.3 578.9h1.4M501.1 574.6h1.4M502.1 564.5h1.4M503.7 572.0h1.4M499.1 565.1h1.4M498.6 574.9h1.4M500.2 593.1h1.4M497.6 557.5h1.4M497.9 559.0h1.4M498.9 542.0h1.4M501.9 571.6h1.4M504.8 576.1h1.4M506.1 576.8h1.4M507.3 560.9h1.4M503.6 571.2h1.4M500.5 570.4h1.4M504.1 580.6h1.4M503.3 570.3h1.4M500.1 564.9h1.4M507.1 567.5h1.4M498.7 570.5h1.4M503.4 583.9h1.4M500.8 587.8h1.4M503.2 605.3h1.4M497.0 593.2h1.4M502.4 568.9h1.4M505.6 557.3h1.4M505.1 566.3h1.4M503.9 576.5h1.4M500.9 574.2h1.4M505.4 550.4h1.4M505.9 578.8h1.4M504.1 573.1h1.4M499.2 560.2h1.4M499.4 587.6h1.4M504.8 574.1h1.4M498.4 568.0h1.4M502.2 559.6h1.4M502.3 571.1h1.4M500.9 573.6h1.4M501.9 581.9h1.4M501.2 588.1h1.4M505.7 558.4h1.4M502.3 579.4h1.4M505.0 556.3h1.4M499.8 552.2h1.4M504.1 577.3h1.4M498.2 576.5h1.4M496.8 431.0h1.4M499.3 429.0h1.4M505.3 427.5h1.4M511.8 427.5h1.4M514.3 440.0h1.4M500.8 445.0h1.4M509.3 455.0h1.4M510.8 480.0h1.4M500.3 487.5h1.4M495.3 497.5h1.4M499.3 507.5h1.4M505.3 518.5h1.4M501.8 527.5h1.4M510.3 537.5h1.4M514.3 540.0h1.4M511.8 541.5h1.4M500.3 540.0h1.4M477.8 558.5h1.4M484.3 610.0h1.4M514.3 605.0h1.4M496.8 625.0h1.4M500.8 626.0h1.4M499.3 633.5h1.4M500.3 640.0h1.4M501.8 648.5h1.4M509.3 683.5h1.4M519.3 575.0h1.4M525.3 581.0h1.4M521.8 592.5h1.4M528.3 587.5h1.4" stroke="#1c1c1c" stroke-width="1.4" fill="none"/><path d="M519.5 584.6h2.8v2.8h-2.8zM520.5 584.3h2.8v2.8h-2.8zM522.1 585.0h2.8v2.8h-2.8zM523.9 584.6h2.8v2.8h-2.8zM525.8 584.8h2.8v2.8h-2.8zM526.5 585.7h2.8v2.8h-2.8zM528.4 585.9h2.8v2.8h-2.8zM531.0 586.0h2.8v2.8h-2.8zM532.3 585.3h2.8v2.8h-2.8zM533.2 585.7h2.8v2.8h-2.8zM534.0 586.6h2.8v2.8h-2.8zM535.4 586.4h2.8v2.8h-2.8zM537.1 586.6h2.8v2.8h-2.8zM538.5 586.4h2.8v2.8h-2.8z" fill="#0000ff"/><path d="M473.7 574.2h3.4v3.4h-3.4zM480.4 575.9h3.4v3.4h-3.4zM486.8 576.3h3.4v3.4h-3.4zM490.9 579.3h3.4v3.4h-3.4zM494.9 577.3h3.4v3.4h-3.4zM500.0 583.4h3.4v3.4h-3.4zM508.1 585.4h3.4v3.4h-3.4zM542.9 587.4h3.4v3.4h-3.4zM544.2 588.8h3.4v3.4h-3.4zM554.5 588.4h3.4v3.4h-3.4zM555.7 591.9h3.4v3.4h-3.4zM571.3 595.5h3.4v3.4h-3.4zM572.9 592.9h3.4v3.4h-3.4zM488.9 576.9h3.4v3.4h-3.4zM492.9 578.3h3.4v3.4h-3.4zM496.4 578.9h3.4v3.4h-3.4zM504.1 581.7h3.4v3.4h-3.4zM512.2 583.8h3.4v3.4h-3.4zM515.2 584.4h3.4v3.4h-3.4zM595.7 600.8h3.4v3.4h-3.4zM622.1 607.0h3.4v3.4h-3.4zM623.2 607.6h3.4v3.4h-3.4zM634.3 608.6h3.4v3.4h-3.4z" fill="#0000ff"/><path d="M474.4 572.5h2.8v2.8h-2.8zM475.3 573.3h2.8v2.8h-2.8zM476.3 574.0h2.8v2.8h-2.8zM478.1 574.2h2.8v2.8h-2.8zM478.8 574.0h2.8v2.8h-2.8zM480.1 574.3h2.8v2.8h-2.8zM481.2 575.1h2.8v2.8h-2.8zM483.1 575.1h2.8v2.8h-2.8zM484.4 575.7h2.8v2.8h-2.8zM485.3 578.3h2.8v2.8h-2.8zM487.3 578.4h2.8v2.8h-2.8zM488.6 579.1h2.8v2.8h-2.8zM490.5 579.3h2.8v2.8h-2.8zM492.4 579.7h2.8v2.8h-2.8zM497.4 579.2h2.8v2.8h-2.8zM498.5 579.9h2.8v2.8h-2.8zM500.1 579.8h2.8v2.8h-2.8zM501.8 580.6h2.8v2.8h-2.8zM503.3 580.1h2.8v2.8h-2.8z" fill="#00ff00"/><path d="M460.5 572.2h3.4v3.4h-3.4zM591.4 596.8h3.4v3.4h-3.4zM618.6 604.4h3.4v3.4h-3.4zM741.9 630.1h3.4v3.4h-3.4z" fill="#00ff00"/><path d="M508.1 580.9l2.4 2.4l-2.4 2.4l-2.4 -2.4zM507.6 580.7l2.4 2.4l-2.4 2.4l-2.4 -2.4zM509.0 581.4l2.4 2.4l-2.4 2.4l-2.4 -2.4zM509.7 582.3l2.4 2.4l-2.4 2.4l-2.4 -2.4zM510.3 582.2l2.4 2.4l-2.4 2.4l-2.4 -2.4zM511.8 581.5l2.4 2.4l-2.4 2.4l-2.4 -2.4zM511.5 581.2l2.4 2.4l-2.4 2.4l-2.4 -2.4zM513.9 582.1l2.4 2.4l-2.4 2.4l-2.4 -2.4zM513.2 583.7l2.4 2.4l-2.4 2.4l-2.4 -2.4zM514.7 582.6l2.4 2.4l-2.4 2.4l-2.4 -2.4zM514.9 583.0l2.4 2.4l-2.4 2.4l-2.4 -2.4zM515.1 582.7l2.4 2.4l-2.4 2.4l-2.4 -2.4zM517.0 583.4l2.4 2.4l-2.4 2.4l-2.4 -2.4zM517.0 584.2l2.4 2.4l-2.4 2.4l-2.4 -2.4zM517.9 583.3l2.4 2.4l-2.4 2.4l-2.4 -2.4zM518.4 584.5l2.4 2.4l-2.4 2.4l-2.4 -2.4zM519.5 584.1l2.4 2.4l-2.4 2.4l-2.4 -2.4zM520.0 584.5l2.4 2.4l-2.4 2.4l-2.4 -2.4z" fill="#ff0000"/>
</g>
<path d="M451.42 739.70v-4M451.42 425.50v4M467.12 739.70v-4M467.12 425.50v4M482.82 739.70v-4M482.82 425.50v4M498.52 739.70v-8M498.52 425.50v8M514.22 739.70v-4M514.22 425.50v4M529.92 739.70v-4M529.92 425.50v4M545.63 739.70v-4M545.63 425.50v4M561.33 739.70v-4M561.33 425.50v4M577.03 739.70v-8M577.03 425.50v8M592.73 739.70v-4M592.73 425.50v4M608.43 739.70v-4M608.43 425.50v4M624.13 739.70v-4M624.13 425.50v4M639.83 739.70v-4M639.83 425.50v4M655.54 739.70v-8M655.54 425.50v8M671.24 739.70v-4M671.24 425.50v4M686.94 739.70v-4M686.94 425.50v4M702.64 739.70v-4M702.64 425.50v4M718.34 739.70v-4M718.34 425.50v4M734.04 739.70v-8M734.04 425.50v8M749.74 739.70v-4M749.74 425.50v4M446.00 737.81h4M760.50 737.81h-4M446.00 722.09h4M760.50 722.09h-4M446.00 706.36h8M760.50 706.36h-8M446.00 690.64h4M760.50 690.64h-4M446.00 674.91h4M760.50 674.91h-4M446.00 659.18h4M760.50 659.18h-4M446.00 643.46h8M760.50 643.46h-8M446.00 627.73h4M760.50 627.73h-4M446.00 612.01h4M760.50 612.01h-4M446.00 596.28h4M760.50 596.28h-4M446.00 580.56h8M760.50 580.56h-8M446.00 564.83h4M760.50 564.83h-4M446.00 549.10h4M760.50 549.10h-4M446.00 533.38h4M760.50 533.38h-4M446.00 517.65h8M760.50 517.65h-8M446.00 501.93h4M760.50 501.93h-4M446.00 486.20h4M760.50 486.20h-4M446.00 470.48h4M760.50 470.48h-4M446.00 454.75h8M760.50 454.75h-8M446.00 439.02h4M760.50 439.02h-4" stroke="#555" stroke-width="1" fill="none"/>
<rect x="446.00" y="425.50" width="314.50" height="314.20" fill="none" stroke="#4c4c4c" stroke-width="1.15"/>
<text class="t" x="498.8" y="755.9" text-anchor="middle">0</text>
<text class="t" x="577.3" y="755.9" text-anchor="middle">1</text>
<text class="t" x="655.8" y="755.9" text-anchor="middle">2</text>
<text class="t" x="734.3" y="755.9" text-anchor="middle">3</text>
<text class="t" x="439.0" y="711.0" text-anchor="end">−0.4</text>
<text class="t" x="439.0" y="648.1" text-anchor="end">−0.2</text>
<text class="t" x="439.0" y="585.2" text-anchor="end">0</text>
<text class="t" x="439.0" y="522.3" text-anchor="end">0.2</text>
<text class="t" x="439.0" y="459.3" text-anchor="end">0.4</text>
<text class="l" x="602.8" y="774.2" text-anchor="middle">I.MP9701−Z.MP9801</text>
<text class="l" style="letter-spacing:-0.55px" transform="translate(417.0 581.0) rotate(-90)" text-anchor="middle">zSDSS−Z.MP9801</text>
<text class="m" x="477.4" y="711.4">y=0.000−0.057x</text>
</g>
</svg></body></html>
